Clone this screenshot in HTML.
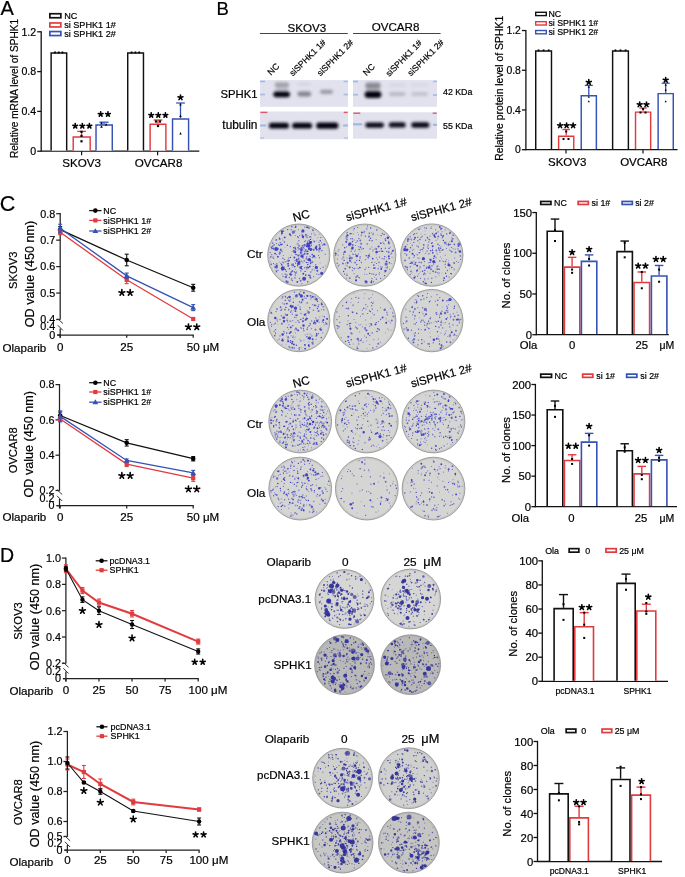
<!DOCTYPE html>
<html><head><meta charset="utf-8"><style>
html,body{margin:0;padding:0;background:#fff;}
svg{display:block;font-family:"Liberation Sans", sans-serif;filter:blur(0.35px);}
text{stroke:#000;stroke-width:0.2px;}
</style></head><body>
<svg width="685" height="877" viewBox="0 0 685 877">
<defs>
<radialGradient id="dishg" cx="50%" cy="50%" r="50%">
<stop offset="0" stop-color="#c6c6c6"/><stop offset="0.88" stop-color="#c2c2c2"/><stop offset="1" stop-color="#b0b0b0"/>
</radialGradient>
<radialGradient id="dishg2" cx="50%" cy="50%" r="50%">
<stop offset="0" stop-color="#c9c9c5"/><stop offset="0.88" stop-color="#c5c5c2"/><stop offset="1" stop-color="#b4b4b2"/>
</radialGradient>
<filter id="bl" x="-50%" y="-100%" width="200%" height="300%"><feGaussianBlur stdDeviation="1.5"/></filter>
<filter id="bl2" x="-50%" y="-100%" width="200%" height="300%"><feGaussianBlur stdDeviation="0.6"/></filter>
</defs>
<rect width="685" height="877" fill="#fff"/>
<text x="0.5" y="14.6" font-size="20" text-anchor="start" fill="#000">A</text>
<rect x="49.85" y="13.75" width="11" height="4" fill="#fff" stroke="#111" stroke-width="1.7"/>
<rect x="49.85" y="22.95" width="11" height="4" fill="#fff" stroke="#e23b3f" stroke-width="1.7"/>
<rect x="49.85" y="31.55" width="11" height="4" fill="#fff" stroke="#3552b5" stroke-width="1.7"/>
<text x="64.2" y="18.7" font-size="9.1" text-anchor="start" fill="#000">NC</text>
<text x="64.2" y="27.9" font-size="9.1" text-anchor="start" fill="#000">si SPHK1 1#</text>
<text x="64.2" y="36.6" font-size="9.1" text-anchor="start" fill="#000">si SPHK1 2#</text>
<line x1="41.2" y1="31.2" x2="41.2" y2="151.8" stroke="#111" stroke-width="1.3"/>
<line x1="37.2" y1="31.8" x2="41.2" y2="31.8" stroke="#111" stroke-width="1.3"/>
<text x="36.2" y="35.62" font-size="10.6" text-anchor="end" fill="#000">1.2</text>
<line x1="37.2" y1="71.6" x2="41.2" y2="71.6" stroke="#111" stroke-width="1.3"/>
<text x="36.2" y="75.42" font-size="10.6" text-anchor="end" fill="#000">0.8</text>
<line x1="37.2" y1="111.4" x2="41.2" y2="111.4" stroke="#111" stroke-width="1.3"/>
<text x="36.2" y="115.22" font-size="10.6" text-anchor="end" fill="#000">0.4</text>
<line x1="37.2" y1="151.2" x2="41.2" y2="151.2" stroke="#111" stroke-width="1.3"/>
<text x="36.2" y="155.02" font-size="10.6" text-anchor="end" fill="#000">0</text>
<line x1="41.2" y1="151.2" x2="199.3" y2="151.2" stroke="#111" stroke-width="1.2"/>
<line x1="81.6" y1="151.2" x2="81.6" y2="155.2" stroke="#111" stroke-width="1.2"/>
<line x1="157.6" y1="151.2" x2="157.6" y2="155.2" stroke="#111" stroke-width="1.2"/>
<text x="18.2" y="88.5" font-size="10.1" text-anchor="middle" fill="#000" transform="rotate(-90 18.2 88.5)">Relative mRNA level of SPHK1</text>
<text x="81.6" y="167.2" font-size="11.6" text-anchor="middle" fill="#000">SKOV3</text>
<text x="158.5" y="167.2" font-size="11.6" text-anchor="middle" fill="#000">OVCAR8</text>
<path d="M51.12 150.6V53.02H66.68V150.6" fill="#fff" stroke="#111" stroke-width="1.45"/>
<path d="M73.22 150.6V136.92H90.18V150.6" fill="#fff" stroke="#e23b3f" stroke-width="1.45"/>
<path d="M96.02 150.6V124.92H112.28V150.6" fill="#fff" stroke="#3552b5" stroke-width="1.45"/>
<path d="M127.72 150.6V53.02H143.47V150.6" fill="#fff" stroke="#111" stroke-width="1.45"/>
<path d="M150.12 150.6V124.22H165.88V150.6" fill="#fff" stroke="#e23b3f" stroke-width="1.45"/>
<path d="M172.53 150.6V119.02H188.58V150.6" fill="#fff" stroke="#3552b5" stroke-width="1.45"/>
<line x1="81.6" y1="136.2" x2="81.6" y2="131.4" stroke="#e23b3f" stroke-width="1.3"/>
<line x1="77.25" y1="131.4" x2="85.95" y2="131.4" stroke="#e23b3f" stroke-width="1.3"/>
<line x1="104" y1="124.2" x2="104" y2="122.2" stroke="#3552b5" stroke-width="1.3"/>
<line x1="99.4" y1="122.2" x2="108.6" y2="122.2" stroke="#3552b5" stroke-width="1.3"/>
<line x1="158" y1="123.5" x2="158" y2="120" stroke="#e23b3f" stroke-width="1.3"/>
<line x1="153.65" y1="120" x2="162.35" y2="120" stroke="#e23b3f" stroke-width="1.3"/>
<line x1="180.5" y1="118.3" x2="180.5" y2="103" stroke="#3552b5" stroke-width="1.3"/>
<line x1="176.15" y1="103" x2="184.85" y2="103" stroke="#3552b5" stroke-width="1.3"/>
<rect x="54.1" y="51.5" width="1.8" height="1.8" fill="#000"/>
<rect x="57.8" y="51.5" width="1.8" height="1.8" fill="#000"/>
<rect x="61.5" y="51.5" width="1.8" height="1.8" fill="#000"/>
<rect x="130.7" y="51.5" width="1.8" height="1.8" fill="#000"/>
<rect x="134.5" y="51.5" width="1.8" height="1.8" fill="#000"/>
<rect x="138.3" y="51.5" width="1.8" height="1.8" fill="#000"/>
<rect x="80.4" y="130.7" width="2.2" height="2.2" fill="#000"/>
<rect x="80.4" y="134.8" width="2.2" height="2.2" fill="#000"/>
<rect x="80.4" y="140.2" width="2.2" height="2.2" fill="#000"/>
<path d="M101.5 121.66L102.82 124.19L100.18 124.19Z" fill="#000"/>
<path d="M101.5 125.26L102.82 127.79L100.18 127.79Z" fill="#000"/>
<path d="M106.1 122.96L107.42 125.49L104.78 125.49Z" fill="#000"/>
<rect x="154.9" y="120.4" width="2.2" height="2.2" fill="#000"/>
<rect x="158.9" y="120.4" width="2.2" height="2.2" fill="#000"/>
<rect x="156.9" y="124.9" width="2.2" height="2.2" fill="#000"/>
<path d="M180.5 103.1L181.7 105.4L179.3 105.4Z" fill="#000"/>
<path d="M180.5 114.6L181.7 116.9L179.3 116.9Z" fill="#000"/>
<path d="M180.5 132.1L181.7 134.4L179.3 134.4Z" fill="#000"/>
<path d="M75.2 126.01L75.2 123.55M75.2 126.01L77.54 125.25M75.2 126.01L76.65 128M75.2 126.01L73.75 128M75.2 126.01L72.86 125.25" stroke="#000" stroke-width="1.6" stroke-linecap="round" fill="none"/>
<path d="M82.3 126.01L82.3 123.55M82.3 126.01L84.64 125.25M82.3 126.01L83.75 128M82.3 126.01L80.85 128M82.3 126.01L79.96 125.25" stroke="#000" stroke-width="1.6" stroke-linecap="round" fill="none"/>
<path d="M89.4 126.01L89.4 123.55M89.4 126.01L91.74 125.25M89.4 126.01L90.85 128M89.4 126.01L87.95 128M89.4 126.01L87.06 125.25" stroke="#000" stroke-width="1.6" stroke-linecap="round" fill="none"/>
<path d="M100.65 114.21L100.65 111.75M100.65 114.21L102.99 113.45M100.65 114.21L102.1 116.2M100.65 114.21L99.2 116.2M100.65 114.21L98.31 113.45" stroke="#000" stroke-width="1.6" stroke-linecap="round" fill="none"/>
<path d="M107.95 114.21L107.95 111.75M107.95 114.21L110.29 113.45M107.95 114.21L109.4 116.2M107.95 114.21L106.5 116.2M107.95 114.21L105.61 113.45" stroke="#000" stroke-width="1.6" stroke-linecap="round" fill="none"/>
<path d="M151.2 115.21L151.2 112.75M151.2 115.21L153.54 114.45M151.2 115.21L152.65 117.2M151.2 115.21L149.75 117.2M151.2 115.21L148.86 114.45" stroke="#000" stroke-width="1.6" stroke-linecap="round" fill="none"/>
<path d="M158.3 115.21L158.3 112.75M158.3 115.21L160.64 114.45M158.3 115.21L159.75 117.2M158.3 115.21L156.85 117.2M158.3 115.21L155.96 114.45" stroke="#000" stroke-width="1.6" stroke-linecap="round" fill="none"/>
<path d="M165.4 115.21L165.4 112.75M165.4 115.21L167.74 114.45M165.4 115.21L166.85 117.2M165.4 115.21L163.95 117.2M165.4 115.21L163.06 114.45" stroke="#000" stroke-width="1.6" stroke-linecap="round" fill="none"/>
<path d="M180.5 97.53L180.5 94.97M180.5 97.53L182.94 96.74M180.5 97.53L182.01 99.6M180.5 97.53L178.99 99.6M180.5 97.53L178.06 96.74" stroke="#000" stroke-width="1.6" stroke-linecap="round" fill="none"/>
<text x="216.5" y="15.3" font-size="18.5" text-anchor="start" fill="#000">B</text>
<text x="306.8" y="31.6" font-size="11.6" text-anchor="middle" fill="#000">SKOV3</text>
<text x="395.5" y="31.4" font-size="11.6" text-anchor="middle" fill="#000">OVCAR8</text>
<line x1="259.9" y1="33.5" x2="347.8" y2="33.5" stroke="#444" stroke-width="1.1"/>
<line x1="353" y1="33.5" x2="440.6" y2="33.5" stroke="#444" stroke-width="1.1"/>
<text x="271" y="75.8" font-size="8.75" text-anchor="start" fill="#000" transform="rotate(-45 271 75.8)">NC</text>
<text x="293" y="76.6" font-size="8.75" text-anchor="start" fill="#000" transform="rotate(-45 293 76.6)">siSPHK1 1#</text>
<text x="320.6" y="76.6" font-size="8.75" text-anchor="start" fill="#000" transform="rotate(-45 320.6 76.6)">siSPHK1 2#</text>
<text x="366.6" y="76.2" font-size="8.75" text-anchor="start" fill="#000" transform="rotate(-45 366.6 76.2)">NC</text>
<text x="389.2" y="77" font-size="8.75" text-anchor="start" fill="#000" transform="rotate(-45 389.2 77)">siSPHK1 1#</text>
<text x="411.1" y="76.6" font-size="8.75" text-anchor="start" fill="#000" transform="rotate(-45 411.1 76.6)">siSPHK1 2#</text>
<text x="257.6" y="97.7" font-size="11.3" text-anchor="end" fill="#000">SPHK1</text>
<text x="257.4" y="129" font-size="11.9" text-anchor="end" fill="#000">tubulin</text>
<text x="443" y="95.2" font-size="8.8" text-anchor="start" fill="#000">42 KDa</text>
<text x="443" y="129.2" font-size="8.8" text-anchor="start" fill="#000">55 KDa</text>
<rect x="535.7" y="12.3" width="10.6" height="3.3" fill="#fff" stroke="#111" stroke-width="1.4"/>
<rect x="535.7" y="21.7" width="10.6" height="3.3" fill="#fff" stroke="#e23b3f" stroke-width="1.4"/>
<rect x="535.7" y="30.5" width="10.6" height="3.3" fill="#fff" stroke="#3552b5" stroke-width="1.4"/>
<text x="548.4" y="16.9" font-size="8.8" text-anchor="start" fill="#000">NC</text>
<text x="548.4" y="26.1" font-size="8.8" text-anchor="start" fill="#000">si SPHK1 1#</text>
<text x="548.4" y="34.9" font-size="8.8" text-anchor="start" fill="#000">si SPHK1 2#</text>
<line x1="525.9" y1="29.94" x2="525.9" y2="150.3" stroke="#111" stroke-width="1.3"/>
<line x1="521.9" y1="30.54" x2="525.9" y2="30.54" stroke="#111" stroke-width="1.3"/>
<text x="520.9" y="34.28" font-size="10.4" text-anchor="end" fill="#000">1.2</text>
<line x1="521.9" y1="70.26" x2="525.9" y2="70.26" stroke="#111" stroke-width="1.3"/>
<text x="520.9" y="74" font-size="10.4" text-anchor="end" fill="#000">0.8</text>
<line x1="521.9" y1="109.98" x2="525.9" y2="109.98" stroke="#111" stroke-width="1.3"/>
<text x="520.9" y="113.72" font-size="10.4" text-anchor="end" fill="#000">0.4</text>
<line x1="521.9" y1="149.7" x2="525.9" y2="149.7" stroke="#111" stroke-width="1.3"/>
<text x="520.9" y="153.44" font-size="10.4" text-anchor="end" fill="#000">0</text>
<line x1="525.9" y1="149.7" x2="677.5" y2="149.7" stroke="#111" stroke-width="1.2"/>
<line x1="566" y1="149.7" x2="566" y2="153.5" stroke="#111" stroke-width="1.2"/>
<line x1="643" y1="149.7" x2="643" y2="153.5" stroke="#111" stroke-width="1.2"/>
<text x="503.5" y="88.3" font-size="10.4" text-anchor="middle" fill="#000" transform="rotate(-90 503.5 88.3)">Relative protein level of SPHK1</text>
<text x="567.2" y="166.4" font-size="11.5" text-anchor="middle" fill="#000">SKOV3</text>
<text x="643.8" y="166.4" font-size="11.5" text-anchor="middle" fill="#000">OVCAR8</text>
<path d="M535.73 149.1V50.93H551.48V149.1" fill="#fff" stroke="#111" stroke-width="1.45"/>
<path d="M558.62 149.1V136.32H573.77V149.1" fill="#fff" stroke="#e23b3f" stroke-width="1.45"/>
<path d="M581.23 149.1V95.82H596.38V149.1" fill="#fff" stroke="#3552b5" stroke-width="1.45"/>
<path d="M612.62 149.1V50.93H628.38V149.1" fill="#fff" stroke="#111" stroke-width="1.45"/>
<path d="M635.52 149.1V112.12H650.67V149.1" fill="#fff" stroke="#e23b3f" stroke-width="1.45"/>
<path d="M658.12 149.1V93.62H673.27V149.1" fill="#fff" stroke="#3552b5" stroke-width="1.45"/>
<line x1="566.2" y1="135.6" x2="566.2" y2="129.5" stroke="#e23b3f" stroke-width="1.3"/>
<line x1="562.45" y1="129.5" x2="569.95" y2="129.5" stroke="#e23b3f" stroke-width="1.3"/>
<line x1="588.8" y1="95.1" x2="588.8" y2="85.4" stroke="#3552b5" stroke-width="1.3"/>
<line x1="584.8" y1="85.4" x2="592.8" y2="85.4" stroke="#3552b5" stroke-width="1.3"/>
<line x1="643.1" y1="111.4" x2="643.1" y2="108" stroke="#e23b3f" stroke-width="1.3"/>
<line x1="639.35" y1="108" x2="646.85" y2="108" stroke="#e23b3f" stroke-width="1.3"/>
<line x1="665.7" y1="92.9" x2="665.7" y2="83.2" stroke="#3552b5" stroke-width="1.3"/>
<line x1="661.7" y1="83.2" x2="669.7" y2="83.2" stroke="#3552b5" stroke-width="1.3"/>
<rect x="537.65" y="49.45" width="1.7" height="1.7" fill="#000"/>
<rect x="542.75" y="49.45" width="1.7" height="1.7" fill="#000"/>
<rect x="547.85" y="49.45" width="1.7" height="1.7" fill="#000"/>
<rect x="614.55" y="49.45" width="1.7" height="1.7" fill="#000"/>
<rect x="619.65" y="49.45" width="1.7" height="1.7" fill="#000"/>
<rect x="624.75" y="49.45" width="1.7" height="1.7" fill="#000"/>
<rect x="565.2" y="130.5" width="2" height="2" fill="#000"/>
<rect x="562.5" y="138" width="2" height="2" fill="#000"/>
<rect x="567.5" y="138" width="2" height="2" fill="#000"/>
<path d="M588.8 85.74L589.88 87.81L587.72 87.81Z" fill="#000"/>
<path d="M588.8 95.74L589.88 97.81L587.72 97.81Z" fill="#000"/>
<path d="M588.8 100.24L589.88 102.31L587.72 102.31Z" fill="#000"/>
<rect x="642.1" y="108" width="2" height="2" fill="#000"/>
<rect x="639.5" y="111.5" width="2" height="2" fill="#000"/>
<rect x="644.5" y="111.5" width="2" height="2" fill="#000"/>
<path d="M665.7 83.74L666.78 85.81L664.62 85.81Z" fill="#000"/>
<path d="M665.7 88.74L666.78 90.81L664.62 90.81Z" fill="#000"/>
<path d="M665.7 100.24L666.78 102.31L664.62 102.31Z" fill="#000"/>
<path d="M560.1 125.53L560.1 122.97M560.1 125.53L562.54 124.74M560.1 125.53L561.61 127.6M560.1 125.53L558.59 127.6M560.1 125.53L557.66 124.74" stroke="#000" stroke-width="1.6" stroke-linecap="round" fill="none"/>
<path d="M566.6 125.53L566.6 122.97M566.6 125.53L569.04 124.74M566.6 125.53L568.11 127.6M566.6 125.53L565.09 127.6M566.6 125.53L564.16 124.74" stroke="#000" stroke-width="1.6" stroke-linecap="round" fill="none"/>
<path d="M573.1 125.53L573.1 122.97M573.1 125.53L575.54 124.74M573.1 125.53L574.61 127.6M573.1 125.53L571.59 127.6M573.1 125.53L570.66 124.74" stroke="#000" stroke-width="1.6" stroke-linecap="round" fill="none"/>
<path d="M588.8 82.23L588.8 79.66M588.8 82.23L591.24 81.44M588.8 82.23L590.31 84.3M588.8 82.23L587.29 84.3M588.8 82.23L586.36 81.44" stroke="#000" stroke-width="1.6" stroke-linecap="round" fill="none"/>
<path d="M639.7 104.53L639.7 101.97M639.7 104.53L642.14 103.74M639.7 104.53L641.21 106.6M639.7 104.53L638.19 106.6M639.7 104.53L637.26 103.74" stroke="#000" stroke-width="1.6" stroke-linecap="round" fill="none"/>
<path d="M646.5 104.53L646.5 101.97M646.5 104.53L648.94 103.74M646.5 104.53L648.01 106.6M646.5 104.53L644.99 106.6M646.5 104.53L644.06 103.74" stroke="#000" stroke-width="1.6" stroke-linecap="round" fill="none"/>
<path d="M665.7 80.03L665.7 77.47M665.7 80.03L668.14 79.24M665.7 80.03L667.21 82.1M665.7 80.03L664.19 82.1M665.7 80.03L663.26 79.24" stroke="#000" stroke-width="1.6" stroke-linecap="round" fill="none"/>
<text x="-0.2" y="210.9" font-size="21.5" text-anchor="start" fill="#000">C</text>
<line x1="60.2" y1="213.1" x2="60.2" y2="319.6" stroke="#222" stroke-width="1.25"/>
<line x1="56.2" y1="213.7" x2="60.2" y2="213.7" stroke="#222" stroke-width="1.25"/>
<text x="55.2" y="217.59" font-size="10.8" text-anchor="end" fill="#000">0.8</text>
<line x1="56.2" y1="240.15" x2="60.2" y2="240.15" stroke="#222" stroke-width="1.25"/>
<text x="55.2" y="244.04" font-size="10.8" text-anchor="end" fill="#000">0.7</text>
<line x1="56.2" y1="266.6" x2="60.2" y2="266.6" stroke="#222" stroke-width="1.25"/>
<text x="55.2" y="270.49" font-size="10.8" text-anchor="end" fill="#000">0.6</text>
<line x1="56.2" y1="293.05" x2="60.2" y2="293.05" stroke="#222" stroke-width="1.25"/>
<text x="55.2" y="296.94" font-size="10.8" text-anchor="end" fill="#000">0.5</text>
<line x1="56.2" y1="319.5" x2="60.2" y2="319.5" stroke="#222" stroke-width="1.25"/>
<text x="55.2" y="323.39" font-size="10.8" text-anchor="end" fill="#000">0.4</text>
<line x1="60.2" y1="328.4" x2="60.2" y2="337.8" stroke="#222" stroke-width="1.25"/>
<text x="55.2" y="329.89" font-size="10.8" text-anchor="end" fill="#000">0.4</text>
<line x1="57.2" y1="335" x2="60.2" y2="335" stroke="#222" stroke-width="1.25"/>
<text x="55.2" y="338.89" font-size="10.8" text-anchor="end" fill="#000">0</text>
<line x1="57.7" y1="318.6" x2="62.9" y2="323.6" stroke="#333" stroke-width="1"/>
<line x1="57.7" y1="325.2" x2="62.9" y2="330.4" stroke="#333" stroke-width="1"/>
<line x1="57.2" y1="335" x2="193.8" y2="335" stroke="#222" stroke-width="1.25"/>
<line x1="60.2" y1="335" x2="60.2" y2="337.8" stroke="#222" stroke-width="1.25"/>
<line x1="126.7" y1="335" x2="126.7" y2="337.8" stroke="#222" stroke-width="1.25"/>
<line x1="193.2" y1="335" x2="193.2" y2="337.8" stroke="#222" stroke-width="1.25"/>
<text x="60.2" y="351.2" font-size="11.6" text-anchor="middle" fill="#000">0</text>
<text x="126.7" y="351.2" font-size="11.6" text-anchor="middle" fill="#000">25</text>
<text x="193.2" y="351.2" font-size="11.6" text-anchor="middle" fill="#000">50</text>
<text x="202.9" y="351.2" font-size="11.6" text-anchor="start" fill="#000">μM</text>
<text x="16.6" y="270.3" font-size="11.2" text-anchor="middle" fill="#000" transform="rotate(-90 16.6 270.3)">SKOV3</text>
<text x="33.5" y="274" font-size="12.6" text-anchor="middle" fill="#000" transform="rotate(-90 33.5 274)">OD value (450 nm)</text>
<text x="2.5" y="351.5" font-size="11.6" text-anchor="start" fill="#000">Olaparib</text>
<polyline points="60.2,229.57 126.7,259.99 193.2,287.76" fill="none" stroke="#111" stroke-width="1.3"/>
<line x1="60.2" y1="226.57" x2="60.2" y2="232.57" stroke="#111" stroke-width="1.1"/>
<line x1="58.2" y1="226.57" x2="62.2" y2="226.57" stroke="#111" stroke-width="1.1"/>
<line x1="58.2" y1="232.57" x2="62.2" y2="232.57" stroke="#111" stroke-width="1.1"/>
<line x1="126.7" y1="254.19" x2="126.7" y2="265.79" stroke="#111" stroke-width="1.1"/>
<line x1="124.7" y1="254.19" x2="128.7" y2="254.19" stroke="#111" stroke-width="1.1"/>
<line x1="124.7" y1="265.79" x2="128.7" y2="265.79" stroke="#111" stroke-width="1.1"/>
<line x1="193.2" y1="284.36" x2="193.2" y2="291.16" stroke="#111" stroke-width="1.1"/>
<line x1="191.2" y1="284.36" x2="195.2" y2="284.36" stroke="#111" stroke-width="1.1"/>
<line x1="191.2" y1="291.16" x2="195.2" y2="291.16" stroke="#111" stroke-width="1.1"/>
<circle cx="60.2" cy="229.57" r="2.3" fill="#000"/>
<circle cx="126.7" cy="259.99" r="2.3" fill="#000"/>
<circle cx="193.2" cy="287.76" r="2.3" fill="#000"/>
<polyline points="60.2,232.22 126.7,279.82 193.2,318.97" fill="none" stroke="#e23b3f" stroke-width="1.3"/>
<line x1="60.2" y1="229.72" x2="60.2" y2="234.72" stroke="#e23b3f" stroke-width="1.1"/>
<line x1="58.2" y1="229.72" x2="62.2" y2="229.72" stroke="#e23b3f" stroke-width="1.1"/>
<line x1="58.2" y1="234.72" x2="62.2" y2="234.72" stroke="#e23b3f" stroke-width="1.1"/>
<line x1="126.7" y1="276.02" x2="126.7" y2="283.62" stroke="#e23b3f" stroke-width="1.1"/>
<line x1="124.7" y1="276.02" x2="128.7" y2="276.02" stroke="#e23b3f" stroke-width="1.1"/>
<line x1="124.7" y1="283.62" x2="128.7" y2="283.62" stroke="#e23b3f" stroke-width="1.1"/>
<rect x="58.1" y="230.12" width="4.2" height="4.2" fill="#e23b3f"/>
<rect x="124.6" y="277.72" width="4.2" height="4.2" fill="#e23b3f"/>
<rect x="191.1" y="316.87" width="4.2" height="4.2" fill="#e23b3f"/>
<polyline points="60.2,228.25 126.7,275.86 193.2,307.6" fill="none" stroke="#3552b5" stroke-width="1.3"/>
<line x1="60.2" y1="224.25" x2="60.2" y2="232.25" stroke="#3552b5" stroke-width="1.1"/>
<line x1="58.2" y1="224.25" x2="62.2" y2="224.25" stroke="#3552b5" stroke-width="1.1"/>
<line x1="58.2" y1="232.25" x2="62.2" y2="232.25" stroke="#3552b5" stroke-width="1.1"/>
<line x1="126.7" y1="273.06" x2="126.7" y2="278.66" stroke="#3552b5" stroke-width="1.1"/>
<line x1="124.7" y1="273.06" x2="128.7" y2="273.06" stroke="#3552b5" stroke-width="1.1"/>
<line x1="124.7" y1="278.66" x2="128.7" y2="278.66" stroke="#3552b5" stroke-width="1.1"/>
<line x1="193.2" y1="304.6" x2="193.2" y2="310.6" stroke="#3552b5" stroke-width="1.1"/>
<line x1="191.2" y1="304.6" x2="195.2" y2="304.6" stroke="#3552b5" stroke-width="1.1"/>
<line x1="191.2" y1="310.6" x2="195.2" y2="310.6" stroke="#3552b5" stroke-width="1.1"/>
<path d="M60.2 225.39L63.06 230.33L57.34 230.33Z" fill="#3552b5"/>
<path d="M126.7 273L129.56 277.94L123.84 277.94Z" fill="#3552b5"/>
<path d="M193.2 304.74L196.06 309.68L190.34 309.68Z" fill="#3552b5"/>
<path d="M121.85 292.71L121.85 289.64M121.85 292.71L124.77 291.76M121.85 292.71L123.66 295.2M121.85 292.71L120.04 295.2M121.85 292.71L118.93 291.76" stroke="#000" stroke-width="1.6" stroke-linecap="round" fill="none"/>
<path d="M130.15 292.71L130.15 289.64M130.15 292.71L133.07 291.76M130.15 292.71L131.96 295.2M130.15 292.71L128.34 295.2M130.15 292.71L127.23 291.76" stroke="#000" stroke-width="1.6" stroke-linecap="round" fill="none"/>
<path d="M188.45 327.01L188.45 323.94M188.45 327.01L191.37 326.06M188.45 327.01L190.26 329.5M188.45 327.01L186.64 329.5M188.45 327.01L185.53 326.06" stroke="#000" stroke-width="1.6" stroke-linecap="round" fill="none"/>
<path d="M196.75 327.01L196.75 323.94M196.75 327.01L199.67 326.06M196.75 327.01L198.56 329.5M196.75 327.01L194.94 329.5M196.75 327.01L193.83 326.06" stroke="#000" stroke-width="1.6" stroke-linecap="round" fill="none"/>
<line x1="89.2" y1="210.6" x2="101.5" y2="210.6" stroke="#111" stroke-width="1.3"/>
<circle cx="95.35" cy="210.6" r="2.3" fill="#000"/>
<text x="103.3" y="213.8" font-size="8.9" text-anchor="start" fill="#000">NC</text>
<line x1="89.2" y1="220.4" x2="101.5" y2="220.4" stroke="#e23b3f" stroke-width="1.3"/>
<rect x="93.25" y="218.3" width="4.2" height="4.2" fill="#e23b3f"/>
<text x="103.3" y="223.6" font-size="8.9" text-anchor="start" fill="#000">siSPHK1 1#</text>
<line x1="89.2" y1="231" x2="101.5" y2="231" stroke="#3552b5" stroke-width="1.3"/>
<path d="M95.35 228.14L98.21 233.08L92.49 233.08Z" fill="#3552b5"/>
<text x="103.3" y="234.2" font-size="8.9" text-anchor="start" fill="#000">siSPHK1 2#</text>
<line x1="59.5" y1="384" x2="59.5" y2="490.6" stroke="#222" stroke-width="1.25"/>
<line x1="55.5" y1="384.6" x2="59.5" y2="384.6" stroke="#222" stroke-width="1.25"/>
<text x="54.5" y="388.49" font-size="10.8" text-anchor="end" fill="#000">0.8</text>
<line x1="55.5" y1="419.9" x2="59.5" y2="419.9" stroke="#222" stroke-width="1.25"/>
<text x="54.5" y="423.79" font-size="10.8" text-anchor="end" fill="#000">0.6</text>
<line x1="55.5" y1="455.2" x2="59.5" y2="455.2" stroke="#222" stroke-width="1.25"/>
<text x="54.5" y="459.09" font-size="10.8" text-anchor="end" fill="#000">0.4</text>
<line x1="55.5" y1="490.5" x2="59.5" y2="490.5" stroke="#222" stroke-width="1.25"/>
<text x="54.5" y="494.39" font-size="10.8" text-anchor="end" fill="#000">0.2</text>
<line x1="59.5" y1="499" x2="59.5" y2="508.4" stroke="#222" stroke-width="1.25"/>
<text x="54.5" y="501.59" font-size="10.8" text-anchor="end" fill="#000">0.2</text>
<line x1="56.5" y1="505.6" x2="59.5" y2="505.6" stroke="#222" stroke-width="1.25"/>
<text x="54.5" y="509.49" font-size="10.8" text-anchor="end" fill="#000">0</text>
<line x1="57" y1="489.6" x2="62.2" y2="494.6" stroke="#333" stroke-width="1"/>
<line x1="57" y1="495.8" x2="62.2" y2="501" stroke="#333" stroke-width="1"/>
<line x1="56.5" y1="505.6" x2="193.8" y2="505.6" stroke="#222" stroke-width="1.25"/>
<line x1="60.2" y1="505.6" x2="60.2" y2="508.4" stroke="#222" stroke-width="1.25"/>
<line x1="126.7" y1="505.6" x2="126.7" y2="508.4" stroke="#222" stroke-width="1.25"/>
<line x1="193.2" y1="505.6" x2="193.2" y2="508.4" stroke="#222" stroke-width="1.25"/>
<text x="60.2" y="521" font-size="11.6" text-anchor="middle" fill="#000">0</text>
<text x="126.7" y="521" font-size="11.6" text-anchor="middle" fill="#000">25</text>
<text x="193.2" y="521" font-size="11.6" text-anchor="middle" fill="#000">50</text>
<text x="202.9" y="521" font-size="11.6" text-anchor="start" fill="#000">μM</text>
<text x="16.6" y="450.3" font-size="11.2" text-anchor="middle" fill="#000" transform="rotate(-90 16.6 450.3)">OVCAR8</text>
<text x="33.5" y="444.3" font-size="12.6" text-anchor="middle" fill="#000" transform="rotate(-90 33.5 444.3)">OD value (450 nm)</text>
<text x="2.5" y="521" font-size="11.6" text-anchor="start" fill="#000">Olaparib</text>
<polyline points="60.2,415.49 126.7,442.85 193.2,458.73" fill="none" stroke="#111" stroke-width="1.3"/>
<line x1="60.2" y1="411.99" x2="60.2" y2="418.99" stroke="#111" stroke-width="1.1"/>
<line x1="58.2" y1="411.99" x2="62.2" y2="411.99" stroke="#111" stroke-width="1.1"/>
<line x1="58.2" y1="418.99" x2="62.2" y2="418.99" stroke="#111" stroke-width="1.1"/>
<line x1="126.7" y1="439.65" x2="126.7" y2="446.05" stroke="#111" stroke-width="1.1"/>
<line x1="124.7" y1="439.65" x2="128.7" y2="439.65" stroke="#111" stroke-width="1.1"/>
<line x1="124.7" y1="446.05" x2="128.7" y2="446.05" stroke="#111" stroke-width="1.1"/>
<line x1="193.2" y1="456.53" x2="193.2" y2="460.93" stroke="#111" stroke-width="1.1"/>
<line x1="191.2" y1="456.53" x2="195.2" y2="456.53" stroke="#111" stroke-width="1.1"/>
<line x1="191.2" y1="460.93" x2="195.2" y2="460.93" stroke="#111" stroke-width="1.1"/>
<circle cx="60.2" cy="415.49" r="2.3" fill="#000"/>
<circle cx="126.7" cy="442.85" r="2.3" fill="#000"/>
<circle cx="193.2" cy="458.73" r="2.3" fill="#000"/>
<polyline points="60.2,419.02 126.7,464.03 193.2,478.15" fill="none" stroke="#e23b3f" stroke-width="1.3"/>
<line x1="60.2" y1="416.52" x2="60.2" y2="421.52" stroke="#e23b3f" stroke-width="1.1"/>
<line x1="58.2" y1="416.52" x2="62.2" y2="416.52" stroke="#e23b3f" stroke-width="1.1"/>
<line x1="58.2" y1="421.52" x2="62.2" y2="421.52" stroke="#e23b3f" stroke-width="1.1"/>
<line x1="126.7" y1="461.53" x2="126.7" y2="466.53" stroke="#e23b3f" stroke-width="1.1"/>
<line x1="124.7" y1="461.53" x2="128.7" y2="461.53" stroke="#e23b3f" stroke-width="1.1"/>
<line x1="124.7" y1="466.53" x2="128.7" y2="466.53" stroke="#e23b3f" stroke-width="1.1"/>
<line x1="193.2" y1="474.95" x2="193.2" y2="481.35" stroke="#e23b3f" stroke-width="1.1"/>
<line x1="191.2" y1="474.95" x2="195.2" y2="474.95" stroke="#e23b3f" stroke-width="1.1"/>
<line x1="191.2" y1="481.35" x2="195.2" y2="481.35" stroke="#e23b3f" stroke-width="1.1"/>
<rect x="58.1" y="416.92" width="4.2" height="4.2" fill="#e23b3f"/>
<rect x="124.6" y="461.93" width="4.2" height="4.2" fill="#e23b3f"/>
<rect x="191.1" y="476.05" width="4.2" height="4.2" fill="#e23b3f"/>
<polyline points="60.2,416.37 126.7,460.5 193.2,472.85" fill="none" stroke="#3552b5" stroke-width="1.3"/>
<line x1="60.2" y1="410.87" x2="60.2" y2="421.87" stroke="#3552b5" stroke-width="1.1"/>
<line x1="58.2" y1="410.87" x2="62.2" y2="410.87" stroke="#3552b5" stroke-width="1.1"/>
<line x1="58.2" y1="421.87" x2="62.2" y2="421.87" stroke="#3552b5" stroke-width="1.1"/>
<line x1="126.7" y1="459" x2="126.7" y2="462" stroke="#3552b5" stroke-width="1.1"/>
<line x1="124.7" y1="459" x2="128.7" y2="459" stroke="#3552b5" stroke-width="1.1"/>
<line x1="124.7" y1="462" x2="128.7" y2="462" stroke="#3552b5" stroke-width="1.1"/>
<line x1="193.2" y1="470.35" x2="193.2" y2="475.35" stroke="#3552b5" stroke-width="1.1"/>
<line x1="191.2" y1="470.35" x2="195.2" y2="470.35" stroke="#3552b5" stroke-width="1.1"/>
<line x1="191.2" y1="475.35" x2="195.2" y2="475.35" stroke="#3552b5" stroke-width="1.1"/>
<path d="M60.2 413.51L63.06 418.45L57.34 418.45Z" fill="#3552b5"/>
<path d="M126.7 457.63L129.56 462.57L123.84 462.57Z" fill="#3552b5"/>
<path d="M193.2 469.99L196.06 474.93L190.34 474.93Z" fill="#3552b5"/>
<path d="M121.85 475.71L121.85 472.64M121.85 475.71L124.77 474.76M121.85 475.71L123.66 478.2M121.85 475.71L120.04 478.2M121.85 475.71L118.93 474.76" stroke="#000" stroke-width="1.6" stroke-linecap="round" fill="none"/>
<path d="M130.15 475.71L130.15 472.64M130.15 475.71L133.07 474.76M130.15 475.71L131.96 478.2M130.15 475.71L128.34 478.2M130.15 475.71L127.23 474.76" stroke="#000" stroke-width="1.6" stroke-linecap="round" fill="none"/>
<path d="M188.45 489.11L188.45 486.04M188.45 489.11L191.37 488.16M188.45 489.11L190.26 491.6M188.45 489.11L186.64 491.6M188.45 489.11L185.53 488.16" stroke="#000" stroke-width="1.6" stroke-linecap="round" fill="none"/>
<path d="M196.75 489.11L196.75 486.04M196.75 489.11L199.67 488.16M196.75 489.11L198.56 491.6M196.75 489.11L194.94 491.6M196.75 489.11L193.83 488.16" stroke="#000" stroke-width="1.6" stroke-linecap="round" fill="none"/>
<line x1="89.2" y1="382.7" x2="101.5" y2="382.7" stroke="#111" stroke-width="1.3"/>
<circle cx="95.35" cy="382.7" r="2.3" fill="#000"/>
<text x="103.3" y="385.9" font-size="8.9" text-anchor="start" fill="#000">NC</text>
<line x1="89.2" y1="392" x2="101.5" y2="392" stroke="#e23b3f" stroke-width="1.3"/>
<rect x="93.25" y="389.9" width="4.2" height="4.2" fill="#e23b3f"/>
<text x="103.3" y="395.2" font-size="8.9" text-anchor="start" fill="#000">siSPHK1 1#</text>
<line x1="89.2" y1="402.2" x2="101.5" y2="402.2" stroke="#3552b5" stroke-width="1.3"/>
<path d="M95.35 399.34L98.21 404.28L92.49 404.28Z" fill="#3552b5"/>
<text x="103.3" y="405.4" font-size="8.9" text-anchor="start" fill="#000">siSPHK1 2#</text>
<text x="0" y="562" font-size="19.5" text-anchor="start" fill="#000">D</text>
<line x1="65.9" y1="557.5" x2="65.9" y2="663.4" stroke="#222" stroke-width="1.25"/>
<line x1="61.9" y1="558.1" x2="65.9" y2="558.1" stroke="#222" stroke-width="1.25"/>
<text x="60.9" y="561.99" font-size="10.8" text-anchor="end" fill="#000">1.0</text>
<line x1="61.9" y1="584.4" x2="65.9" y2="584.4" stroke="#222" stroke-width="1.25"/>
<text x="60.9" y="588.29" font-size="10.8" text-anchor="end" fill="#000">0.8</text>
<line x1="61.9" y1="610.7" x2="65.9" y2="610.7" stroke="#222" stroke-width="1.25"/>
<text x="60.9" y="614.59" font-size="10.8" text-anchor="end" fill="#000">0.6</text>
<line x1="61.9" y1="637" x2="65.9" y2="637" stroke="#222" stroke-width="1.25"/>
<text x="60.9" y="640.89" font-size="10.8" text-anchor="end" fill="#000">0.4</text>
<line x1="61.9" y1="663.3" x2="65.9" y2="663.3" stroke="#222" stroke-width="1.25"/>
<text x="60.9" y="667.19" font-size="10.8" text-anchor="end" fill="#000">0.2</text>
<line x1="65.9" y1="671.5" x2="65.9" y2="681.4" stroke="#222" stroke-width="1.25"/>
<text x="60.9" y="674.79" font-size="10.8" text-anchor="end" fill="#000">0.2</text>
<line x1="62.9" y1="678.6" x2="65.9" y2="678.6" stroke="#222" stroke-width="1.25"/>
<text x="60.9" y="682.49" font-size="10.8" text-anchor="end" fill="#000">0</text>
<line x1="63.4" y1="662.4" x2="68.6" y2="667.4" stroke="#333" stroke-width="1"/>
<line x1="63.4" y1="668.3" x2="68.6" y2="673.5" stroke="#333" stroke-width="1"/>
<line x1="62.9" y1="678.6" x2="198.8" y2="678.6" stroke="#222" stroke-width="1.25"/>
<line x1="65.9" y1="678.6" x2="65.9" y2="681.4" stroke="#222" stroke-width="1.25"/>
<line x1="98.97" y1="678.6" x2="98.97" y2="681.4" stroke="#222" stroke-width="1.25"/>
<line x1="132.05" y1="678.6" x2="132.05" y2="681.4" stroke="#222" stroke-width="1.25"/>
<line x1="165.12" y1="678.6" x2="165.12" y2="681.4" stroke="#222" stroke-width="1.25"/>
<line x1="198.2" y1="678.6" x2="198.2" y2="681.4" stroke="#222" stroke-width="1.25"/>
<text x="65.9" y="694.4" font-size="11.6" text-anchor="middle" fill="#000">0</text>
<text x="98.97" y="694.4" font-size="11.6" text-anchor="middle" fill="#000">25</text>
<text x="132.05" y="694.4" font-size="11.6" text-anchor="middle" fill="#000">50</text>
<text x="165.12" y="694.4" font-size="11.6" text-anchor="middle" fill="#000">75</text>
<text x="198.2" y="694.4" font-size="11.6" text-anchor="middle" fill="#000">100</text>
<text x="211.12" y="694.4" font-size="11.6" text-anchor="start" fill="#000">μM</text>
<text x="21.5" y="621" font-size="11.2" text-anchor="middle" fill="#000" transform="rotate(-90 21.5 621)">SKOV3</text>
<text x="38.5" y="617" font-size="12.6" text-anchor="middle" fill="#000" transform="rotate(-90 38.5 617)">OD value (450 nm)</text>
<text x="9.5" y="694.6" font-size="11.6" text-anchor="start" fill="#000">Olaparib</text>
<polyline points="65.9,568.75 82.44,590.58 98.97,602.55 132.05,613.72 198.2,641.6" fill="none" stroke="#e23b3f" stroke-width="2"/>
<line x1="65.9" y1="564.75" x2="65.9" y2="572.75" stroke="#e23b3f" stroke-width="1.1"/>
<line x1="63.9" y1="564.75" x2="67.9" y2="564.75" stroke="#e23b3f" stroke-width="1.1"/>
<line x1="63.9" y1="572.75" x2="67.9" y2="572.75" stroke="#e23b3f" stroke-width="1.1"/>
<line x1="82.44" y1="587.58" x2="82.44" y2="593.58" stroke="#e23b3f" stroke-width="1.1"/>
<line x1="80.44" y1="587.58" x2="84.44" y2="587.58" stroke="#e23b3f" stroke-width="1.1"/>
<line x1="80.44" y1="593.58" x2="84.44" y2="593.58" stroke="#e23b3f" stroke-width="1.1"/>
<line x1="98.97" y1="599.05" x2="98.97" y2="606.05" stroke="#e23b3f" stroke-width="1.1"/>
<line x1="96.97" y1="599.05" x2="100.97" y2="599.05" stroke="#e23b3f" stroke-width="1.1"/>
<line x1="96.97" y1="606.05" x2="100.97" y2="606.05" stroke="#e23b3f" stroke-width="1.1"/>
<line x1="132.05" y1="610.52" x2="132.05" y2="616.92" stroke="#e23b3f" stroke-width="1.1"/>
<line x1="130.05" y1="610.52" x2="134.05" y2="610.52" stroke="#e23b3f" stroke-width="1.1"/>
<line x1="130.05" y1="616.92" x2="134.05" y2="616.92" stroke="#e23b3f" stroke-width="1.1"/>
<line x1="198.2" y1="639.1" x2="198.2" y2="644.1" stroke="#e23b3f" stroke-width="1.1"/>
<line x1="196.2" y1="639.1" x2="200.2" y2="639.1" stroke="#e23b3f" stroke-width="1.1"/>
<line x1="196.2" y1="644.1" x2="200.2" y2="644.1" stroke="#e23b3f" stroke-width="1.1"/>
<rect x="63.8" y="566.65" width="4.2" height="4.2" fill="#e23b3f"/>
<rect x="80.34" y="588.48" width="4.2" height="4.2" fill="#e23b3f"/>
<rect x="96.88" y="600.45" width="4.2" height="4.2" fill="#e23b3f"/>
<rect x="129.95" y="611.62" width="4.2" height="4.2" fill="#e23b3f"/>
<rect x="196.1" y="639.5" width="4.2" height="4.2" fill="#e23b3f"/>
<polyline points="65.9,568.75 82.44,599.65 98.97,610.7 132.05,624.51 198.2,651.47" fill="none" stroke="#111" stroke-width="1.1"/>
<line x1="65.9" y1="566.25" x2="65.9" y2="571.25" stroke="#111" stroke-width="1.1"/>
<line x1="63.9" y1="566.25" x2="67.9" y2="566.25" stroke="#111" stroke-width="1.1"/>
<line x1="63.9" y1="571.25" x2="67.9" y2="571.25" stroke="#111" stroke-width="1.1"/>
<line x1="82.44" y1="596.85" x2="82.44" y2="602.45" stroke="#111" stroke-width="1.1"/>
<line x1="80.44" y1="596.85" x2="84.44" y2="596.85" stroke="#111" stroke-width="1.1"/>
<line x1="80.44" y1="602.45" x2="84.44" y2="602.45" stroke="#111" stroke-width="1.1"/>
<line x1="98.97" y1="606.9" x2="98.97" y2="614.5" stroke="#111" stroke-width="1.1"/>
<line x1="96.97" y1="606.9" x2="100.97" y2="606.9" stroke="#111" stroke-width="1.1"/>
<line x1="96.97" y1="614.5" x2="100.97" y2="614.5" stroke="#111" stroke-width="1.1"/>
<line x1="132.05" y1="620.51" x2="132.05" y2="628.51" stroke="#111" stroke-width="1.1"/>
<line x1="130.05" y1="620.51" x2="134.05" y2="620.51" stroke="#111" stroke-width="1.1"/>
<line x1="130.05" y1="628.51" x2="134.05" y2="628.51" stroke="#111" stroke-width="1.1"/>
<line x1="198.2" y1="648.87" x2="198.2" y2="654.07" stroke="#111" stroke-width="1.1"/>
<line x1="196.2" y1="648.87" x2="200.2" y2="648.87" stroke="#111" stroke-width="1.1"/>
<line x1="196.2" y1="654.07" x2="200.2" y2="654.07" stroke="#111" stroke-width="1.1"/>
<circle cx="65.9" cy="568.75" r="2.18" fill="#000"/>
<circle cx="82.44" cy="599.65" r="2.18" fill="#000"/>
<circle cx="98.97" cy="610.7" r="2.18" fill="#000"/>
<circle cx="132.05" cy="624.51" r="2.18" fill="#000"/>
<circle cx="198.2" cy="651.47" r="2.18" fill="#000"/>
<path d="M82.44 610.71L82.44 607.64M82.44 610.71L85.36 609.76M82.44 610.71L84.24 613.2M82.44 610.71L80.63 613.2M82.44 610.71L79.51 609.76" stroke="#000" stroke-width="1.6" stroke-linecap="round" fill="none"/>
<path d="M98.97 624.71L98.97 621.64M98.97 624.71L101.9 623.76M98.97 624.71L100.78 627.2M98.97 624.71L97.17 627.2M98.97 624.71L96.05 623.76" stroke="#000" stroke-width="1.6" stroke-linecap="round" fill="none"/>
<path d="M132.05 638.21L132.05 635.14M132.05 638.21L134.97 637.26M132.05 638.21L133.86 640.7M132.05 638.21L130.24 640.7M132.05 638.21L129.13 637.26" stroke="#000" stroke-width="1.6" stroke-linecap="round" fill="none"/>
<path d="M194.7 662.04L194.7 659.38M194.7 662.04L197.23 661.22M194.7 662.04L196.27 664.2M194.7 662.04L193.13 664.2M194.7 662.04L192.17 661.22" stroke="#000" stroke-width="1.6" stroke-linecap="round" fill="none"/>
<path d="M202.7 662.04L202.7 659.38M202.7 662.04L205.23 661.22M202.7 662.04L204.27 664.2M202.7 662.04L201.13 664.2M202.7 662.04L200.17 661.22" stroke="#000" stroke-width="1.6" stroke-linecap="round" fill="none"/>
<line x1="95.7" y1="560.8" x2="107.5" y2="560.8" stroke="#111" stroke-width="1.3"/>
<circle cx="101.6" cy="560.8" r="2.3" fill="#000"/>
<text x="109.6" y="564" font-size="8.9" text-anchor="start" fill="#000">pcDNA3.1</text>
<line x1="95.7" y1="570.2" x2="107.5" y2="570.2" stroke="#e23b3f" stroke-width="1.3"/>
<rect x="99.5" y="568.1" width="4.2" height="4.2" fill="#e23b3f"/>
<text x="109.6" y="573.4" font-size="8.9" text-anchor="start" fill="#000">SPHK1</text>
<line x1="67.4" y1="730.9" x2="67.4" y2="836.8" stroke="#222" stroke-width="1.25"/>
<line x1="63.4" y1="731.5" x2="67.4" y2="731.5" stroke="#222" stroke-width="1.25"/>
<text x="62.4" y="735.39" font-size="10.8" text-anchor="end" fill="#000">1.2</text>
<line x1="63.4" y1="761.5" x2="67.4" y2="761.5" stroke="#222" stroke-width="1.25"/>
<text x="62.4" y="765.39" font-size="10.8" text-anchor="end" fill="#000">1.0</text>
<line x1="63.4" y1="791.5" x2="67.4" y2="791.5" stroke="#222" stroke-width="1.25"/>
<text x="62.4" y="795.39" font-size="10.8" text-anchor="end" fill="#000">0.8</text>
<line x1="63.4" y1="821.5" x2="67.4" y2="821.5" stroke="#222" stroke-width="1.25"/>
<text x="62.4" y="825.39" font-size="10.8" text-anchor="end" fill="#000">0.6</text>
<line x1="63.4" y1="836.5" x2="67.4" y2="836.5" stroke="#222" stroke-width="1.25"/>
<text x="62.4" y="840.39" font-size="10.8" text-anchor="end" fill="#000">0.5</text>
<line x1="67.4" y1="845" x2="67.4" y2="853" stroke="#222" stroke-width="1.25"/>
<text x="62.4" y="846.79" font-size="10.8" text-anchor="end" fill="#000">0.2</text>
<line x1="64.4" y1="850.2" x2="67.4" y2="850.2" stroke="#222" stroke-width="1.25"/>
<text x="62.4" y="854.09" font-size="10.8" text-anchor="end" fill="#000">0</text>
<line x1="64.9" y1="835.8" x2="70.1" y2="840.8" stroke="#333" stroke-width="1"/>
<line x1="64.9" y1="841.8" x2="70.1" y2="847" stroke="#333" stroke-width="1"/>
<line x1="64.4" y1="850.2" x2="199.7" y2="850.2" stroke="#222" stroke-width="1.25"/>
<line x1="67.4" y1="850.2" x2="67.4" y2="853" stroke="#222" stroke-width="1.25"/>
<line x1="100.33" y1="850.2" x2="100.33" y2="853" stroke="#222" stroke-width="1.25"/>
<line x1="133.25" y1="850.2" x2="133.25" y2="853" stroke="#222" stroke-width="1.25"/>
<line x1="166.18" y1="850.2" x2="166.18" y2="853" stroke="#222" stroke-width="1.25"/>
<line x1="199.1" y1="850.2" x2="199.1" y2="853" stroke="#222" stroke-width="1.25"/>
<text x="67.4" y="863.8" font-size="11.6" text-anchor="middle" fill="#000">0</text>
<text x="100.33" y="863.8" font-size="11.6" text-anchor="middle" fill="#000">25</text>
<text x="133.25" y="863.8" font-size="11.6" text-anchor="middle" fill="#000">50</text>
<text x="166.18" y="863.8" font-size="11.6" text-anchor="middle" fill="#000">75</text>
<text x="199.1" y="863.8" font-size="11.6" text-anchor="middle" fill="#000">100</text>
<text x="212.02" y="863.8" font-size="11.6" text-anchor="start" fill="#000">μM</text>
<text x="21.8" y="802.3" font-size="11.2" text-anchor="middle" fill="#000" transform="rotate(-90 21.8 802.3)">OVCAR8</text>
<text x="38.5" y="794" font-size="12.6" text-anchor="middle" fill="#000" transform="rotate(-90 38.5 794)">OD value (450 nm)</text>
<text x="9.5" y="866.2" font-size="11.6" text-anchor="start" fill="#000">Olaparib</text>
<polyline points="67.4,764.5 83.86,772 100.33,784 133.25,802 199.1,809.5" fill="none" stroke="#e23b3f" stroke-width="2"/>
<line x1="67.4" y1="759" x2="67.4" y2="770" stroke="#e23b3f" stroke-width="1.1"/>
<line x1="65.4" y1="759" x2="69.4" y2="759" stroke="#e23b3f" stroke-width="1.1"/>
<line x1="65.4" y1="770" x2="69.4" y2="770" stroke="#e23b3f" stroke-width="1.1"/>
<line x1="83.86" y1="765.5" x2="83.86" y2="778.5" stroke="#e23b3f" stroke-width="1.1"/>
<line x1="81.86" y1="765.5" x2="85.86" y2="765.5" stroke="#e23b3f" stroke-width="1.1"/>
<line x1="81.86" y1="778.5" x2="85.86" y2="778.5" stroke="#e23b3f" stroke-width="1.1"/>
<line x1="100.33" y1="779" x2="100.33" y2="789" stroke="#e23b3f" stroke-width="1.1"/>
<line x1="98.33" y1="779" x2="102.33" y2="779" stroke="#e23b3f" stroke-width="1.1"/>
<line x1="98.33" y1="789" x2="102.33" y2="789" stroke="#e23b3f" stroke-width="1.1"/>
<line x1="133.25" y1="799.2" x2="133.25" y2="804.8" stroke="#e23b3f" stroke-width="1.1"/>
<line x1="131.25" y1="799.2" x2="135.25" y2="799.2" stroke="#e23b3f" stroke-width="1.1"/>
<line x1="131.25" y1="804.8" x2="135.25" y2="804.8" stroke="#e23b3f" stroke-width="1.1"/>
<line x1="199.1" y1="808" x2="199.1" y2="811" stroke="#e23b3f" stroke-width="1.1"/>
<line x1="197.1" y1="808" x2="201.1" y2="808" stroke="#e23b3f" stroke-width="1.1"/>
<line x1="197.1" y1="811" x2="201.1" y2="811" stroke="#e23b3f" stroke-width="1.1"/>
<rect x="65.3" y="762.4" width="4.2" height="4.2" fill="#e23b3f"/>
<rect x="81.76" y="769.9" width="4.2" height="4.2" fill="#e23b3f"/>
<rect x="98.23" y="781.9" width="4.2" height="4.2" fill="#e23b3f"/>
<rect x="131.15" y="799.9" width="4.2" height="4.2" fill="#e23b3f"/>
<rect x="197" y="807.4" width="4.2" height="4.2" fill="#e23b3f"/>
<polyline points="67.4,763 83.86,782.5 100.33,791.5 133.25,811 199.1,821.5" fill="none" stroke="#111" stroke-width="1.1"/>
<line x1="67.4" y1="757" x2="67.4" y2="769" stroke="#111" stroke-width="1.1"/>
<line x1="65.4" y1="757" x2="69.4" y2="757" stroke="#111" stroke-width="1.1"/>
<line x1="65.4" y1="769" x2="69.4" y2="769" stroke="#111" stroke-width="1.1"/>
<line x1="83.86" y1="781.5" x2="83.86" y2="783.5" stroke="#111" stroke-width="1.1"/>
<line x1="81.86" y1="781.5" x2="85.86" y2="781.5" stroke="#111" stroke-width="1.1"/>
<line x1="81.86" y1="783.5" x2="85.86" y2="783.5" stroke="#111" stroke-width="1.1"/>
<line x1="100.33" y1="788.7" x2="100.33" y2="794.3" stroke="#111" stroke-width="1.1"/>
<line x1="98.33" y1="788.7" x2="102.33" y2="788.7" stroke="#111" stroke-width="1.1"/>
<line x1="98.33" y1="794.3" x2="102.33" y2="794.3" stroke="#111" stroke-width="1.1"/>
<line x1="133.25" y1="810" x2="133.25" y2="812" stroke="#111" stroke-width="1.1"/>
<line x1="131.25" y1="810" x2="135.25" y2="810" stroke="#111" stroke-width="1.1"/>
<line x1="131.25" y1="812" x2="135.25" y2="812" stroke="#111" stroke-width="1.1"/>
<line x1="199.1" y1="818" x2="199.1" y2="825" stroke="#111" stroke-width="1.1"/>
<line x1="197.1" y1="818" x2="201.1" y2="818" stroke="#111" stroke-width="1.1"/>
<line x1="197.1" y1="825" x2="201.1" y2="825" stroke="#111" stroke-width="1.1"/>
<circle cx="67.4" cy="763" r="2.18" fill="#000"/>
<circle cx="83.86" cy="782.5" r="2.18" fill="#000"/>
<circle cx="100.33" cy="791.5" r="2.18" fill="#000"/>
<circle cx="133.25" cy="811" r="2.18" fill="#000"/>
<circle cx="199.1" cy="821.5" r="2.18" fill="#000"/>
<path d="M83.86 790.71L83.86 787.64M83.86 790.71L86.79 789.76M83.86 790.71L85.67 793.2M83.86 790.71L82.06 793.2M83.86 790.71L80.94 789.76" stroke="#000" stroke-width="1.6" stroke-linecap="round" fill="none"/>
<path d="M100.33 802.41L100.33 799.34M100.33 802.41L103.25 801.46M100.33 802.41L102.13 804.9M100.33 802.41L98.52 804.9M100.33 802.41L97.4 801.46" stroke="#000" stroke-width="1.6" stroke-linecap="round" fill="none"/>
<path d="M133.25 819.21L133.25 816.14M133.25 819.21L136.17 818.26M133.25 819.21L135.06 821.7M133.25 819.21L131.44 821.7M133.25 819.21L130.33 818.26" stroke="#000" stroke-width="1.6" stroke-linecap="round" fill="none"/>
<path d="M195.6 834.64L195.6 831.98M195.6 834.64L198.13 833.82M195.6 834.64L197.17 836.8M195.6 834.64L194.03 836.8M195.6 834.64L193.07 833.82" stroke="#000" stroke-width="1.6" stroke-linecap="round" fill="none"/>
<path d="M203.6 834.64L203.6 831.98M203.6 834.64L206.13 833.82M203.6 834.64L205.17 836.8M203.6 834.64L202.03 836.8M203.6 834.64L201.07 833.82" stroke="#000" stroke-width="1.6" stroke-linecap="round" fill="none"/>
<line x1="96.4" y1="726.8" x2="107.5" y2="726.8" stroke="#111" stroke-width="1.3"/>
<circle cx="101.95" cy="726.8" r="2.3" fill="#000"/>
<text x="110.6" y="730" font-size="8.9" text-anchor="start" fill="#000">pcDNA3.1</text>
<line x1="96.4" y1="736.2" x2="107.5" y2="736.2" stroke="#e23b3f" stroke-width="1.3"/>
<rect x="99.85" y="734.1" width="4.2" height="4.2" fill="#e23b3f"/>
<text x="110.6" y="739.4" font-size="8.9" text-anchor="start" fill="#000">SPHK1</text>
<rect x="540.75" y="201.45" width="10.2" height="3" fill="#fff" stroke="#111" stroke-width="1.7"/>
<rect x="578.15" y="201.45" width="10.2" height="3" fill="#fff" stroke="#e23b3f" stroke-width="1.7"/>
<rect x="622.15" y="201.45" width="10.2" height="3" fill="#fff" stroke="#3552b5" stroke-width="1.7"/>
<text x="554" y="206.4" font-size="8.85" text-anchor="start" fill="#000">NC</text>
<text x="591.6" y="206.4" font-size="8.85" text-anchor="start" fill="#000">si 1#</text>
<text x="635.2" y="206.4" font-size="8.85" text-anchor="start" fill="#000">si 2#</text>
<line x1="536.3" y1="211.94" x2="536.3" y2="335.3" stroke="#111" stroke-width="1.3"/>
<line x1="532.3" y1="212.54" x2="536.3" y2="212.54" stroke="#111" stroke-width="1.3"/>
<text x="532" y="216.61" font-size="11.3" text-anchor="end" fill="#000">150</text>
<line x1="532.3" y1="253.26" x2="536.3" y2="253.26" stroke="#111" stroke-width="1.3"/>
<text x="532" y="257.33" font-size="11.3" text-anchor="end" fill="#000">100</text>
<line x1="532.3" y1="293.98" x2="536.3" y2="293.98" stroke="#111" stroke-width="1.3"/>
<text x="532" y="298.05" font-size="11.3" text-anchor="end" fill="#000">50</text>
<line x1="532.3" y1="334.7" x2="536.3" y2="334.7" stroke="#111" stroke-width="1.3"/>
<text x="532" y="338.77" font-size="11.3" text-anchor="end" fill="#000">0</text>
<line x1="536.3" y1="334.7" x2="668.8" y2="334.7" stroke="#111" stroke-width="1.3"/>
<path d="M547.2 334.1V231.26H562.8V334.1" fill="#fff" stroke="#111" stroke-width="1.6"/>
<path d="M564.4 334.1V267.09H579.8V334.1" fill="#fff" stroke="#e23b3f" stroke-width="1.6"/>
<path d="M581.4 334.1V261.39H596.8V334.1" fill="#fff" stroke="#3552b5" stroke-width="1.6"/>
<path d="M617 334.1V251.62H632.4V334.1" fill="#fff" stroke="#111" stroke-width="1.6"/>
<path d="M634 334.1V282.56H649.6V334.1" fill="#fff" stroke="#e23b3f" stroke-width="1.6"/>
<path d="M651.4 334.1V276.05H666.9V334.1" fill="#fff" stroke="#3552b5" stroke-width="1.6"/>
<line x1="555" y1="230.46" x2="555" y2="219.06" stroke="#111" stroke-width="1.4"/>
<line x1="550.75" y1="219.06" x2="559.25" y2="219.06" stroke="#111" stroke-width="1.4"/>
<line x1="572.1" y1="266.29" x2="572.1" y2="257.33" stroke="#e23b3f" stroke-width="1.4"/>
<line x1="567.85" y1="257.33" x2="576.35" y2="257.33" stroke="#e23b3f" stroke-width="1.4"/>
<line x1="589.1" y1="260.59" x2="589.1" y2="254.89" stroke="#3552b5" stroke-width="1.4"/>
<line x1="584.85" y1="254.89" x2="593.35" y2="254.89" stroke="#3552b5" stroke-width="1.4"/>
<line x1="624.7" y1="250.82" x2="624.7" y2="241.04" stroke="#111" stroke-width="1.4"/>
<line x1="620.45" y1="241.04" x2="628.95" y2="241.04" stroke="#111" stroke-width="1.4"/>
<line x1="641.8" y1="281.76" x2="641.8" y2="271.99" stroke="#e23b3f" stroke-width="1.4"/>
<line x1="637.55" y1="271.99" x2="646.05" y2="271.99" stroke="#e23b3f" stroke-width="1.4"/>
<line x1="659.1" y1="275.25" x2="659.1" y2="265.48" stroke="#3552b5" stroke-width="1.4"/>
<line x1="654.85" y1="265.48" x2="663.35" y2="265.48" stroke="#3552b5" stroke-width="1.4"/>
<text x="510.3" y="275.5" font-size="11.3" text-anchor="middle" fill="#000" transform="rotate(-90 510.3 275.5)">No. of clones</text>
<text x="519.8" y="349" font-size="11.3" text-anchor="start" fill="#000">Ola</text>
<text x="572.1" y="349" font-size="11.3" text-anchor="middle" fill="#000">0</text>
<text x="641.8" y="349" font-size="11.3" text-anchor="middle" fill="#000">25</text>
<text x="659.5" y="349" font-size="10.5" text-anchor="start" fill="#000">μM</text>
<rect x="554" y="240.04" width="2" height="2" fill="#000"/>
<rect x="554" y="229.05" width="2" height="2" fill="#000"/>
<rect x="571.1" y="268.55" width="2" height="2" fill="#000"/>
<rect x="571.1" y="271.81" width="2" height="2" fill="#000"/>
<rect x="588.1" y="264.48" width="2" height="2" fill="#000"/>
<rect x="588.1" y="257.96" width="2" height="2" fill="#000"/>
<rect x="623.7" y="256.33" width="2" height="2" fill="#000"/>
<rect x="623.7" y="241.67" width="2" height="2" fill="#000"/>
<rect x="640.8" y="287.28" width="2" height="2" fill="#000"/>
<rect x="640.8" y="270.99" width="2" height="2" fill="#000"/>
<rect x="658.1" y="280.76" width="2" height="2" fill="#000"/>
<rect x="658.1" y="268.55" width="2" height="2" fill="#000"/>
<path d="M572.1 252.34L572.1 249.68M572.1 252.34L574.63 251.52M572.1 252.34L573.67 254.5M572.1 252.34L570.53 254.5M572.1 252.34L569.57 251.52" stroke="#000" stroke-width="1.6" stroke-linecap="round" fill="none"/>
<path d="M589.1 249.34L589.1 246.68M589.1 249.34L591.63 248.52M589.1 249.34L590.67 251.5M589.1 249.34L587.53 251.5M589.1 249.34L586.57 248.52" stroke="#000" stroke-width="1.6" stroke-linecap="round" fill="none"/>
<path d="M638.15 265.84L638.15 263.18M638.15 265.84L640.68 265.02M638.15 265.84L639.72 268M638.15 265.84L636.58 268M638.15 265.84L635.62 265.02" stroke="#000" stroke-width="1.6" stroke-linecap="round" fill="none"/>
<path d="M645.45 265.84L645.45 263.18M645.45 265.84L647.98 265.02M645.45 265.84L647.02 268M645.45 265.84L643.88 268M645.45 265.84L642.92 265.02" stroke="#000" stroke-width="1.6" stroke-linecap="round" fill="none"/>
<path d="M655.95 259.24L655.95 256.58M655.95 259.24L658.48 258.42M655.95 259.24L657.52 261.4M655.95 259.24L654.38 261.4M655.95 259.24L653.42 258.42" stroke="#000" stroke-width="1.6" stroke-linecap="round" fill="none"/>
<path d="M663.25 259.24L663.25 256.58M663.25 259.24L665.78 258.42M663.25 259.24L664.82 261.4M663.25 259.24L661.68 261.4M663.25 259.24L660.72 258.42" stroke="#000" stroke-width="1.6" stroke-linecap="round" fill="none"/>
<rect x="540.75" y="374.15" width="10.8" height="3.2" fill="#fff" stroke="#111" stroke-width="1.7"/>
<rect x="582.65" y="374.15" width="10.2" height="3.2" fill="#fff" stroke="#e23b3f" stroke-width="1.7"/>
<rect x="626.65" y="374.15" width="10.2" height="3.2" fill="#fff" stroke="#3552b5" stroke-width="1.7"/>
<text x="554.6" y="379.3" font-size="8.85" text-anchor="start" fill="#000">NC</text>
<text x="596.3" y="379.3" font-size="8.85" text-anchor="start" fill="#000">si 1#</text>
<text x="640.3" y="379.3" font-size="8.85" text-anchor="start" fill="#000">si 2#</text>
<line x1="535.4" y1="383.9" x2="535.4" y2="507.3" stroke="#111" stroke-width="1.3"/>
<line x1="531.4" y1="384.5" x2="535.4" y2="384.5" stroke="#111" stroke-width="1.3"/>
<text x="531.1" y="388.57" font-size="11.3" text-anchor="end" fill="#000">200</text>
<line x1="531.4" y1="415.05" x2="535.4" y2="415.05" stroke="#111" stroke-width="1.3"/>
<text x="531.1" y="419.12" font-size="11.3" text-anchor="end" fill="#000">150</text>
<line x1="531.4" y1="445.6" x2="535.4" y2="445.6" stroke="#111" stroke-width="1.3"/>
<text x="531.1" y="449.67" font-size="11.3" text-anchor="end" fill="#000">100</text>
<line x1="531.4" y1="476.15" x2="535.4" y2="476.15" stroke="#111" stroke-width="1.3"/>
<text x="531.1" y="480.22" font-size="11.3" text-anchor="end" fill="#000">50</text>
<line x1="531.4" y1="506.7" x2="535.4" y2="506.7" stroke="#111" stroke-width="1.3"/>
<text x="531.1" y="510.77" font-size="11.3" text-anchor="end" fill="#000">0</text>
<line x1="535.4" y1="506.7" x2="677" y2="506.7" stroke="#111" stroke-width="1.3"/>
<path d="M547.2 506.1V409.74H562.8V506.1" fill="#fff" stroke="#111" stroke-width="1.6"/>
<path d="M564.4 506.1V460.45H579.8V506.1" fill="#fff" stroke="#e23b3f" stroke-width="1.6"/>
<path d="M581.4 506.1V442.12H596.8V506.1" fill="#fff" stroke="#3552b5" stroke-width="1.6"/>
<path d="M617 506.1V450.68H632.4V506.1" fill="#fff" stroke="#111" stroke-width="1.6"/>
<path d="M634 506.1V473.89H649.6V506.1" fill="#fff" stroke="#e23b3f" stroke-width="1.6"/>
<path d="M651.4 506.1V459.84H666.9V506.1" fill="#fff" stroke="#3552b5" stroke-width="1.6"/>
<line x1="555" y1="408.94" x2="555" y2="401" stroke="#111" stroke-width="1.4"/>
<line x1="550.75" y1="401" x2="559.25" y2="401" stroke="#111" stroke-width="1.4"/>
<line x1="572.1" y1="459.65" x2="572.1" y2="454.76" stroke="#e23b3f" stroke-width="1.4"/>
<line x1="567.85" y1="454.76" x2="576.35" y2="454.76" stroke="#e23b3f" stroke-width="1.4"/>
<line x1="589.1" y1="441.32" x2="589.1" y2="433.38" stroke="#3552b5" stroke-width="1.4"/>
<line x1="584.85" y1="433.38" x2="593.35" y2="433.38" stroke="#3552b5" stroke-width="1.4"/>
<line x1="624.7" y1="449.88" x2="624.7" y2="443.77" stroke="#111" stroke-width="1.4"/>
<line x1="620.45" y1="443.77" x2="628.95" y2="443.77" stroke="#111" stroke-width="1.4"/>
<line x1="641.8" y1="473.09" x2="641.8" y2="466.37" stroke="#e23b3f" stroke-width="1.4"/>
<line x1="637.55" y1="466.37" x2="646.05" y2="466.37" stroke="#e23b3f" stroke-width="1.4"/>
<line x1="659.1" y1="459.04" x2="659.1" y2="455.38" stroke="#3552b5" stroke-width="1.4"/>
<line x1="654.85" y1="455.38" x2="663.35" y2="455.38" stroke="#3552b5" stroke-width="1.4"/>
<text x="510.3" y="450" font-size="11.3" text-anchor="middle" fill="#000" transform="rotate(-90 510.3 450)">No. of clones</text>
<text x="511.4" y="521.5" font-size="11.3" text-anchor="start" fill="#000">Ola</text>
<text x="571.5" y="521.5" font-size="11.3" text-anchor="middle" fill="#000">0</text>
<text x="641" y="521.5" font-size="11.3" text-anchor="middle" fill="#000">25</text>
<text x="659.5" y="521.5" font-size="10.5" text-anchor="start" fill="#000">μM</text>
<rect x="554" y="415.88" width="2" height="2" fill="#000"/>
<rect x="554" y="404.88" width="2" height="2" fill="#000"/>
<rect x="571.1" y="462.93" width="2" height="2" fill="#000"/>
<rect x="571.1" y="458.04" width="2" height="2" fill="#000"/>
<rect x="588.1" y="444.6" width="2" height="2" fill="#000"/>
<rect x="588.1" y="434.21" width="2" height="2" fill="#000"/>
<rect x="623.7" y="450.71" width="2" height="2" fill="#000"/>
<rect x="623.7" y="446.43" width="2" height="2" fill="#000"/>
<rect x="640.8" y="478.2" width="2" height="2" fill="#000"/>
<rect x="640.8" y="473.93" width="2" height="2" fill="#000"/>
<rect x="658.1" y="459.88" width="2" height="2" fill="#000"/>
<rect x="658.1" y="456.82" width="2" height="2" fill="#000"/>
<path d="M568.45 446.04L568.45 443.38M568.45 446.04L570.98 445.22M568.45 446.04L570.02 448.2M568.45 446.04L566.88 448.2M568.45 446.04L565.92 445.22" stroke="#000" stroke-width="1.6" stroke-linecap="round" fill="none"/>
<path d="M575.75 446.04L575.75 443.38M575.75 446.04L578.28 445.22M575.75 446.04L577.32 448.2M575.75 446.04L574.18 448.2M575.75 446.04L573.22 445.22" stroke="#000" stroke-width="1.6" stroke-linecap="round" fill="none"/>
<path d="M589.1 426.24L589.1 423.58M589.1 426.24L591.63 425.42M589.1 426.24L590.67 428.4M589.1 426.24L587.53 428.4M589.1 426.24L586.57 425.42" stroke="#000" stroke-width="1.6" stroke-linecap="round" fill="none"/>
<path d="M638.15 460.24L638.15 457.58M638.15 460.24L640.68 459.42M638.15 460.24L639.72 462.4M638.15 460.24L636.58 462.4M638.15 460.24L635.62 459.42" stroke="#000" stroke-width="1.6" stroke-linecap="round" fill="none"/>
<path d="M645.45 460.24L645.45 457.58M645.45 460.24L647.98 459.42M645.45 460.24L647.02 462.4M645.45 460.24L643.88 462.4M645.45 460.24L642.92 459.42" stroke="#000" stroke-width="1.6" stroke-linecap="round" fill="none"/>
<path d="M659.1 450.24L659.1 447.58M659.1 450.24L661.63 449.42M659.1 450.24L660.67 452.4M659.1 450.24L657.53 452.4M659.1 450.24L656.57 449.42" stroke="#000" stroke-width="1.6" stroke-linecap="round" fill="none"/>
<text x="545.2" y="553.6" font-size="8.85" text-anchor="start" fill="#000">Ola</text>
<rect x="569.15" y="548.65" width="9.7" height="3.5" fill="#fff" stroke="#111" stroke-width="1.7"/>
<rect x="605.95" y="548.65" width="10.3" height="3.5" fill="#fff" stroke="#e23b3f" stroke-width="1.7"/>
<text x="585.2" y="553.6" font-size="8.85" text-anchor="start" fill="#000">0</text>
<text x="619.2" y="553.6" font-size="8.85" text-anchor="start" fill="#000">25 μM</text>
<line x1="542.3" y1="560.25" x2="542.3" y2="681.9" stroke="#111" stroke-width="1.3"/>
<line x1="538.3" y1="560.85" x2="542.3" y2="560.85" stroke="#111" stroke-width="1.3"/>
<text x="538" y="564.92" font-size="11.3" text-anchor="end" fill="#000">100</text>
<line x1="538.3" y1="584.94" x2="542.3" y2="584.94" stroke="#111" stroke-width="1.3"/>
<text x="538" y="589.01" font-size="11.3" text-anchor="end" fill="#000">80</text>
<line x1="538.3" y1="609.03" x2="542.3" y2="609.03" stroke="#111" stroke-width="1.3"/>
<text x="538" y="613.1" font-size="11.3" text-anchor="end" fill="#000">60</text>
<line x1="538.3" y1="633.12" x2="542.3" y2="633.12" stroke="#111" stroke-width="1.3"/>
<text x="538" y="637.19" font-size="11.3" text-anchor="end" fill="#000">40</text>
<line x1="538.3" y1="657.21" x2="542.3" y2="657.21" stroke="#111" stroke-width="1.3"/>
<text x="538" y="661.28" font-size="11.3" text-anchor="end" fill="#000">20</text>
<line x1="538.3" y1="681.3" x2="542.3" y2="681.3" stroke="#111" stroke-width="1.3"/>
<text x="538" y="685.37" font-size="11.3" text-anchor="end" fill="#000">0</text>
<line x1="542.3" y1="681.3" x2="668" y2="681.3" stroke="#111" stroke-width="1.3"/>
<path d="M554.1 680.7V608.63H573.2V680.7" fill="#fff" stroke="#111" stroke-width="1.6"/>
<path d="M574.8 680.7V626.69H593.5V680.7" fill="#fff" stroke="#e23b3f" stroke-width="1.6"/>
<path d="M617 680.7V583.33H635.2V680.7" fill="#fff" stroke="#111" stroke-width="1.6"/>
<path d="M636.8 680.7V611.03H655.8V680.7" fill="#fff" stroke="#e23b3f" stroke-width="1.6"/>
<line x1="563.5" y1="607.83" x2="563.5" y2="594.58" stroke="#111" stroke-width="1.4"/>
<line x1="559" y1="594.58" x2="568" y2="594.58" stroke="#111" stroke-width="1.4"/>
<line x1="584.2" y1="625.89" x2="584.2" y2="612.64" stroke="#e23b3f" stroke-width="1.4"/>
<line x1="579.7" y1="612.64" x2="588.7" y2="612.64" stroke="#e23b3f" stroke-width="1.4"/>
<line x1="626" y1="582.53" x2="626" y2="574.1" stroke="#111" stroke-width="1.4"/>
<line x1="621.5" y1="574.1" x2="630.5" y2="574.1" stroke="#111" stroke-width="1.4"/>
<line x1="646.3" y1="610.23" x2="646.3" y2="604.21" stroke="#e23b3f" stroke-width="1.4"/>
<line x1="641.8" y1="604.21" x2="650.8" y2="604.21" stroke="#e23b3f" stroke-width="1.4"/>
<text x="516.9" y="623.8" font-size="11.3" text-anchor="middle" fill="#000" transform="rotate(-90 516.9 623.8)">No. of clones</text>
<text x="575" y="694.3" font-size="8.6" text-anchor="middle" fill="#000">pcDNA3.1</text>
<text x="637.5" y="694.3" font-size="8.6" text-anchor="middle" fill="#000">SPHK1</text>
<rect x="562.5" y="618.87" width="2" height="2" fill="#000"/>
<rect x="562.5" y="603.21" width="2" height="2" fill="#000"/>
<rect x="583.2" y="636.94" width="2" height="2" fill="#000"/>
<rect x="583.2" y="623.69" width="2" height="2" fill="#000"/>
<rect x="583.2" y="611.64" width="2" height="2" fill="#000"/>
<rect x="625" y="588.76" width="2" height="2" fill="#000"/>
<rect x="625" y="577.92" width="2" height="2" fill="#000"/>
<rect x="645.3" y="612.85" width="2" height="2" fill="#000"/>
<rect x="645.3" y="610.44" width="2" height="2" fill="#000"/>
<rect x="645.3" y="602.01" width="2" height="2" fill="#000"/>
<path d="M581.85 607.34L581.85 604.68M581.85 607.34L584.38 606.52M581.85 607.34L583.42 609.5M581.85 607.34L580.28 609.5M581.85 607.34L579.32 606.52" stroke="#000" stroke-width="1.6" stroke-linecap="round" fill="none"/>
<path d="M589.15 607.34L589.15 604.68M589.15 607.34L591.68 606.52M589.15 607.34L590.72 609.5M589.15 607.34L587.58 609.5M589.15 607.34L586.62 606.52" stroke="#000" stroke-width="1.6" stroke-linecap="round" fill="none"/>
<path d="M648.3 596.94L648.3 594.28M648.3 596.94L650.83 596.12M648.3 596.94L649.87 599.1M648.3 596.94L646.73 599.1M648.3 596.94L645.77 596.12" stroke="#000" stroke-width="1.6" stroke-linecap="round" fill="none"/>
<text x="540.8" y="734" font-size="8.85" text-anchor="start" fill="#000">Ola</text>
<rect x="566.15" y="729.05" width="9.7" height="3.5" fill="#fff" stroke="#111" stroke-width="1.7"/>
<rect x="602.05" y="729.05" width="9.7" height="3.5" fill="#fff" stroke="#e23b3f" stroke-width="1.7"/>
<text x="581.2" y="734" font-size="8.85" text-anchor="start" fill="#000">0</text>
<text x="614.7" y="734" font-size="8.85" text-anchor="start" fill="#000">25 μM</text>
<line x1="537.5" y1="740.9" x2="537.5" y2="862.1" stroke="#111" stroke-width="1.3"/>
<line x1="533.5" y1="741.5" x2="537.5" y2="741.5" stroke="#111" stroke-width="1.3"/>
<text x="533.2" y="745.57" font-size="11.3" text-anchor="end" fill="#000">100</text>
<line x1="533.5" y1="765.5" x2="537.5" y2="765.5" stroke="#111" stroke-width="1.3"/>
<text x="533.2" y="769.57" font-size="11.3" text-anchor="end" fill="#000">80</text>
<line x1="533.5" y1="789.5" x2="537.5" y2="789.5" stroke="#111" stroke-width="1.3"/>
<text x="533.2" y="793.57" font-size="11.3" text-anchor="end" fill="#000">60</text>
<line x1="533.5" y1="813.5" x2="537.5" y2="813.5" stroke="#111" stroke-width="1.3"/>
<text x="533.2" y="817.57" font-size="11.3" text-anchor="end" fill="#000">40</text>
<line x1="533.5" y1="837.5" x2="537.5" y2="837.5" stroke="#111" stroke-width="1.3"/>
<text x="533.2" y="841.57" font-size="11.3" text-anchor="end" fill="#000">20</text>
<line x1="533.5" y1="861.5" x2="537.5" y2="861.5" stroke="#111" stroke-width="1.3"/>
<text x="533.2" y="865.57" font-size="11.3" text-anchor="end" fill="#000">0</text>
<line x1="537.5" y1="861.5" x2="662" y2="861.5" stroke="#111" stroke-width="1.3"/>
<path d="M549.6 860.9V793.9H568.2V860.9" fill="#fff" stroke="#111" stroke-width="1.6"/>
<path d="M569.8 860.9V817.9H588.4V860.9" fill="#fff" stroke="#e23b3f" stroke-width="1.6"/>
<path d="M611.6 860.9V779.5H630V860.9" fill="#fff" stroke="#111" stroke-width="1.6"/>
<path d="M631.6 860.9V795.1H650.4V860.9" fill="#fff" stroke="#e23b3f" stroke-width="1.6"/>
<line x1="558.9" y1="793.1" x2="558.9" y2="783.5" stroke="#111" stroke-width="1.4"/>
<line x1="554.4" y1="783.5" x2="563.4" y2="783.5" stroke="#111" stroke-width="1.4"/>
<line x1="579.1" y1="817.1" x2="579.1" y2="806.3" stroke="#e23b3f" stroke-width="1.4"/>
<line x1="574.6" y1="806.3" x2="583.6" y2="806.3" stroke="#e23b3f" stroke-width="1.4"/>
<line x1="620.6" y1="778.7" x2="620.6" y2="767.9" stroke="#111" stroke-width="1.4"/>
<line x1="616.1" y1="767.9" x2="625.1" y2="767.9" stroke="#111" stroke-width="1.4"/>
<line x1="641" y1="794.3" x2="641" y2="787.1" stroke="#e23b3f" stroke-width="1.4"/>
<line x1="636.5" y1="787.1" x2="645.5" y2="787.1" stroke="#e23b3f" stroke-width="1.4"/>
<text x="511.5" y="803.7" font-size="11.3" text-anchor="middle" fill="#000" transform="rotate(-90 511.5 803.7)">No. of clones</text>
<text x="569.3" y="874" font-size="8.6" text-anchor="middle" fill="#000">pcDNA3.1</text>
<text x="632.2" y="874" font-size="8.6" text-anchor="middle" fill="#000">SPHK1</text>
<rect x="557.9" y="799.3" width="2" height="2" fill="#000"/>
<rect x="557.9" y="792.1" width="2" height="2" fill="#000"/>
<rect x="578.1" y="823.3" width="2" height="2" fill="#000"/>
<rect x="578.1" y="820.9" width="2" height="2" fill="#000"/>
<rect x="578.1" y="805.3" width="2" height="2" fill="#000"/>
<rect x="619.6" y="784.9" width="2" height="2" fill="#000"/>
<rect x="619.6" y="765.7" width="2" height="2" fill="#000"/>
<rect x="640" y="798.1" width="2" height="2" fill="#000"/>
<rect x="640" y="793.3" width="2" height="2" fill="#000"/>
<rect x="640" y="786.1" width="2" height="2" fill="#000"/>
<path d="M576.25 802.34L576.25 799.68M576.25 802.34L578.78 801.52M576.25 802.34L577.82 804.5M576.25 802.34L574.68 804.5M576.25 802.34L573.72 801.52" stroke="#000" stroke-width="1.6" stroke-linecap="round" fill="none"/>
<path d="M583.55 802.34L583.55 799.68M583.55 802.34L586.08 801.52M583.55 802.34L585.12 804.5M583.55 802.34L581.98 804.5M583.55 802.34L581.02 801.52" stroke="#000" stroke-width="1.6" stroke-linecap="round" fill="none"/>
<path d="M641.6 781.34L641.6 778.68M641.6 781.34L644.13 780.52M641.6 781.34L643.17 783.5M641.6 781.34L640.03 783.5M641.6 781.34L639.07 780.52" stroke="#000" stroke-width="1.6" stroke-linecap="round" fill="none"/>
<text x="294" y="221.7" font-size="11.8" text-anchor="start" fill="#000" transform="rotate(-15 294 221.7)">NC</text>
<text x="347" y="221.3" font-size="11.6" text-anchor="start" fill="#000" transform="rotate(-15 347 221.3)">siSPHK1 1#</text>
<text x="412" y="221.3" font-size="11.6" text-anchor="start" fill="#000" transform="rotate(-15 412 221.3)">siSPHK1 2#</text>
<text x="247" y="258.2" font-size="11.8" text-anchor="start" fill="#000">Ctr</text>
<text x="247" y="325.6" font-size="11.8" text-anchor="start" fill="#000">Ola</text>
<circle cx="298.8" cy="255.1" r="31.1" fill="#d5d5d3" stroke="#8a8a8a" stroke-width="0.8"/>
<circle cx="298.8" cy="255.1" r="30" fill="none" stroke="#000" stroke-opacity="0.06" stroke-width="1.2"/>
<g stroke="#3b3cc4" stroke-linecap="round" fill="none"><path d="M312.8 240.1h0M273.7 243.7h0" stroke-width="0.7" stroke-opacity="0.45"/><path d="M282.4 239.0h0M291.0 271.7h0M309.9 256.2h0M298.0 250.4h0M316.4 249.3h0M310.4 246.5h0M291.3 271.8h0M280.8 242.7h0M279.3 262.0h0M319.1 234.4h0M279.2 251.8h0M291.5 274.5h0M325.6 265.7h0M301.3 271.1h0M292.6 270.4h0M313.9 250.3h0" stroke-width="0.7" stroke-opacity="0.7"/><path d="M317.9 237.8h0M298.8 257.8h0M310.6 272.2h0M298.5 264.4h0M307.5 251.6h0M293.5 250.9h0M300.3 251.8h0M306.9 256.4h0M295.3 266.5h0M298.3 243.8h0M306.8 269.6h0" stroke-width="0.7" stroke-opacity="0.95"/><path d="M300.4 268.7h0M301.1 246.7h0M302.3 255.5h0M307.5 268.7h0M301.4 233.1h0M320.1 262.8h0M270.5 261.5h0M305.4 259.1h0M297.1 244.8h0M296.4 227.2h0M291.3 255.1h0M282.9 240.5h0M308.3 250.1h0M292.6 267.2h0M316.7 240.8h0M285.1 247.2h0M295.5 269.4h0" stroke-width="1" stroke-opacity="0.45"/><path d="M291.6 264.3h0M293.2 263.7h0M299.2 264.6h0M292.0 278.7h0M303.2 250.2h0M300.9 247.9h0M307.8 235.3h0M308.8 267.5h0M310.3 262.6h0M272.7 248.2h0M298.6 259.7h0M315.8 257.7h0M302.9 262.8h0M321.4 243.0h0M294.3 252.6h0M313.3 266.5h0M304.1 246.5h0M284.6 259.5h0M299.6 248.6h0M309.4 266.4h0M285.9 261.7h0M271.7 248.9h0M294.0 251.2h0M290.4 234.8h0M302.7 231.9h0M303.0 258.1h0M316.7 249.2h0M280.9 248.9h0M309.8 247.9h0M275.0 264.5h0M309.4 237.1h0M280.7 263.3h0M306.7 257.2h0M312.4 249.3h0M298.6 247.4h0M272.7 257.7h0M305.0 244.5h0M273.1 256.3h0M292.2 264.2h0M288.2 265.7h0M283.3 255.5h0M297.3 255.8h0M306.2 258.2h0M301.2 261.6h0M308.3 264.2h0M297.5 264.2h0M281.8 267.4h0M293.9 252.3h0M295.3 235.6h0M313.9 233.1h0M320.1 240.7h0M305.6 240.5h0M276.6 254.5h0M273.0 246.0h0M298.5 229.7h0M280.4 244.7h0M314.8 270.1h0M309.0 240.7h0M305.8 251.2h0M297.1 243.3h0M304.5 241.5h0M281.2 245.3h0M310.7 261.1h0M300.5 250.4h0M278.5 244.6h0M320.5 268.5h0M284.6 267.0h0" stroke-width="1" stroke-opacity="0.7"/><path d="M302.9 257.8h0M318.4 255.4h0M310.2 236.5h0M319.2 251.7h0M308.0 262.5h0M284.1 269.1h0M302.0 269.5h0M315.3 268.2h0M307.7 260.0h0M287.1 261.1h0M276.6 271.3h0M304.8 227.1h0M299.9 254.7h0M281.7 234.1h0M310.2 256.7h0M298.1 263.7h0M288.7 258.2h0M325.2 254.3h0M296.3 271.9h0M295.6 248.9h0M271.1 256.4h0M311.1 271.9h0M276.7 243.5h0M302.1 252.3h0M313.4 276.8h0M296.0 254.4h0M283.7 262.8h0M299.8 235.6h0M298.6 262.2h0M298.9 259.1h0M301.9 283.7h0M297.7 247.8h0M291.9 265.4h0M307.3 241.3h0M300.6 270.8h0M271.8 248.3h0M276.7 263.7h0M311.4 233.9h0M273.4 263.5h0" stroke-width="1" stroke-opacity="0.95"/><path d="M304.8 241.6h0M296.0 249.3h0M310.0 236.9h0M283.9 259.1h0M311.0 237.3h0M321.4 250.7h0M318.9 242.4h0M282.2 274.1h0M312.3 254.2h0M277.4 249.3h0M300.4 252.4h0M292.3 251.4h0M303.3 238.1h0M277.1 264.1h0M299.9 264.4h0M285.0 261.7h0M304.3 248.6h0" stroke-width="1.4" stroke-opacity="0.45"/><path d="M312.4 257.6h0M273.7 258.2h0M282.8 258.2h0M288.0 260.2h0M270.3 252.6h0M306.7 259.0h0M318.8 250.0h0M283.1 276.4h0M306.6 251.6h0M323.2 267.2h0M279.4 237.9h0M290.4 273.7h0M276.1 270.9h0M301.7 261.1h0M310.8 278.0h0M301.5 247.6h0M298.7 262.5h0M320.8 237.6h0M289.4 277.5h0M282.6 266.2h0M276.5 271.9h0M295.0 251.7h0M298.0 254.9h0M277.9 270.4h0M295.3 250.0h0M319.5 257.7h0M291.5 279.1h0M297.6 236.8h0M291.0 272.7h0M308.8 249.4h0M298.9 240.7h0M291.2 229.8h0M307.5 251.2h0M307.3 253.7h0M303.2 254.5h0M316.7 274.1h0M295.1 260.5h0M298.4 237.5h0M315.6 264.7h0M325.0 244.7h0M309.1 240.2h0M295.0 247.3h0M291.7 274.4h0M310.2 277.9h0M305.9 253.9h0M305.8 235.4h0M322.1 250.6h0M308.4 227.7h0M294.9 230.9h0M282.7 270.0h0M289.4 260.5h0M318.9 274.4h0M271.7 254.6h0M281.6 264.2h0M286.4 271.4h0M304.6 251.8h0M270.6 257.3h0M305.9 274.9h0M298.7 258.6h0M310.1 260.9h0M319.9 246.4h0M282.7 262.1h0M298.6 245.1h0M304.5 253.6h0M295.0 247.2h0M298.8 249.0h0M315.1 234.9h0M301.7 255.2h0M272.5 246.2h0M307.7 243.0h0M311.1 249.1h0M281.9 267.9h0M307.2 237.6h0M291.0 275.5h0M306.7 267.8h0M280.1 242.6h0M294.4 271.8h0M310.0 246.4h0M299.5 278.5h0M309.6 266.6h0M304.8 267.7h0" stroke-width="1.4" stroke-opacity="0.7"/><path d="M308.7 275.2h0M274.9 267.0h0M297.9 264.1h0M312.0 262.5h0M298.7 255.7h0M285.2 274.1h0M296.1 254.6h0M301.3 249.8h0M295.6 251.7h0M309.2 228.1h0M302.4 245.7h0M293.7 247.8h0M307.7 281.8h0M291.9 226.8h0M305.7 275.2h0M286.9 274.9h0M322.7 245.1h0M290.4 246.6h0M301.6 268.4h0M278.2 248.9h0M304.4 254.1h0M271.2 264.3h0M290.4 257.4h0M271.4 247.2h0M295.2 275.1h0M301.0 256.3h0M311.2 245.3h0M304.2 261.0h0M308.5 267.7h0M299.2 245.9h0M272.6 243.1h0M280.8 244.4h0M274.1 245.0h0M305.9 234.5h0M292.2 280.6h0M287.3 245.2h0M295.2 248.2h0M307.6 264.6h0M293.9 250.8h0M288.5 261.0h0M283.6 231.1h0M285.5 269.7h0M295.6 263.1h0M306.6 246.6h0M305.1 271.4h0M307.7 251.4h0M309.9 275.2h0M302.0 256.7h0M284.5 242.0h0M281.6 264.7h0M282.1 244.2h0M302.7 256.2h0M295.7 226.2h0M301.8 266.4h0M295.3 252.7h0M294.3 252.1h0M312.2 254.7h0M309.3 259.3h0M289.4 268.8h0M310.6 239.4h0M320.3 240.7h0M290.8 235.5h0M306.5 262.4h0M279.2 245.3h0M294.9 277.9h0M295.2 227.4h0M273.8 249.1h0M297.7 265.8h0M287.7 229.6h0M294.5 266.7h0M310.6 263.5h0" stroke-width="1.4" stroke-opacity="0.95"/><path d="M312.4 269.6h0M312.5 261.6h0M306.5 236.6h0M282.0 251.4h0M301.5 251.0h0" stroke-width="1.9" stroke-opacity="0.45"/><path d="M279.7 239.0h0M276.3 239.9h0M295.7 272.9h0M307.8 246.4h0M279.6 253.7h0M273.1 248.4h0M303.2 247.6h0M307.2 267.1h0M280.0 252.6h0M299.5 261.3h0M313.7 249.8h0M288.3 265.9h0M300.6 280.8h0M314.3 241.5h0M308.7 244.0h0M307.8 253.6h0M319.4 244.9h0M292.3 271.3h0M313.0 230.3h0M305.7 250.0h0M311.0 248.7h0M286.2 281.1h0M310.1 277.0h0M316.9 249.7h0M302.3 235.1h0M309.8 266.5h0" stroke-width="1.9" stroke-opacity="0.7"/><path d="M296.8 259.5h0M307.3 243.5h0M303.3 273.8h0M276.8 265.7h0M324.3 244.3h0M300.9 252.9h0M290.2 274.2h0M310.3 260.4h0M277.9 256.7h0M296.9 261.1h0M293.2 265.1h0M294.4 257.5h0M307.1 227.3h0M280.8 249.9h0M275.1 253.6h0M289.8 234.3h0M297.3 281.9h0M317.3 270.8h0M316.4 246.5h0M288.1 263.8h0M282.0 233.3h0M284.7 237.4h0" stroke-width="1.9" stroke-opacity="0.95"/><path d="M285.9 276.9h0M304.5 245.2h0M287.4 282.0h0" stroke-width="2.5" stroke-opacity="0.7"/><path d="M315.9 248.0h0M319.7 248.5h0M282.0 231.6h0M310.9 242.2h0M309.1 248.4h0M300.5 267.4h0M303.0 236.7h0M313.9 256.2h0M310.8 249.7h0" stroke-width="2.5" stroke-opacity="0.95"/><path d="M293.3 232.2h0M302.2 256.2h0M301.4 249.4h0M276.4 267.1h0" stroke-width="3.2" stroke-opacity="0.7"/><path d="M298.8 262.9h0M310.1 242.6h0M316.4 267.4h0M309.2 259.5h0M321.7 273.3h0M302.9 230.9h0" stroke-width="3.2" stroke-opacity="0.95"/><path d="M282.7 268.4h0M308.1 245.5h0M276.2 249.0h0M304.1 278.7h0" stroke-width="4" stroke-opacity="0.95"/></g>
<circle cx="364.8" cy="255.1" r="31.1" fill="#d5d5d3" stroke="#8a8a8a" stroke-width="0.8"/>
<circle cx="364.8" cy="255.1" r="30" fill="none" stroke="#000" stroke-opacity="0.06" stroke-width="1.2"/>
<g stroke="#3b3cc4" stroke-linecap="round" fill="none"><path d="M346.0 265.0h0M346.9 273.5h0" stroke-width="0.7" stroke-opacity="0.45"/><path d="M376.2 254.4h0M377.8 234.9h0M349.3 258.6h0M357.3 232.5h0M366.1 267.8h0" stroke-width="0.7" stroke-opacity="0.7"/><path d="M389.6 269.3h0M372.2 262.2h0M349.3 233.7h0" stroke-width="0.7" stroke-opacity="0.95"/><path d="M365.2 259.6h0M374.7 277.4h0M386.5 257.6h0M346.3 265.6h0M378.4 265.8h0M360.1 251.8h0M385.3 267.5h0" stroke-width="1" stroke-opacity="0.45"/><path d="M361.4 234.9h0M345.9 238.4h0M376.3 257.6h0M366.9 274.5h0M374.9 262.4h0M345.0 252.5h0M388.9 258.0h0M347.5 266.0h0M387.4 266.9h0M389.2 244.0h0M346.7 278.1h0M358.5 246.7h0M353.2 233.9h0M366.8 228.1h0M379.6 272.6h0M371.9 247.0h0M339.2 264.7h0M371.7 232.9h0M385.0 272.2h0M368.2 258.6h0M359.7 277.9h0M372.9 251.1h0M364.7 274.1h0M391.2 263.6h0M353.4 230.2h0M371.6 262.5h0M377.6 259.6h0M355.4 245.5h0M382.9 242.4h0M354.1 273.7h0M350.2 257.6h0M392.1 257.3h0M355.5 250.0h0M358.5 234.8h0M386.9 264.2h0M347.0 258.0h0M347.6 232.5h0M376.6 274.4h0M383.6 243.4h0" stroke-width="1" stroke-opacity="0.7"/><path d="M366.9 229.1h0M338.1 255.0h0M356.0 242.5h0M371.6 281.8h0M382.1 258.6h0M378.8 262.1h0M349.9 256.2h0M364.0 232.7h0M346.5 247.0h0M387.1 267.3h0M351.2 258.8h0M376.4 263.5h0M373.2 233.3h0M337.4 259.2h0M338.1 251.2h0M342.1 258.9h0M358.6 254.1h0M375.1 249.2h0M347.4 263.2h0M367.6 226.1h0M350.6 238.8h0M338.9 249.7h0M385.1 271.3h0M369.4 254.1h0M343.6 252.8h0M351.3 262.2h0M342.8 244.9h0" stroke-width="1" stroke-opacity="0.95"/><path d="M375.5 248.1h0M380.5 266.8h0M349.0 245.8h0M345.6 263.6h0M346.6 232.9h0M384.4 244.1h0M390.7 254.3h0M357.1 268.1h0M354.3 240.0h0M376.2 239.6h0M379.1 262.7h0M354.6 251.2h0M361.2 235.7h0M347.1 262.0h0M365.6 259.6h0M373.0 249.8h0M349.3 255.1h0M390.2 247.3h0M360.0 258.5h0" stroke-width="1.4" stroke-opacity="0.45"/><path d="M346.8 241.0h0M385.3 248.3h0M369.5 256.2h0M344.6 274.0h0M335.6 253.2h0M343.7 254.5h0M381.4 268.2h0M379.5 257.1h0M351.1 257.5h0M379.2 251.4h0M346.2 236.7h0M356.6 260.4h0M349.3 267.6h0M350.8 233.4h0M352.4 270.6h0M382.1 267.1h0M380.5 242.9h0M373.7 274.1h0M357.8 227.6h0M386.2 270.7h0M382.2 251.4h0M361.4 262.5h0M352.5 267.6h0M358.8 277.4h0M388.7 241.5h0M351.1 251.3h0M365.1 269.5h0M391.6 253.2h0M373.5 281.8h0M382.4 233.5h0M373.1 234.7h0M368.6 267.4h0M347.0 237.2h0M392.3 251.3h0M371.6 280.8h0M369.2 236.0h0M371.9 273.9h0M375.7 275.1h0M360.1 267.6h0M358.6 268.6h0M372.0 278.6h0M361.7 249.1h0M355.5 254.2h0M375.2 268.0h0M370.1 248.9h0M347.4 262.6h0M378.2 268.8h0M386.7 251.5h0M338.4 266.0h0M351.5 248.9h0M358.9 238.5h0M379.2 274.1h0M335.7 255.3h0M376.4 279.2h0M387.1 268.1h0M337.3 263.3h0M380.6 278.4h0" stroke-width="1.4" stroke-opacity="0.7"/><path d="M348.1 262.9h0M385.3 238.9h0M376.2 252.3h0M344.1 260.2h0M380.9 243.4h0M359.7 267.5h0M359.1 249.5h0M384.1 258.9h0M385.6 240.4h0M370.6 238.3h0M360.1 256.9h0M381.2 251.1h0M384.7 256.6h0M366.2 255.8h0M350.9 233.7h0M368.8 236.9h0M372.1 240.7h0M352.5 241.5h0M354.3 228.6h0M384.1 234.4h0M346.4 242.2h0M384.5 275.6h0M389.4 262.7h0M376.5 249.0h0M347.0 239.3h0M359.5 260.4h0M352.2 238.8h0M369.3 233.2h0M356.0 277.2h0M347.0 275.3h0M344.7 247.7h0M365.4 236.1h0M345.9 241.7h0M382.7 251.4h0M370.6 228.0h0M381.3 248.8h0M368.1 257.3h0M363.3 248.6h0M353.0 254.3h0M356.8 264.6h0M343.6 271.5h0M369.5 240.2h0M369.7 273.4h0M352.1 258.0h0M367.2 243.9h0M389.0 248.4h0M381.1 235.6h0M376.8 230.0h0" stroke-width="1.4" stroke-opacity="0.95"/><path d="M343.4 257.3h0M357.4 241.0h0M364.4 231.4h0" stroke-width="1.9" stroke-opacity="0.45"/><path d="M361.1 243.8h0M352.7 245.0h0M345.2 268.8h0M342.9 263.5h0M349.8 278.1h0M355.1 262.6h0M350.6 243.3h0M360.5 247.3h0M360.3 240.5h0M349.8 267.3h0M354.3 268.6h0M347.5 235.3h0M365.4 281.1h0M389.1 258.6h0M356.1 280.5h0M352.5 248.8h0M366.1 281.5h0M373.8 265.1h0M357.3 275.9h0M388.7 252.3h0" stroke-width="1.9" stroke-opacity="0.7"/><path d="M378.6 246.5h0M335.8 253.6h0M371.3 282.2h0M344.8 251.8h0M372.7 258.6h0M381.2 269.1h0M361.9 232.5h0M350.0 260.7h0M374.1 268.1h0M388.8 256.3h0M386.5 261.4h0M356.0 280.3h0M349.7 258.4h0M388.8 242.9h0M347.4 235.4h0M385.3 270.7h0M393.0 250.6h0M368.6 255.6h0" stroke-width="1.9" stroke-opacity="0.95"/><path d="M387.9 237.8h0M352.5 247.7h0M376.7 251.9h0M356.8 255.9h0" stroke-width="2.5" stroke-opacity="0.95"/><path d="M366.2 282.0h0M386.1 264.1h0" stroke-width="3.2" stroke-opacity="0.7"/><path d="M349.7 244.2h0" stroke-width="3.2" stroke-opacity="0.95"/></g>
<circle cx="431.8" cy="255.1" r="31.2" fill="#d5d5d3" stroke="#8a8a8a" stroke-width="0.8"/>
<circle cx="431.8" cy="255.1" r="30.1" fill="none" stroke="#000" stroke-opacity="0.06" stroke-width="1.2"/>
<g stroke="#3b3cc4" stroke-linecap="round" fill="none"><path d="M425.1 230.8h0M449.8 268.7h0M421.9 262.0h0M441.9 273.0h0" stroke-width="0.7" stroke-opacity="0.45"/><path d="M458.6 250.8h0M407.9 249.6h0M431.6 226.7h0M410.6 243.4h0M439.2 275.2h0M422.9 251.0h0M420.2 271.9h0M420.1 252.4h0M416.2 262.2h0M418.7 262.5h0" stroke-width="0.7" stroke-opacity="0.7"/><path d="M449.8 241.9h0M440.9 246.6h0M427.1 266.5h0M411.6 240.2h0M416.6 265.7h0" stroke-width="0.7" stroke-opacity="0.95"/><path d="M446.6 242.0h0M427.6 271.8h0M441.7 258.6h0M432.7 249.0h0M418.7 247.4h0M448.6 260.6h0M432.7 234.6h0M419.4 243.1h0M441.0 233.7h0M440.5 256.8h0M424.4 282.5h0M444.6 264.8h0M437.3 254.4h0M444.2 261.8h0M421.0 234.1h0M429.8 265.6h0" stroke-width="1" stroke-opacity="0.45"/><path d="M438.4 248.8h0M413.6 254.3h0M454.1 269.0h0M428.8 254.2h0M418.9 229.3h0M417.9 246.0h0M416.4 271.7h0M437.8 238.9h0M436.0 240.4h0M446.4 259.8h0M425.2 270.2h0M416.7 246.0h0M442.7 261.1h0M452.7 239.4h0M407.2 244.6h0M419.3 268.8h0M437.7 269.1h0M413.8 257.4h0M454.2 269.9h0M412.9 263.1h0M415.5 276.7h0M443.4 261.3h0M425.0 234.6h0M419.2 258.3h0M446.5 248.5h0M436.9 253.1h0M451.9 239.9h0M432.2 261.6h0M424.1 258.7h0M456.4 261.5h0M459.1 251.6h0M414.5 276.0h0M451.8 237.9h0M432.8 252.3h0M440.7 234.1h0M413.8 249.6h0M411.9 273.0h0M459.0 246.3h0" stroke-width="1" stroke-opacity="0.7"/><path d="M458.2 262.3h0M451.3 247.5h0M439.2 245.6h0M440.9 248.3h0M424.8 278.8h0M420.5 278.4h0M418.0 258.0h0M437.3 269.0h0M449.4 233.5h0M428.1 278.8h0M435.4 229.8h0M416.8 233.4h0M441.9 250.5h0M436.9 266.8h0M404.3 248.2h0M440.0 252.2h0M445.6 267.2h0M427.8 246.9h0M429.1 253.5h0M435.9 276.8h0M460.4 259.4h0M449.0 265.4h0M445.4 264.2h0M423.4 274.6h0M424.7 227.9h0M429.7 265.5h0M432.7 253.1h0M425.7 253.3h0M449.1 277.1h0M432.5 242.8h0M424.7 261.6h0" stroke-width="1" stroke-opacity="0.95"/><path d="M424.8 279.9h0M428.8 262.7h0M454.7 258.0h0M439.2 273.0h0M418.4 246.8h0M413.9 264.5h0M453.2 248.5h0M434.1 234.2h0M424.4 272.7h0M449.5 250.0h0M455.2 249.3h0M443.7 280.1h0M430.0 273.2h0M442.0 231.8h0M436.2 269.1h0M445.2 255.3h0M414.0 261.1h0M419.9 228.7h0M435.4 262.5h0M418.8 273.9h0M412.4 250.2h0M445.1 230.0h0" stroke-width="1.4" stroke-opacity="0.45"/><path d="M442.3 237.7h0M428.3 248.5h0M430.2 260.0h0M450.8 250.9h0M449.9 232.1h0M428.8 241.9h0M427.1 251.0h0M437.9 272.9h0M446.2 244.2h0M417.8 237.3h0M417.8 240.7h0M426.7 268.0h0M424.4 270.4h0M438.1 269.3h0M431.0 228.2h0M439.4 269.3h0M407.4 269.8h0M447.4 270.5h0M435.5 237.3h0M410.3 266.8h0M438.1 231.9h0M431.8 278.2h0M422.1 236.3h0M418.8 229.4h0M420.3 250.0h0M413.9 242.5h0M432.4 233.4h0M417.2 254.7h0M421.4 262.8h0M425.6 240.3h0M421.0 237.6h0M440.2 248.3h0M428.1 245.0h0M454.1 244.1h0M441.7 228.5h0M425.1 274.0h0M443.6 280.4h0M417.1 270.6h0M433.6 264.0h0M429.6 239.8h0M419.7 262.3h0M430.3 267.1h0M427.3 237.4h0M414.6 233.6h0M411.1 239.2h0M443.4 235.6h0M430.0 236.1h0M410.2 236.7h0M429.0 239.4h0M417.6 276.1h0M424.2 273.6h0M405.0 253.6h0M412.3 245.3h0M406.8 250.9h0M445.6 261.5h0M414.9 277.6h0M458.0 249.0h0M425.1 283.4h0M410.1 274.5h0M436.0 257.6h0M409.8 251.8h0" stroke-width="1.4" stroke-opacity="0.7"/><path d="M413.7 234.6h0M426.4 228.1h0M411.0 271.2h0M407.7 241.0h0M430.2 262.3h0M453.1 235.3h0M432.5 250.3h0M419.2 252.7h0M460.3 255.9h0M431.4 282.4h0M424.0 265.6h0M432.9 252.8h0M415.5 262.6h0M450.8 273.6h0M451.3 273.7h0M431.6 243.3h0M450.1 244.5h0M426.2 268.1h0M409.2 258.0h0M441.3 235.3h0M443.4 240.5h0M414.4 255.8h0M422.5 271.3h0M439.8 260.9h0M410.6 247.8h0M419.9 239.5h0M451.8 251.8h0M442.9 249.8h0M430.7 250.8h0M414.2 239.5h0M454.5 244.6h0M446.5 276.2h0M432.0 265.9h0M433.7 258.4h0M448.5 243.9h0M437.8 266.1h0M430.1 259.1h0M438.7 248.0h0M445.6 273.2h0M420.2 266.9h0M406.6 255.0h0M410.2 263.4h0M446.7 233.9h0M427.6 237.9h0M422.1 249.4h0M423.5 247.9h0M438.0 244.2h0M452.9 238.6h0M407.8 241.3h0M451.8 267.5h0M423.4 281.7h0" stroke-width="1.4" stroke-opacity="0.95"/><path d="M448.5 263.2h0" stroke-width="1.9" stroke-opacity="0.45"/><path d="M431.0 269.3h0M450.3 232.9h0M433.1 271.2h0M415.3 264.2h0M405.5 266.6h0M407.2 267.5h0M449.8 265.5h0M439.5 250.1h0M440.9 228.9h0M454.2 263.0h0M443.0 236.3h0M435.7 272.1h0M458.3 246.1h0M438.3 236.4h0M423.7 244.9h0M436.4 250.5h0M448.5 245.0h0M405.1 260.4h0M455.6 252.4h0" stroke-width="1.9" stroke-opacity="0.7"/><path d="M451.9 241.2h0M444.2 278.1h0M434.6 236.5h0M434.3 235.2h0M415.0 237.8h0M417.2 270.4h0M414.3 277.8h0M436.2 233.4h0M439.8 226.9h0M432.7 246.2h0M426.0 283.4h0M405.4 246.8h0M417.3 265.7h0M430.8 260.0h0M445.0 242.7h0M412.5 253.7h0M434.4 256.3h0" stroke-width="1.9" stroke-opacity="0.95"/><path d="M411.7 262.7h0M408.2 239.2h0" stroke-width="2.5" stroke-opacity="0.7"/><path d="M460.0 251.6h0M407.1 249.7h0M428.9 267.6h0M448.7 264.9h0" stroke-width="2.5" stroke-opacity="0.95"/><path d="M459.0 244.2h0" stroke-width="3.2" stroke-opacity="0.7"/><path d="M433.8 261.6h0M404.8 249.7h0M423.4 258.7h0" stroke-width="3.2" stroke-opacity="0.95"/></g>
<circle cx="298.8" cy="320.6" r="31.1" fill="#d5d5d3" stroke="#8a8a8a" stroke-width="0.8"/>
<circle cx="298.8" cy="320.6" r="30" fill="none" stroke="#000" stroke-opacity="0.06" stroke-width="1.2"/>
<g stroke="#3b3cc4" stroke-linecap="round" fill="none"><path d="M277.9 324.4h0M301.1 311.8h0M285.1 313.7h0" stroke-width="0.7" stroke-opacity="0.45"/><path d="M306.5 315.3h0M300.7 327.5h0M293.8 310.4h0M299.8 339.4h0M322.3 315.9h0M294.3 339.0h0M315.1 299.2h0" stroke-width="0.7" stroke-opacity="0.7"/><path d="M307.5 338.4h0M290.5 312.5h0M294.7 329.9h0M284.4 333.0h0M316.2 319.2h0M316.0 339.5h0M293.3 298.6h0M316.1 336.5h0M304.1 320.4h0M295.1 337.2h0M291.4 310.8h0M309.9 308.8h0" stroke-width="0.7" stroke-opacity="0.95"/><path d="M277.7 340.1h0M302.0 347.7h0M287.3 318.8h0M282.0 344.3h0M286.7 336.0h0M304.1 296.1h0M274.6 330.7h0M281.7 307.4h0M286.1 344.2h0M275.4 329.6h0M292.1 313.0h0" stroke-width="1" stroke-opacity="0.45"/><path d="M321.0 327.3h0M283.2 340.5h0M301.0 297.7h0M299.0 349.9h0M313.3 323.5h0M308.9 342.0h0M289.6 347.3h0M318.4 305.8h0M295.9 322.4h0M319.0 304.5h0M327.3 324.0h0M314.2 299.0h0M298.5 294.1h0M304.7 296.7h0M288.8 341.4h0M324.1 325.0h0M285.6 297.2h0M309.9 323.3h0M290.2 327.4h0M319.8 317.1h0M305.2 334.9h0M271.9 324.8h0M291.1 335.8h0M293.3 336.1h0M304.0 340.3h0M299.6 349.4h0M292.1 326.0h0M314.2 323.3h0M282.3 303.1h0M271.6 324.3h0M298.0 305.1h0M321.5 309.7h0M319.1 322.4h0M288.8 329.4h0M307.5 327.6h0" stroke-width="1" stroke-opacity="0.7"/><path d="M303.3 329.0h0M289.9 320.9h0M321.6 304.0h0M285.1 300.6h0M308.3 311.8h0M275.7 332.9h0M290.8 321.4h0M288.6 300.1h0M271.4 326.4h0M292.3 314.4h0M300.7 291.8h0M290.8 299.1h0M311.3 328.7h0M290.1 347.8h0M274.2 324.2h0M287.8 322.1h0M294.5 317.3h0M299.5 293.4h0M313.6 323.4h0M303.3 328.3h0M299.8 347.5h0M322.8 332.9h0M315.1 324.2h0M292.8 320.7h0M290.8 311.6h0M288.9 324.8h0M315.8 317.9h0M270.5 322.4h0M285.4 296.4h0M310.8 299.0h0M275.4 333.9h0" stroke-width="1" stroke-opacity="0.95"/><path d="M286.5 320.1h0M307.4 334.3h0M295.3 332.9h0M325.6 322.4h0M274.0 331.5h0M271.9 313.4h0M304.1 298.3h0M301.1 303.1h0M282.0 298.5h0M296.0 317.8h0M285.3 296.5h0M280.5 307.3h0M307.3 310.7h0M277.1 319.2h0" stroke-width="1.4" stroke-opacity="0.45"/><path d="M300.1 306.9h0M311.3 297.5h0M323.8 309.7h0M280.0 319.6h0M287.5 327.5h0M310.4 324.0h0M299.0 348.2h0M306.0 298.2h0M314.4 305.5h0M281.8 309.1h0M310.2 334.1h0M281.4 315.7h0M316.2 335.8h0M303.9 330.7h0M308.5 326.1h0M313.4 310.3h0M283.8 331.5h0M326.8 318.5h0M276.1 311.6h0M287.3 320.4h0M309.7 325.6h0M280.0 335.9h0M279.2 339.1h0M289.0 346.5h0M285.5 300.1h0M277.2 320.9h0M297.9 320.5h0M311.9 336.0h0M287.2 314.8h0M287.9 339.1h0M315.0 297.0h0M314.6 321.0h0M318.4 333.5h0M313.0 342.0h0M292.9 337.2h0M284.6 317.3h0M275.3 323.2h0M294.4 292.3h0M322.5 321.0h0M318.1 319.8h0M316.5 320.7h0M296.8 295.2h0M323.2 322.4h0M291.6 307.7h0M275.6 329.6h0M301.0 313.6h0M311.7 321.0h0M292.9 325.6h0M312.8 304.6h0M285.5 314.8h0M292.4 348.1h0M282.1 334.3h0M311.9 342.6h0" stroke-width="1.4" stroke-opacity="0.7"/><path d="M290.3 342.2h0M305.1 314.7h0M317.4 308.6h0M321.5 303.2h0M274.7 335.8h0M318.1 306.8h0M284.2 304.0h0M305.9 313.6h0M290.6 340.6h0M281.0 310.2h0M287.4 298.0h0M292.1 347.4h0M282.8 296.9h0M288.8 309.7h0M301.2 328.1h0M299.5 301.9h0M292.4 341.7h0M282.4 339.8h0M308.4 345.4h0M290.3 306.5h0M321.2 337.5h0M314.9 305.2h0M296.4 345.3h0M324.3 316.7h0M300.3 309.2h0M309.8 307.6h0M317.5 301.2h0M293.3 302.2h0M317.3 321.5h0M300.8 319.4h0M307.2 329.3h0M307.2 302.9h0M307.2 318.7h0M280.4 306.9h0M306.9 336.8h0M285.9 307.4h0M291.0 306.5h0M286.7 333.0h0M281.9 340.5h0M303.2 318.3h0M315.7 323.0h0M316.6 333.8h0M294.1 348.0h0M288.2 341.1h0" stroke-width="1.4" stroke-opacity="0.95"/><path d="M295.8 315.2h0M299.1 322.2h0M300.9 340.9h0M315.6 305.4h0M323.3 306.8h0" stroke-width="1.9" stroke-opacity="0.45"/><path d="M281.9 323.7h0M296.5 329.4h0M301.6 302.1h0M318.6 311.0h0M282.8 340.7h0M307.1 295.6h0M289.7 300.9h0M316.8 335.0h0M326.2 323.7h0M288.2 337.3h0M285.0 309.6h0M282.6 339.2h0M292.6 341.6h0M271.2 312.7h0M315.5 329.8h0M277.0 309.1h0M309.1 346.2h0M295.9 328.4h0M308.9 345.0h0M296.9 315.3h0M310.5 295.8h0M320.1 329.0h0M312.7 343.8h0" stroke-width="1.9" stroke-opacity="0.7"/><path d="M314.4 322.4h0M306.5 318.4h0M290.8 305.8h0M302.9 321.2h0M288.1 341.2h0M323.4 320.0h0M312.8 296.7h0M295.5 311.1h0M305.1 348.6h0M305.8 319.7h0M304.6 314.7h0M293.9 344.4h0M287.1 315.1h0M299.7 294.6h0M303.9 292.7h0M304.9 344.9h0M298.2 330.4h0M321.8 304.4h0M290.8 327.4h0M312.6 339.2h0M317.5 320.9h0M307.5 296.0h0M302.6 299.8h0M289.7 333.1h0M292.0 343.5h0M290.9 331.9h0M327.2 318.9h0M286.8 303.6h0" stroke-width="1.9" stroke-opacity="0.95"/><path d="M308.7 312.4h0M321.0 329.8h0" stroke-width="2.5" stroke-opacity="0.7"/><path d="M283.6 317.7h0M289.5 296.9h0M284.0 321.2h0M303.5 325.4h0M292.5 306.4h0M275.3 317.9h0M282.7 334.6h0M316.4 299.3h0" stroke-width="2.5" stroke-opacity="0.95"/><path d="M296.4 295.9h0" stroke-width="3.2" stroke-opacity="0.7"/><path d="M309.5 338.1h0M295.5 308.2h0M301.4 295.9h0" stroke-width="3.2" stroke-opacity="0.95"/></g>
<circle cx="364.8" cy="320.6" r="31.1" fill="#d5d5d3" stroke="#8a8a8a" stroke-width="0.8"/>
<circle cx="364.8" cy="320.6" r="30" fill="none" stroke="#000" stroke-opacity="0.06" stroke-width="1.2"/>
<g stroke="#3b3cc4" stroke-linecap="round" fill="none"><path d="M349.9 337.2h0M359.8 331.9h0M351.1 323.1h0" stroke-width="0.7" stroke-opacity="0.45"/><path d="M391.1 330.2h0M366.9 348.4h0M364.1 298.1h0" stroke-width="0.7" stroke-opacity="0.7"/><path d="M357.1 313.6h0M364.8 293.7h0M372.7 294.6h0M357.1 346.2h0M371.0 297.5h0M353.2 344.0h0M366.7 340.9h0M362.5 326.8h0" stroke-width="0.7" stroke-opacity="0.95"/><path d="M353.9 293.5h0M359.7 332.0h0M385.4 332.8h0M369.2 323.7h0M366.2 325.0h0M388.8 330.3h0M371.0 317.9h0" stroke-width="1" stroke-opacity="0.45"/><path d="M377.4 310.7h0M369.4 326.5h0M388.9 321.1h0M373.3 302.1h0M390.5 308.4h0M386.1 318.8h0M347.0 301.6h0M380.7 342.3h0M365.5 320.0h0M351.1 334.1h0M360.2 340.3h0M367.7 306.4h0M390.5 323.0h0M348.0 320.8h0M378.3 339.1h0M360.4 316.3h0M372.6 313.2h0M387.8 329.0h0M354.1 319.5h0M355.8 322.6h0M364.4 336.0h0M341.3 337.4h0M359.1 324.9h0M373.8 339.5h0M379.0 328.9h0" stroke-width="1" stroke-opacity="0.7"/><path d="M378.4 321.7h0M376.8 346.6h0M339.3 316.6h0M355.6 327.0h0M351.7 298.7h0M386.4 322.2h0M361.5 339.1h0M386.1 322.4h0M358.2 302.5h0M367.7 313.5h0M362.3 310.1h0M363.0 342.3h0M336.8 325.6h0" stroke-width="1" stroke-opacity="0.95"/><path d="M366.0 309.0h0M369.5 344.4h0M360.9 324.6h0M350.8 302.6h0M393.8 316.7h0M380.4 307.6h0" stroke-width="1.4" stroke-opacity="0.45"/><path d="M350.5 323.4h0M349.7 344.4h0M342.7 305.8h0M339.8 322.5h0M387.3 314.8h0M357.0 348.0h0M393.1 316.3h0M355.9 297.4h0M369.0 298.7h0M347.2 324.5h0M372.7 303.4h0M357.3 328.7h0M392.6 312.9h0M380.6 319.5h0M365.8 304.6h0M358.6 341.0h0M337.8 328.3h0M351.0 332.7h0M374.2 314.7h0M336.9 319.6h0M352.9 312.6h0M369.5 310.7h0M366.4 337.4h0M356.6 327.7h0M371.3 302.4h0M346.3 308.4h0M337.6 325.7h0M352.0 333.5h0M358.7 343.9h0M337.0 311.9h0M371.7 305.7h0M369.7 335.5h0" stroke-width="1.4" stroke-opacity="0.7"/><path d="M357.8 348.5h0M372.8 347.9h0M379.2 329.9h0M370.4 311.6h0M377.8 328.7h0M348.1 340.5h0M360.9 340.6h0M339.0 326.7h0M351.2 339.8h0M349.0 342.4h0M346.4 302.5h0M376.3 322.6h0M348.4 315.8h0M356.6 313.3h0M349.9 326.1h0M358.7 298.1h0M372.3 309.1h0M371.1 323.7h0M363.8 308.2h0M345.5 341.4h0M349.5 323.7h0M372.2 332.9h0M377.0 331.5h0M365.1 329.1h0" stroke-width="1.4" stroke-opacity="0.95"/><path d="M386.9 312.4h0M362.8 313.9h0M353.1 305.3h0" stroke-width="1.9" stroke-opacity="0.45"/><path d="M391.8 320.5h0M378.3 343.8h0M352.5 312.1h0M350.5 329.0h0M348.2 308.5h0M371.3 324.9h0M365.0 327.9h0" stroke-width="1.9" stroke-opacity="0.7"/><path d="M368.2 333.8h0M382.6 317.5h0M375.5 324.4h0M366.5 330.4h0M386.2 322.9h0M348.3 336.8h0M350.4 328.5h0" stroke-width="1.9" stroke-opacity="0.95"/><path d="M384.7 309.8h0M357.8 339.0h0" stroke-width="2.5" stroke-opacity="0.7"/></g>
<circle cx="431.8" cy="320.6" r="31.2" fill="#d5d5d3" stroke="#8a8a8a" stroke-width="0.8"/>
<circle cx="431.8" cy="320.6" r="30.1" fill="none" stroke="#000" stroke-opacity="0.06" stroke-width="1.2"/>
<g stroke="#3b3cc4" stroke-linecap="round" fill="none"><path d="M433.7 322.8h0M416.3 299.4h0" stroke-width="0.7" stroke-opacity="0.45"/><path d="M450.8 330.1h0M450.7 333.2h0M413.5 324.2h0M441.6 320.4h0" stroke-width="0.7" stroke-opacity="0.7"/><path d="M426.4 325.4h0M453.0 339.8h0M459.4 320.9h0" stroke-width="0.7" stroke-opacity="0.95"/><path d="M405.8 322.6h0M443.8 323.1h0M442.3 307.1h0M413.1 340.3h0M439.7 316.7h0M419.7 318.0h0M429.8 332.8h0M422.1 312.1h0" stroke-width="1" stroke-opacity="0.45"/><path d="M449.6 336.6h0M447.9 336.4h0M404.8 329.1h0M448.5 304.8h0M420.8 322.1h0M446.1 331.0h0M440.9 333.2h0M421.2 329.6h0M447.9 310.5h0M438.2 336.1h0M417.3 295.5h0M450.4 336.9h0M405.9 309.3h0M430.4 300.8h0M459.0 318.7h0M435.2 321.4h0M455.0 335.4h0M443.3 346.4h0M415.2 299.5h0M447.6 317.6h0M423.6 320.2h0M430.2 336.9h0M445.4 322.6h0M426.5 311.0h0M414.0 334.1h0M412.3 340.7h0M450.6 317.8h0" stroke-width="1" stroke-opacity="0.7"/><path d="M413.8 339.1h0M453.3 313.8h0M420.9 321.7h0M418.6 333.4h0M457.2 325.5h0M414.9 302.7h0M435.3 301.3h0M427.4 293.6h0M444.6 334.7h0M416.6 322.5h0M424.8 322.6h0M414.5 336.1h0M413.1 339.8h0M427.7 343.9h0M447.0 310.9h0M414.5 318.9h0M429.5 346.5h0M417.9 307.7h0" stroke-width="1" stroke-opacity="0.95"/><path d="M430.7 317.5h0M431.2 322.8h0M413.4 342.3h0M423.0 313.7h0M427.3 327.4h0M412.6 314.8h0M450.2 314.4h0M456.9 312.1h0M456.7 335.7h0M436.8 312.5h0M403.9 329.1h0M431.3 296.7h0M414.9 315.5h0M439.6 315.0h0M445.4 333.2h0M424.2 341.8h0M424.0 321.6h0M429.6 323.5h0" stroke-width="1.4" stroke-opacity="0.45"/><path d="M439.5 341.1h0M439.8 297.6h0M453.7 335.1h0M442.7 327.9h0M449.2 323.7h0M424.3 315.9h0M417.9 344.9h0M449.8 326.9h0M424.6 325.3h0M447.8 312.2h0M441.9 347.4h0M437.1 294.6h0M439.7 317.5h0M454.6 334.2h0M433.2 342.8h0M426.8 297.5h0M453.0 324.9h0M422.6 307.8h0M448.2 300.5h0M435.9 312.9h0M414.9 335.7h0M438.8 339.0h0M414.9 309.5h0M406.1 317.3h0M449.4 335.1h0M460.7 319.5h0M446.8 306.3h0M441.9 311.3h0M411.5 330.2h0M446.8 300.7h0M423.9 299.0h0M410.0 311.3h0M441.7 346.9h0M446.3 310.4h0M459.4 322.7h0M418.3 340.1h0M436.7 322.0h0M403.5 323.5h0" stroke-width="1.4" stroke-opacity="0.7"/><path d="M429.4 301.8h0M416.7 301.2h0M418.5 296.3h0M437.8 300.3h0M437.4 304.9h0M415.3 332.9h0M450.4 335.1h0M447.3 308.3h0M408.3 338.2h0M454.1 308.3h0M419.4 312.5h0M456.5 319.8h0M422.7 295.7h0M428.9 328.5h0M454.5 306.2h0M458.8 319.7h0M421.9 320.3h0M424.9 330.0h0M437.5 331.8h0M406.5 327.9h0M441.0 325.0h0M415.1 316.1h0M435.8 326.4h0M438.4 321.2h0M446.7 342.0h0M440.8 313.0h0M415.3 323.9h0M416.6 302.7h0M421.0 299.7h0M436.8 314.2h0M413.3 312.0h0M421.8 339.8h0M414.9 308.6h0M439.5 344.0h0M421.9 343.5h0M418.6 329.1h0M430.1 318.8h0M428.6 321.3h0M458.1 315.2h0M425.4 329.4h0" stroke-width="1.4" stroke-opacity="0.95"/><path d="M450.7 316.5h0M439.0 327.3h0" stroke-width="1.9" stroke-opacity="0.45"/><path d="M413.6 342.4h0M450.4 342.3h0M456.0 330.8h0M454.7 316.4h0M429.0 343.9h0M453.5 319.7h0M406.7 321.3h0M414.3 339.2h0M441.2 322.3h0M427.5 323.7h0" stroke-width="1.9" stroke-opacity="0.7"/><path d="M446.3 318.9h0M451.8 332.2h0M457.5 319.5h0M441.1 313.8h0M442.8 300.5h0M441.5 345.3h0M440.6 348.3h0M436.8 338.8h0M412.2 307.1h0M426.0 314.2h0" stroke-width="1.9" stroke-opacity="0.95"/><path d="M407.8 329.9h0M445.1 313.0h0" stroke-width="2.5" stroke-opacity="0.7"/><path d="M433.9 339.8h0" stroke-width="2.5" stroke-opacity="0.95"/><path d="M425.4 309.4h0" stroke-width="3.2" stroke-opacity="0.7"/><path d="M450.0 299.5h0" stroke-width="3.2" stroke-opacity="0.95"/></g>
<text x="294" y="388" font-size="11.8" text-anchor="start" fill="#000" transform="rotate(-15 294 388)">NC</text>
<text x="347" y="387.6" font-size="11.6" text-anchor="start" fill="#000" transform="rotate(-15 347 387.6)">siSPHK1 1#</text>
<text x="412" y="387.6" font-size="11.6" text-anchor="start" fill="#000" transform="rotate(-15 412 387.6)">siSPHK1 2#</text>
<text x="247" y="427.5" font-size="11.8" text-anchor="start" fill="#000">Ctr</text>
<text x="247" y="496.9" font-size="11.8" text-anchor="start" fill="#000">Ola</text>
<circle cx="300.2" cy="421.5" r="31.4" fill="#d5d5d3" stroke="#8a8a8a" stroke-width="0.8"/>
<circle cx="300.2" cy="421.5" r="30.3" fill="none" stroke="#000" stroke-opacity="0.06" stroke-width="1.2"/>
<g stroke="#3b3cc4" stroke-linecap="round" fill="none"><path d="M319.2 426.0h0M280.1 425.9h0M285.8 431.3h0M299.7 422.7h0M293.9 430.7h0" stroke-width="0.7" stroke-opacity="0.45"/><path d="M293.1 419.3h0M282.0 437.4h0M287.3 413.4h0M296.6 427.2h0M314.4 435.1h0M281.7 415.0h0M309.4 429.0h0M293.7 438.0h0M315.4 422.0h0M328.6 417.6h0M288.6 424.4h0M282.3 399.7h0M307.0 393.8h0M300.5 449.6h0M292.1 439.0h0M271.0 423.4h0" stroke-width="0.7" stroke-opacity="0.7"/><path d="M276.4 425.4h0M305.2 430.3h0M314.5 432.1h0M285.1 406.6h0M323.9 435.3h0M279.0 427.3h0M293.9 435.7h0M298.4 408.3h0M288.2 429.5h0M305.7 444.2h0M312.0 396.2h0M288.8 427.2h0M324.9 409.7h0" stroke-width="0.7" stroke-opacity="0.95"/><path d="M303.3 442.6h0M287.3 439.2h0M325.5 427.9h0M287.7 421.5h0M287.8 436.4h0M300.6 397.7h0M289.7 424.9h0M324.3 415.4h0M286.1 396.8h0M306.9 449.9h0M308.5 445.8h0M322.1 401.8h0M310.0 394.1h0M299.2 401.6h0" stroke-width="1" stroke-opacity="0.45"/><path d="M276.3 433.8h0M292.0 404.0h0M277.8 434.2h0M311.8 396.6h0M306.6 434.3h0M285.6 433.2h0M307.3 424.4h0M291.6 414.0h0M316.3 402.8h0M317.4 416.5h0M300.0 437.5h0M326.7 422.2h0M296.8 399.7h0M275.6 412.6h0M307.2 393.2h0M323.2 432.5h0M297.3 435.8h0M279.5 424.8h0M304.5 422.6h0M294.3 394.4h0M297.5 395.0h0M300.9 426.7h0M295.1 415.1h0M307.4 449.4h0M295.3 429.0h0M281.8 432.5h0M298.3 436.1h0M315.4 407.9h0M275.9 421.8h0M287.4 421.8h0M285.6 396.7h0M290.9 405.9h0M301.0 422.9h0M299.7 393.4h0M289.0 431.2h0M299.2 408.3h0M315.7 425.5h0M303.8 439.1h0M308.9 425.1h0M291.7 442.1h0M319.6 399.2h0M285.7 436.7h0M272.0 417.7h0M288.8 409.8h0M290.7 423.1h0M317.8 421.8h0M300.7 432.9h0M318.3 402.6h0M305.0 410.1h0M302.9 419.0h0M324.9 406.8h0M295.1 446.0h0M298.3 450.2h0M293.7 401.6h0M288.0 408.8h0M280.0 440.6h0M286.8 399.8h0M303.5 399.2h0M311.0 412.0h0M292.3 395.5h0M323.5 438.8h0M308.0 443.8h0M287.6 406.0h0M290.0 410.7h0M295.9 427.1h0M304.6 450.2h0M309.2 409.2h0M297.3 435.9h0" stroke-width="1" stroke-opacity="0.7"/><path d="M306.5 429.5h0M310.3 432.2h0M315.6 424.2h0M300.2 401.0h0M299.1 440.6h0M321.8 401.9h0M311.0 438.0h0M321.8 417.8h0M311.2 434.9h0M321.9 437.6h0M306.1 431.8h0M299.9 421.3h0M304.8 446.9h0M319.6 427.7h0M322.6 415.4h0M321.7 426.1h0M313.4 406.7h0M294.5 414.6h0M286.9 430.0h0M276.4 433.9h0M297.2 394.9h0M312.5 424.4h0M288.2 396.2h0M285.7 407.2h0M300.8 427.3h0M312.6 409.9h0M303.2 425.3h0M321.0 430.6h0M318.9 425.2h0M308.5 440.6h0M290.4 435.3h0M296.0 425.0h0M314.7 439.4h0M275.8 436.9h0M280.0 437.7h0M319.3 423.1h0M291.1 433.7h0M320.2 413.6h0M289.6 430.1h0" stroke-width="1" stroke-opacity="0.95"/><path d="M277.0 419.2h0M328.8 425.7h0M273.4 411.0h0M314.4 442.2h0M305.8 437.2h0M283.1 404.1h0M299.5 405.2h0M303.5 449.4h0M325.8 421.8h0M326.3 413.7h0M289.5 430.6h0M311.5 447.8h0M277.6 435.7h0M292.7 437.6h0M299.9 394.3h0M327.6 411.3h0M321.7 427.2h0M316.7 432.2h0M309.7 431.9h0M306.9 416.0h0" stroke-width="1.4" stroke-opacity="0.45"/><path d="M280.1 400.8h0M306.5 420.6h0M309.7 442.0h0M323.7 427.4h0M312.0 409.8h0M282.4 398.0h0M291.8 434.2h0M276.8 438.2h0M274.9 432.7h0M275.3 435.1h0M296.2 420.9h0M300.3 437.1h0M310.5 438.0h0M275.2 434.8h0M306.2 425.3h0M299.0 432.1h0M294.0 436.6h0M300.2 425.2h0M285.3 444.1h0M311.6 420.4h0M321.6 438.1h0M307.8 397.0h0M296.1 415.1h0M313.8 428.4h0M298.3 392.3h0M275.9 424.7h0M293.0 407.2h0M312.6 395.1h0M321.0 422.0h0M300.3 436.8h0M298.9 415.0h0M309.7 416.8h0M291.2 408.0h0M274.9 409.7h0M276.7 421.0h0M303.3 449.7h0M306.2 426.6h0M290.1 437.8h0M307.6 397.2h0M316.4 418.4h0M283.5 442.5h0M311.7 398.2h0M317.4 433.4h0M308.9 408.0h0M316.1 444.4h0M276.8 439.4h0M309.3 418.3h0M299.5 444.4h0M317.1 422.7h0M295.1 433.8h0M305.6 410.9h0M277.7 436.9h0M303.9 439.8h0M305.5 412.9h0M278.7 432.3h0M323.2 424.9h0M302.4 395.5h0M293.3 421.0h0M304.1 436.2h0M316.4 435.8h0M323.6 439.5h0M283.7 441.4h0M299.9 415.0h0M303.8 443.8h0M323.9 423.2h0M307.4 443.4h0M327.4 422.6h0M291.0 395.9h0M281.8 415.0h0M299.1 392.8h0M276.9 431.2h0M282.3 401.4h0M307.7 426.9h0M320.7 416.8h0M286.0 441.9h0M306.0 414.7h0M275.0 416.4h0M300.5 438.4h0M326.5 418.8h0M292.9 401.9h0M310.0 443.4h0M276.6 419.7h0M308.8 399.6h0M311.4 397.2h0M290.2 418.4h0M278.9 431.8h0M292.0 409.2h0M302.9 447.4h0M285.9 416.3h0M300.9 412.1h0" stroke-width="1.4" stroke-opacity="0.7"/><path d="M284.7 426.2h0M301.0 443.9h0M282.7 411.9h0M317.5 431.1h0M321.3 406.1h0M293.4 429.3h0M295.5 420.2h0M313.2 444.1h0M293.5 433.8h0M316.2 400.3h0M304.6 434.1h0M311.2 404.2h0M323.7 417.2h0M288.0 437.4h0M284.2 407.8h0M279.5 427.9h0M321.9 432.2h0M317.0 444.4h0M326.0 434.1h0M283.7 426.4h0M308.4 403.8h0M283.7 434.6h0M323.6 435.2h0M281.7 410.5h0M273.2 420.8h0M276.0 407.4h0M314.4 427.2h0M309.2 402.4h0M279.9 442.2h0M309.2 428.9h0M323.7 412.5h0M310.5 432.2h0M311.6 416.0h0M302.1 440.5h0M273.7 425.7h0M310.7 431.8h0M294.6 415.1h0M310.6 418.2h0M304.7 411.2h0M315.6 405.7h0M281.4 399.0h0M285.7 408.5h0M326.8 429.9h0M283.4 403.5h0M273.6 426.7h0M291.9 399.4h0M304.4 425.1h0M313.5 421.6h0M320.9 422.1h0M323.2 434.3h0M316.5 410.9h0M287.7 428.2h0M303.9 397.0h0M315.9 432.6h0M286.5 408.4h0M318.3 434.8h0M322.0 406.9h0M297.8 418.8h0M321.9 406.6h0M306.6 395.2h0M275.2 416.6h0M286.4 398.1h0M285.7 444.8h0M274.6 417.3h0M292.1 436.1h0M282.8 401.9h0M316.7 407.1h0M294.0 439.7h0M282.2 399.3h0M317.4 411.8h0M302.3 424.5h0M321.2 441.6h0" stroke-width="1.4" stroke-opacity="0.95"/><path d="M298.2 405.7h0M307.8 440.4h0M313.7 438.2h0M314.6 427.4h0M306.5 438.2h0M320.6 409.7h0M308.8 399.2h0M322.1 423.2h0" stroke-width="1.9" stroke-opacity="0.45"/><path d="M282.6 443.1h0M287.1 444.5h0M276.3 411.7h0M291.5 395.2h0M326.2 428.8h0M290.2 423.6h0M322.6 410.3h0M287.3 434.8h0M281.0 400.8h0M292.7 445.8h0M324.6 426.5h0M312.7 397.2h0M293.8 440.5h0M297.0 392.1h0M310.2 418.6h0M307.4 423.1h0M322.5 417.7h0M316.7 413.3h0M271.3 423.0h0M300.7 409.7h0M304.7 406.9h0M297.9 445.1h0M304.3 436.1h0M314.1 443.7h0M293.1 421.8h0M309.0 404.9h0M311.8 397.9h0M292.1 426.4h0" stroke-width="1.9" stroke-opacity="0.7"/><path d="M285.0 437.8h0M319.3 416.2h0M320.9 433.7h0M308.2 429.7h0M316.5 442.9h0M283.6 433.8h0M286.3 421.8h0M317.5 428.3h0M302.3 441.8h0M288.2 405.9h0M294.1 432.9h0M279.9 405.0h0M279.3 422.6h0M327.3 422.6h0M308.1 419.5h0M322.9 425.6h0M286.0 447.2h0M304.6 418.2h0M271.0 420.3h0M282.8 405.8h0M294.5 409.1h0M304.5 393.5h0" stroke-width="1.9" stroke-opacity="0.95"/><path d="M280.7 431.8h0" stroke-width="2.5" stroke-opacity="0.7"/><path d="M313.1 422.0h0M285.8 399.5h0M310.1 424.0h0" stroke-width="2.5" stroke-opacity="0.95"/><path d="M276.2 405.8h0" stroke-width="3.2" stroke-opacity="0.95"/></g>
<circle cx="366.8" cy="421.5" r="31.4" fill="#d5d5d3" stroke="#8a8a8a" stroke-width="0.8"/>
<circle cx="366.8" cy="421.5" r="30.3" fill="none" stroke="#000" stroke-opacity="0.06" stroke-width="1.2"/>
<g stroke="#3b3cc4" stroke-linecap="round" fill="none"><path d="M339.3 413.4h0" stroke-width="0.7" stroke-opacity="0.45"/><path d="M376.4 446.7h0M365.9 397.7h0M368.3 426.2h0" stroke-width="0.7" stroke-opacity="0.7"/><path d="M346.0 417.7h0M345.8 410.6h0" stroke-width="0.7" stroke-opacity="0.95"/><path d="M385.2 408.4h0M374.5 446.2h0M353.3 413.1h0M382.6 403.6h0M378.2 444.5h0M382.8 410.7h0M367.4 416.4h0M342.9 426.0h0" stroke-width="1" stroke-opacity="0.45"/><path d="M378.4 404.0h0M342.0 420.3h0M384.1 422.8h0M368.4 404.3h0M377.8 422.7h0M352.8 432.5h0M363.4 418.6h0M363.1 408.8h0M376.3 407.9h0M376.7 400.7h0M389.8 432.1h0M386.8 439.6h0M389.8 408.9h0M390.4 405.6h0M360.0 436.1h0M374.8 434.1h0M368.7 412.3h0M378.2 434.0h0M381.5 415.3h0M363.6 413.8h0M387.0 442.4h0M368.4 439.3h0M380.8 424.4h0M344.4 409.5h0M347.3 427.0h0M396.1 421.6h0M373.5 399.4h0M358.3 401.0h0M377.9 421.0h0M361.3 415.6h0M358.8 440.6h0M370.7 430.1h0M355.3 434.0h0M384.7 399.1h0M373.7 411.9h0M385.1 411.0h0M355.5 427.8h0" stroke-width="1" stroke-opacity="0.7"/><path d="M382.0 423.4h0M359.6 428.4h0M388.3 430.5h0M386.3 414.6h0M349.6 443.2h0M383.6 434.8h0M374.2 410.7h0M373.8 401.7h0M362.4 424.9h0M363.7 409.6h0M353.8 445.6h0M347.2 407.7h0M362.1 408.2h0M341.8 422.4h0M382.0 397.5h0M388.6 402.0h0M370.7 410.3h0M344.6 423.4h0M365.2 412.3h0" stroke-width="1" stroke-opacity="0.95"/><path d="M373.8 409.9h0M379.6 447.7h0M383.0 437.1h0M358.0 444.3h0M369.6 394.8h0M352.6 441.8h0M373.3 404.6h0M344.4 423.8h0" stroke-width="1.4" stroke-opacity="0.45"/><path d="M354.2 405.9h0M353.8 442.4h0M344.6 409.5h0M369.0 440.3h0M350.3 408.7h0M343.4 430.9h0M391.1 437.6h0M347.2 442.5h0M346.3 401.0h0M345.3 422.9h0M366.6 406.7h0M390.8 408.3h0M379.4 398.0h0M356.9 420.2h0M343.0 412.8h0M353.9 446.1h0M367.4 414.2h0M348.9 422.7h0M389.3 413.7h0M372.1 396.6h0M375.5 408.1h0M352.4 406.3h0M389.2 435.4h0M357.0 410.3h0M371.0 425.3h0M359.5 393.6h0M365.0 442.8h0M373.2 445.3h0M349.6 405.8h0M371.4 446.2h0M345.2 429.0h0M388.5 413.6h0M382.3 421.4h0M343.4 415.3h0M348.1 420.5h0M340.4 409.8h0M353.4 438.3h0M359.4 403.4h0M344.0 414.4h0M344.6 423.5h0M344.5 419.2h0M377.2 423.3h0M378.1 427.2h0M349.3 441.3h0M383.3 413.4h0M384.3 430.4h0M358.5 417.0h0M365.0 415.8h0M382.7 407.6h0M355.5 409.8h0" stroke-width="1.4" stroke-opacity="0.7"/><path d="M386.9 435.7h0M357.2 428.8h0M357.6 424.7h0M369.5 437.4h0M375.4 405.8h0M348.5 437.0h0M363.3 413.5h0M389.4 404.3h0M351.7 415.4h0M355.3 448.4h0M337.6 424.9h0M375.2 399.1h0M381.9 430.1h0M355.4 395.7h0M380.3 434.0h0M346.8 424.4h0M371.6 432.3h0M362.3 449.4h0M342.4 418.4h0M367.8 421.2h0M355.5 405.9h0M348.9 442.8h0M345.6 401.4h0M350.2 445.5h0M381.2 401.5h0M383.1 426.8h0" stroke-width="1.4" stroke-opacity="0.95"/><path d="M341.9 420.7h0M366.1 404.0h0M376.3 419.4h0M344.4 412.5h0" stroke-width="1.9" stroke-opacity="0.45"/><path d="M347.5 440.4h0M392.0 415.9h0M352.4 409.0h0M377.8 403.7h0M347.5 407.3h0M382.6 440.8h0M386.5 410.1h0M370.1 439.3h0" stroke-width="1.9" stroke-opacity="0.7"/><path d="M388.2 407.7h0M380.3 401.0h0M351.7 430.9h0M340.4 410.5h0M373.4 399.0h0M342.1 419.9h0M364.8 405.1h0M361.4 428.1h0M375.9 433.8h0M377.0 402.6h0M391.1 425.7h0M377.3 432.9h0M368.0 393.7h0M389.3 423.6h0M389.6 416.1h0" stroke-width="1.9" stroke-opacity="0.95"/><path d="M382.7 421.6h0" stroke-width="2.5" stroke-opacity="0.7"/><path d="M363.7 432.2h0M376.6 402.3h0" stroke-width="2.5" stroke-opacity="0.95"/><path d="M380.0 436.6h0" stroke-width="3.2" stroke-opacity="0.95"/></g>
<circle cx="433.5" cy="421.5" r="31.4" fill="#d5d5d3" stroke="#8a8a8a" stroke-width="0.8"/>
<circle cx="433.5" cy="421.5" r="30.3" fill="none" stroke="#000" stroke-opacity="0.06" stroke-width="1.2"/>
<g stroke="#3b3cc4" stroke-linecap="round" fill="none"><path d="M432.7 433.9h0M433.2 428.6h0M426.4 414.9h0" stroke-width="0.7" stroke-opacity="0.45"/><path d="M418.4 414.4h0M454.0 402.5h0M406.9 411.7h0M443.2 397.2h0M421.6 430.1h0M424.0 401.9h0M419.1 409.3h0M416.6 403.1h0M425.8 395.0h0M442.3 422.9h0M451.6 430.7h0M415.9 416.8h0M415.8 402.5h0M443.7 408.2h0M417.9 445.7h0M421.8 431.5h0M457.4 432.7h0" stroke-width="0.7" stroke-opacity="0.7"/><path d="M443.1 406.1h0M449.2 407.6h0M421.1 438.8h0M409.1 416.6h0M425.7 437.7h0M433.2 412.3h0M420.7 431.2h0M416.3 414.8h0M450.9 444.7h0M419.0 400.8h0M434.6 423.2h0M443.2 398.7h0M421.3 433.5h0" stroke-width="0.7" stroke-opacity="0.95"/><path d="M427.3 445.0h0M427.4 410.9h0M414.5 408.2h0M413.1 419.3h0M427.9 405.8h0M423.4 441.8h0M428.8 428.4h0M405.4 429.4h0M426.3 414.4h0M408.1 408.9h0M445.3 410.2h0M428.7 431.4h0" stroke-width="1" stroke-opacity="0.45"/><path d="M420.1 421.6h0M429.8 407.2h0M447.3 443.9h0M413.7 410.5h0M413.2 423.4h0M405.7 427.4h0M424.1 424.8h0M441.2 435.9h0M434.0 402.2h0M422.0 430.6h0M453.3 404.8h0M440.2 421.6h0M417.8 407.3h0M417.0 422.0h0M417.3 419.0h0M410.7 402.8h0M449.2 435.6h0M455.1 402.3h0M443.7 420.6h0M426.6 405.7h0M406.5 417.7h0M456.4 420.7h0M432.5 428.8h0M447.1 427.9h0M408.9 436.5h0M451.1 436.3h0M419.5 420.0h0M426.2 440.3h0M442.0 418.9h0M458.9 427.2h0M447.0 405.6h0M450.1 417.6h0M439.2 401.6h0M453.0 408.4h0M418.4 418.6h0M417.1 416.3h0M444.0 417.5h0M454.2 411.4h0M408.5 434.4h0M445.9 408.9h0M442.1 410.4h0M440.0 422.0h0M423.3 422.1h0M435.6 413.9h0M419.7 412.5h0M445.2 404.5h0M419.1 427.0h0M433.3 399.2h0M455.0 420.3h0M461.2 426.7h0M425.1 429.3h0" stroke-width="1" stroke-opacity="0.7"/><path d="M434.7 408.4h0M415.3 417.0h0M411.2 402.9h0M411.4 438.5h0M418.8 421.1h0M459.1 431.0h0M416.3 401.5h0M421.3 405.4h0M442.8 407.1h0M420.5 442.2h0M417.8 432.5h0M420.0 422.7h0M424.8 438.8h0M441.1 403.2h0M439.6 418.8h0M446.8 412.7h0M424.7 428.9h0M416.3 432.5h0M424.0 422.2h0M431.6 418.7h0M420.9 407.9h0M439.5 436.3h0M443.3 424.4h0M412.5 435.4h0M433.9 392.3h0M428.8 432.1h0M445.1 405.5h0" stroke-width="1" stroke-opacity="0.95"/><path d="M433.0 412.8h0M435.4 426.9h0M449.5 407.1h0M417.3 439.6h0M444.7 398.8h0M435.2 424.4h0M439.3 414.5h0M431.9 417.2h0M461.7 413.5h0M449.8 421.7h0M430.3 424.1h0M421.2 420.8h0M408.3 414.4h0M434.6 430.4h0" stroke-width="1.4" stroke-opacity="0.45"/><path d="M452.5 442.6h0M417.7 444.0h0M440.5 418.8h0M451.8 417.3h0M445.9 409.0h0M418.0 423.4h0M438.9 403.6h0M430.7 412.5h0M455.2 429.0h0M438.9 418.7h0M426.9 423.1h0M429.8 395.9h0M438.4 404.7h0M420.9 432.8h0M437.4 422.7h0M435.5 418.9h0M428.1 436.3h0M435.9 416.6h0M429.6 418.4h0M432.7 434.7h0M421.5 416.4h0M447.4 437.1h0M419.0 418.3h0M434.8 417.8h0M418.6 428.0h0M425.1 442.4h0M451.3 414.5h0M436.2 450.4h0M446.5 409.8h0M434.8 401.9h0M432.0 416.0h0M426.2 422.3h0M462.0 419.8h0M440.9 412.2h0M444.1 445.9h0M441.8 396.9h0M439.4 448.7h0M404.8 426.4h0M434.6 395.5h0M413.9 405.4h0M422.2 425.2h0M458.2 433.3h0M418.0 404.6h0M456.7 439.8h0M412.8 433.0h0M412.0 426.4h0M417.8 423.1h0M414.0 417.5h0M427.7 433.4h0M437.0 401.5h0M446.3 414.5h0M445.7 405.3h0M434.8 436.8h0M453.2 428.3h0M417.6 412.1h0M417.1 440.1h0M461.5 427.1h0M441.4 447.8h0M441.8 396.4h0M416.1 410.3h0M409.2 427.1h0M428.8 434.7h0" stroke-width="1.4" stroke-opacity="0.7"/><path d="M448.4 425.4h0M431.9 419.9h0M416.9 401.0h0M429.6 422.2h0M417.1 424.0h0M421.4 409.3h0M440.2 404.0h0M427.8 405.9h0M445.7 436.2h0M418.3 424.5h0M406.3 420.1h0M446.1 405.9h0M436.3 414.2h0M430.6 416.6h0M440.7 417.5h0M435.2 425.0h0M460.7 425.1h0M425.5 419.2h0M425.7 416.4h0M455.7 403.7h0M419.7 430.9h0M440.1 432.8h0M410.6 429.0h0M431.7 448.3h0M421.0 444.5h0M435.6 449.4h0M443.6 437.3h0M428.3 402.6h0M418.5 420.5h0M417.0 416.2h0M412.8 425.1h0M427.5 407.1h0M428.1 428.7h0M406.5 431.5h0M416.4 425.8h0M440.5 420.7h0M459.9 416.4h0M448.7 399.9h0M409.9 428.8h0M409.7 429.7h0M412.6 419.3h0M459.1 407.8h0M415.4 431.8h0M408.7 407.9h0M425.3 402.2h0M435.5 408.4h0M427.4 406.0h0M450.8 437.4h0" stroke-width="1.4" stroke-opacity="0.95"/><path d="M445.4 398.9h0M408.9 420.5h0M448.5 427.3h0M432.2 418.4h0M445.3 405.4h0" stroke-width="1.9" stroke-opacity="0.45"/><path d="M451.8 418.3h0M445.7 419.6h0M438.3 429.3h0M453.3 412.6h0M461.0 411.6h0M434.0 421.9h0M451.2 428.9h0M425.4 433.4h0M424.7 420.6h0M409.7 414.7h0M434.6 414.4h0M417.6 401.2h0M449.7 396.8h0M424.7 420.3h0M429.1 416.7h0M407.4 423.2h0" stroke-width="1.9" stroke-opacity="0.7"/><path d="M431.5 414.9h0M420.1 411.6h0M437.3 394.5h0M449.3 415.0h0M424.7 404.0h0M435.9 445.9h0M455.7 417.1h0M448.4 401.0h0M450.6 408.8h0M421.7 435.0h0M449.7 431.8h0M451.8 440.0h0M449.5 437.8h0M452.2 409.0h0M421.6 421.3h0M419.7 445.2h0M444.0 394.0h0" stroke-width="1.9" stroke-opacity="0.95"/><path d="M439.6 418.4h0" stroke-width="2.5" stroke-opacity="0.7"/><path d="M408.6 413.6h0M417.8 431.4h0M423.4 434.4h0" stroke-width="2.5" stroke-opacity="0.95"/><path d="M427.3 418.7h0" stroke-width="3.2" stroke-opacity="0.7"/></g>
<circle cx="300.2" cy="488.6" r="31.4" fill="#d5d5d3" stroke="#8a8a8a" stroke-width="0.8"/>
<circle cx="300.2" cy="488.6" r="30.3" fill="none" stroke="#000" stroke-opacity="0.06" stroke-width="1.2"/>
<g stroke="#3b3cc4" stroke-linecap="round" fill="none"><path d="M317.6 496.8h0M281.0 499.3h0M316.5 496.7h0" stroke-width="0.7" stroke-opacity="0.45"/><path d="M292.0 503.2h0M295.4 491.4h0M306.4 505.0h0M327.5 484.3h0M295.5 493.2h0M313.2 501.6h0M289.0 491.4h0M298.7 479.8h0M314.1 510.7h0M291.0 512.9h0M297.2 468.5h0M319.3 474.1h0M278.8 483.7h0M310.0 473.5h0M303.9 477.0h0M312.0 467.5h0M275.4 476.2h0" stroke-width="0.7" stroke-opacity="0.7"/><path d="M289.0 504.6h0M294.7 461.2h0M314.2 472.2h0M304.7 461.3h0M307.6 471.6h0M314.3 492.5h0M299.6 500.2h0M278.6 475.7h0M296.1 477.2h0" stroke-width="0.7" stroke-opacity="0.95"/><path d="M308.0 500.3h0M297.6 501.1h0M302.7 459.8h0M273.9 496.1h0M281.4 498.6h0M301.5 486.3h0M316.2 495.8h0" stroke-width="1" stroke-opacity="0.45"/><path d="M281.5 509.5h0M287.6 496.1h0M308.8 491.4h0M281.9 502.4h0M318.8 478.5h0M281.5 481.4h0M316.6 512.0h0M306.5 486.6h0M284.4 477.4h0M319.9 504.2h0M295.0 494.5h0M291.8 514.6h0M311.9 505.7h0M305.5 499.6h0M288.8 508.2h0M289.2 472.0h0M306.7 473.7h0M274.7 492.9h0M311.1 506.1h0M324.9 487.7h0M287.6 495.2h0M304.9 474.8h0M321.2 499.9h0M294.5 484.5h0M312.4 465.2h0M271.2 492.3h0M312.8 509.9h0M275.3 486.9h0M315.1 474.9h0M307.9 483.9h0" stroke-width="1" stroke-opacity="0.7"/><path d="M283.4 486.4h0M290.8 466.4h0M310.5 461.4h0M298.5 508.2h0M307.4 460.9h0M284.8 480.4h0M304.9 461.3h0M283.7 466.0h0M327.1 491.5h0M306.6 500.4h0M306.3 496.0h0M312.1 465.4h0M280.2 503.2h0M300.8 500.3h0M314.0 470.5h0M273.4 495.6h0M302.9 484.0h0M283.4 493.6h0M284.2 483.5h0M322.6 472.5h0M297.7 473.4h0M296.3 495.4h0M322.8 476.1h0M284.8 468.3h0M290.7 468.3h0M297.6 505.7h0M283.6 473.6h0M321.0 476.4h0" stroke-width="1" stroke-opacity="0.95"/><path d="M329.2 485.4h0M292.2 482.7h0M325.2 499.5h0M283.4 472.8h0M313.5 509.0h0M311.6 474.5h0M273.5 477.5h0M314.0 501.3h0M284.7 477.8h0M316.4 485.3h0M292.9 515.5h0M299.7 507.0h0M294.6 513.6h0" stroke-width="1.4" stroke-opacity="0.45"/><path d="M306.4 488.5h0M288.6 499.3h0M273.4 489.2h0M307.2 479.6h0M304.6 497.8h0M284.3 467.0h0M294.3 484.2h0M284.6 499.8h0M320.8 487.7h0M286.0 470.9h0M275.3 494.4h0M278.8 499.8h0M284.8 506.3h0M299.6 508.6h0M295.2 512.8h0M280.5 490.8h0M290.9 465.3h0M292.3 503.4h0M312.6 484.7h0M312.4 512.6h0M273.8 476.2h0M310.0 504.7h0M286.9 473.1h0M300.5 503.3h0M317.4 494.5h0M309.5 463.6h0M284.8 471.4h0M303.9 504.5h0M280.2 474.4h0M298.9 490.2h0M283.4 470.1h0M296.5 486.0h0M304.6 464.3h0M319.5 495.7h0M309.3 505.1h0M309.6 511.9h0M301.1 467.0h0M291.6 461.5h0M284.5 480.3h0M299.9 506.8h0M298.4 499.9h0M326.0 489.2h0M297.0 482.8h0M320.2 495.0h0M317.8 474.4h0M288.7 493.5h0M301.6 487.3h0M302.8 495.0h0M311.7 490.7h0M316.1 479.5h0M301.9 482.5h0M277.2 486.5h0M283.5 478.4h0" stroke-width="1.4" stroke-opacity="0.7"/><path d="M293.3 491.6h0M284.2 479.4h0M288.2 489.4h0M280.4 488.5h0M294.0 470.4h0M308.4 500.5h0M294.8 478.9h0M278.8 471.0h0M313.2 470.3h0M297.8 482.4h0M294.0 466.3h0M283.5 479.2h0M297.6 471.1h0M307.0 489.8h0M323.1 493.6h0M300.6 469.2h0M323.0 492.6h0M298.1 502.1h0M281.2 506.4h0M278.1 498.1h0M284.3 493.1h0M328.7 481.2h0M292.1 492.5h0M310.4 469.1h0M325.0 503.2h0M284.3 491.9h0M292.8 476.2h0M272.5 490.1h0M271.0 490.7h0M292.3 462.7h0M301.0 462.0h0M298.4 463.4h0M277.7 471.3h0M318.4 473.5h0M304.9 483.3h0M313.6 475.1h0M321.7 499.1h0M322.2 491.0h0M290.5 482.4h0M310.9 485.5h0M302.5 485.6h0M303.8 510.7h0M296.7 513.9h0M290.9 516.0h0M301.3 496.4h0M281.8 467.1h0M277.7 483.5h0M282.8 505.1h0M278.2 506.6h0M282.2 505.6h0M293.9 496.0h0M313.8 468.7h0M314.4 490.7h0M302.2 508.3h0M293.0 502.9h0M297.8 473.3h0" stroke-width="1.4" stroke-opacity="0.95"/><path d="M278.6 471.6h0M292.0 498.4h0M293.1 494.3h0M289.7 475.7h0M295.6 505.4h0" stroke-width="1.9" stroke-opacity="0.45"/><path d="M311.0 488.9h0M313.5 511.6h0M301.4 510.0h0M303.3 459.7h0M303.7 505.9h0M287.9 468.7h0M276.8 495.0h0M317.2 473.8h0M310.4 469.5h0M293.1 499.5h0M294.4 491.8h0M299.4 496.7h0M315.7 474.8h0" stroke-width="1.9" stroke-opacity="0.7"/><path d="M302.6 497.4h0M308.1 460.6h0M298.3 478.2h0M303.6 475.7h0M308.9 480.6h0M313.1 470.6h0M289.8 502.6h0M303.5 510.0h0M323.0 500.8h0M286.5 494.5h0M315.4 472.2h0" stroke-width="1.9" stroke-opacity="0.95"/><path d="M277.1 478.6h0M311.9 506.9h0" stroke-width="2.5" stroke-opacity="0.7"/><path d="M319.2 488.2h0M307.9 478.0h0" stroke-width="2.5" stroke-opacity="0.95"/><path d="M306.6 474.9h0" stroke-width="3.2" stroke-opacity="0.95"/></g>
<circle cx="366.8" cy="488.6" r="31.4" fill="#d5d5d3" stroke="#8a8a8a" stroke-width="0.8"/>
<circle cx="366.8" cy="488.6" r="30.3" fill="none" stroke="#000" stroke-opacity="0.06" stroke-width="1.2"/>
<g stroke="#3b3cc4" stroke-linecap="round" fill="none"><path d="M386.6 486.4h0M357.3 513.1h0" stroke-width="0.7" stroke-opacity="0.45"/><path d="M372.1 502.1h0M393.1 481.5h0M378.1 511.0h0M378.4 482.0h0M358.0 460.9h0" stroke-width="0.7" stroke-opacity="0.7"/><path d="M370.3 492.9h0M341.6 498.5h0" stroke-width="0.7" stroke-opacity="0.95"/><path d="M361.1 501.6h0M377.6 498.5h0M369.2 471.8h0M383.8 473.1h0" stroke-width="1" stroke-opacity="0.45"/><path d="M348.7 469.4h0M376.0 512.2h0M381.1 501.4h0M390.6 506.0h0M385.9 500.7h0M342.2 476.2h0M389.3 474.0h0M359.9 491.0h0M359.8 460.6h0M352.0 493.3h0" stroke-width="1" stroke-opacity="0.7"/><path d="M392.9 483.8h0M364.9 460.0h0M395.0 495.6h0M357.1 483.9h0M341.7 491.4h0M366.7 491.7h0M340.7 498.6h0M352.2 473.8h0M347.4 471.6h0" stroke-width="1" stroke-opacity="0.95"/><path d="M389.2 503.0h0M368.8 491.6h0" stroke-width="1.4" stroke-opacity="0.45"/><path d="M395.7 485.4h0M341.5 498.5h0M342.7 488.6h0M368.7 470.0h0M387.9 499.0h0M370.4 476.7h0M371.3 506.6h0M365.6 515.4h0M341.4 478.6h0M390.6 485.7h0M344.0 501.7h0M353.9 475.7h0M364.3 470.3h0M389.4 492.9h0M380.2 476.1h0M371.0 484.3h0M362.3 489.9h0M370.9 493.6h0M361.5 476.5h0M387.1 490.0h0M364.4 505.8h0" stroke-width="1.4" stroke-opacity="0.7"/><path d="M396.3 488.2h0M386.3 498.6h0M364.8 463.9h0M360.1 468.8h0M373.0 507.0h0M380.5 504.3h0M350.4 471.1h0M380.5 503.1h0" stroke-width="1.4" stroke-opacity="0.95"/><path d="M384.0 477.8h0M353.0 503.0h0M385.7 481.7h0" stroke-width="1.9" stroke-opacity="0.7"/><path d="M381.4 497.5h0M352.2 508.3h0M387.5 500.0h0M370.4 500.3h0M374.1 483.7h0M362.1 462.2h0" stroke-width="1.9" stroke-opacity="0.95"/><path d="M350.8 504.2h0" stroke-width="2.5" stroke-opacity="0.95"/></g>
<circle cx="433.5" cy="488.6" r="31.4" fill="#d5d5d3" stroke="#8a8a8a" stroke-width="0.8"/>
<circle cx="433.5" cy="488.6" r="30.3" fill="none" stroke="#000" stroke-opacity="0.06" stroke-width="1.2"/>
<g stroke="#3b3cc4" stroke-linecap="round" fill="none"><path d="M439.1 479.6h0M427.7 492.1h0" stroke-width="0.7" stroke-opacity="0.45"/><path d="M433.2 460.3h0M449.9 481.5h0M440.2 515.5h0M439.6 492.2h0M421.4 473.2h0" stroke-width="0.7" stroke-opacity="0.7"/><path d="M458.5 498.3h0M431.5 466.5h0M454.5 484.7h0M421.6 503.1h0" stroke-width="0.7" stroke-opacity="0.95"/><path d="M435.7 471.4h0M407.8 482.9h0M422.6 510.5h0M415.7 488.6h0M436.8 510.2h0" stroke-width="1" stroke-opacity="0.45"/><path d="M462.2 486.3h0M457.3 485.0h0M424.6 466.0h0M459.9 493.3h0M448.7 492.2h0M452.5 495.0h0M447.6 513.3h0M445.2 468.0h0M429.7 475.5h0M439.0 466.7h0M410.9 482.6h0M427.8 470.9h0M423.5 500.6h0M418.3 498.7h0M437.8 477.2h0M429.8 501.0h0M421.2 474.8h0M445.3 465.7h0M418.1 473.3h0M416.1 503.9h0M457.9 481.1h0M413.4 488.3h0M438.2 504.7h0M457.7 487.0h0M428.0 515.2h0M443.4 472.2h0M453.1 479.7h0M412.3 468.1h0" stroke-width="1" stroke-opacity="0.7"/><path d="M445.5 504.1h0M431.3 482.3h0M436.9 507.7h0M451.0 501.8h0M428.9 488.5h0M410.3 491.9h0M442.9 481.3h0M423.5 466.1h0M420.7 495.6h0M452.3 469.5h0M445.7 489.6h0M448.4 471.0h0M448.4 482.5h0M429.0 480.3h0M429.3 499.6h0" stroke-width="1" stroke-opacity="0.95"/><path d="M423.7 504.7h0M459.8 499.2h0M416.5 501.4h0" stroke-width="1.4" stroke-opacity="0.45"/><path d="M444.4 501.0h0M418.0 499.8h0M419.7 504.6h0M421.7 492.9h0M436.6 510.1h0M426.1 472.7h0M450.2 505.4h0M437.6 470.0h0M440.1 468.6h0M437.4 516.8h0M434.3 469.4h0M452.6 466.2h0M453.8 503.8h0M411.7 481.8h0M418.2 470.6h0M435.0 510.0h0M421.3 468.8h0M412.7 481.9h0M437.2 485.9h0M431.6 496.9h0" stroke-width="1.4" stroke-opacity="0.7"/><path d="M425.1 467.2h0M429.6 492.0h0M404.8 492.9h0M428.4 516.9h0M434.8 469.5h0M424.1 511.4h0M438.8 516.5h0M444.1 505.8h0M433.5 508.7h0M429.8 498.9h0M414.2 484.1h0M416.6 497.0h0M452.1 504.6h0M434.0 497.3h0M425.0 515.8h0M447.6 489.7h0M416.2 492.4h0M418.4 502.8h0M442.1 499.8h0M455.4 474.8h0M424.1 480.0h0M411.5 485.5h0M454.6 484.0h0M452.2 466.1h0" stroke-width="1.4" stroke-opacity="0.95"/><path d="M434.7 505.5h0M458.3 482.3h0M432.0 510.2h0" stroke-width="1.9" stroke-opacity="0.45"/><path d="M422.3 467.2h0M438.7 473.7h0M412.3 506.4h0M430.1 473.4h0M459.3 486.4h0M427.0 505.0h0M452.9 483.5h0M411.0 507.1h0M444.5 486.9h0M433.8 461.7h0" stroke-width="1.9" stroke-opacity="0.7"/><path d="M456.1 494.4h0M411.7 480.0h0M455.3 473.6h0M423.5 501.8h0M448.6 469.2h0M431.9 493.0h0M441.3 464.3h0M421.3 463.8h0M425.1 475.3h0" stroke-width="1.9" stroke-opacity="0.95"/></g>
<text x="266.5" y="566.3" font-size="11.8" text-anchor="start" fill="#000">Olaparib</text>
<text x="345.3" y="566.3" font-size="11.8" text-anchor="middle" fill="#000">0</text>
<text x="403.4" y="566.3" font-size="11.8" text-anchor="start" fill="#000">25</text>
<text x="423.3" y="566.3" font-size="12.8" text-anchor="start" fill="#000">μM</text>
<text x="311.2" y="602.9" font-size="11.6" text-anchor="end" fill="#000">pcDNA3.1</text>
<text x="311.6" y="669.2" font-size="11.6" text-anchor="end" fill="#000">SPHK1</text>
<circle cx="344.5" cy="599" r="29.4" fill="#d6d6d4" stroke="#8a8a8a" stroke-width="0.8"/>
<circle cx="344.5" cy="599" r="28.3" fill="none" stroke="#000" stroke-opacity="0.06" stroke-width="1.2"/>
<g stroke="#30309a" stroke-linecap="round" fill="none"><path d="M333.9 578.5h0" stroke-width="0.7" stroke-opacity="0.45"/><path d="M321.5 609.5h0M337.3 621.4h0M347.2 615.1h0M357.4 594.0h0" stroke-width="0.7" stroke-opacity="0.7"/><path d="M346.0 618.4h0M332.4 591.2h0M327.5 587.7h0M362.7 591.2h0M361.2 618.8h0M360.1 614.1h0M337.4 585.5h0M354.3 624.0h0M357.4 605.3h0M336.8 584.8h0M349.7 592.5h0" stroke-width="0.7" stroke-opacity="0.95"/><path d="M363.1 606.5h0M326.1 581.6h0M330.2 608.6h0M329.6 586.2h0M354.4 612.8h0M336.7 610.3h0M336.2 614.7h0M349.7 573.6h0" stroke-width="1" stroke-opacity="0.45"/><path d="M343.5 589.1h0M320.6 601.0h0M351.8 613.2h0M365.0 604.1h0M349.3 579.0h0M337.9 593.6h0M343.4 620.1h0M332.9 594.8h0M326.4 588.2h0M338.2 618.0h0M371.4 597.7h0M357.2 577.8h0M338.5 597.9h0M328.9 586.4h0M352.0 611.4h0M355.1 619.6h0M358.1 596.0h0M348.3 603.3h0M328.1 606.9h0M341.7 601.8h0M332.3 585.3h0M365.2 610.0h0M365.5 583.1h0M363.7 614.3h0M340.9 593.4h0M340.7 620.6h0M337.7 595.9h0M339.1 589.1h0M323.7 587.4h0M332.6 576.4h0M343.0 620.6h0M342.2 603.1h0" stroke-width="1" stroke-opacity="0.7"/><path d="M343.6 572.1h0M327.5 581.8h0M332.3 588.8h0M320.2 593.7h0M357.9 607.6h0M342.7 590.6h0M331.5 590.4h0M333.6 590.7h0M336.8 600.2h0M321.7 603.9h0M334.8 583.6h0M332.3 591.0h0M347.4 612.0h0M342.9 611.5h0M327.7 593.1h0M333.2 580.0h0" stroke-width="1" stroke-opacity="0.95"/><path d="M333.1 585.7h0M361.2 607.8h0M370.3 603.8h0M357.5 619.4h0M344.9 614.3h0M335.2 582.6h0M330.5 603.5h0" stroke-width="1.4" stroke-opacity="0.45"/><path d="M339.6 624.6h0M334.6 615.8h0M362.8 591.1h0M337.7 605.2h0M330.7 579.9h0M337.1 587.7h0M332.6 618.2h0M343.7 590.4h0M329.5 576.6h0M338.6 576.7h0M342.7 601.6h0M346.9 579.8h0M339.7 619.0h0M340.4 575.6h0M324.2 613.2h0M366.9 604.6h0M344.1 596.9h0M346.1 598.7h0M345.7 618.9h0M332.0 603.7h0M335.4 595.8h0M355.3 612.1h0M335.8 605.3h0M345.0 607.9h0M329.3 619.0h0M328.3 594.4h0M341.9 598.9h0M348.0 574.0h0M337.7 600.0h0M339.3 593.1h0M364.9 615.4h0M333.9 595.5h0M360.0 576.3h0M356.9 602.7h0M322.1 597.4h0M328.8 592.3h0M328.3 615.5h0M349.8 585.7h0M349.9 615.3h0M340.1 605.9h0M345.9 613.0h0M342.9 607.2h0M357.1 600.2h0M350.8 608.8h0M351.2 624.5h0" stroke-width="1.4" stroke-opacity="0.7"/><path d="M360.1 619.5h0M349.7 606.0h0M336.1 588.0h0M362.6 594.1h0M337.4 583.1h0M328.5 591.2h0M361.4 608.0h0M362.9 597.4h0M341.8 597.9h0M338.0 610.3h0M365.0 606.2h0M337.3 594.7h0M361.0 615.5h0M321.7 590.2h0M349.6 611.6h0M360.2 603.3h0M327.4 584.9h0M357.4 609.6h0M353.8 617.6h0M329.9 620.5h0M338.0 596.4h0M352.3 611.5h0M350.4 624.5h0M338.0 592.9h0M370.2 590.3h0M355.6 576.6h0M337.5 621.6h0M351.6 607.7h0M336.9 589.9h0M355.7 579.0h0M338.3 592.5h0M340.5 608.0h0M340.6 595.0h0M339.3 614.2h0M344.9 590.6h0M332.2 589.4h0M331.6 609.7h0M347.2 607.0h0M367.7 606.1h0M352.4 588.0h0M352.5 609.1h0M321.6 608.1h0M342.8 614.6h0M332.5 586.5h0M334.1 589.3h0M337.1 572.9h0M353.1 612.1h0M371.6 601.6h0M351.6 575.7h0" stroke-width="1.4" stroke-opacity="0.95"/><path d="M328.9 590.5h0M352.0 614.3h0M338.9 591.4h0" stroke-width="1.9" stroke-opacity="0.45"/><path d="M335.8 586.5h0M340.4 619.6h0M352.1 613.1h0M358.5 609.0h0M335.2 596.5h0M366.7 598.3h0M352.1 611.6h0M327.6 601.4h0M337.2 617.5h0M334.3 611.3h0M319.7 602.3h0M337.1 605.6h0" stroke-width="1.9" stroke-opacity="0.7"/><path d="M328.7 590.1h0M324.0 585.0h0M357.7 604.0h0M328.8 600.4h0M348.1 604.5h0M319.7 594.8h0M338.1 596.1h0M367.5 597.7h0M347.1 598.5h0M344.5 572.0h0M331.9 606.8h0M350.3 600.9h0M325.3 616.4h0M339.3 592.9h0M348.3 594.0h0M364.7 615.2h0M349.0 624.2h0M340.6 587.8h0M350.0 602.1h0M341.6 594.1h0M349.1 602.0h0M368.9 592.2h0M354.2 616.2h0" stroke-width="1.9" stroke-opacity="0.95"/><path d="M329.0 602.2h0M324.1 590.7h0M368.5 596.7h0" stroke-width="2.5" stroke-opacity="0.7"/><path d="M341.2 609.9h0M349.4 612.9h0M330.8 590.1h0M347.0 591.6h0" stroke-width="2.5" stroke-opacity="0.95"/><path d="M326.3 609.9h0M351.8 594.4h0" stroke-width="3.2" stroke-opacity="0.7"/><path d="M330.3 591.7h0M361.4 579.6h0M333.6 582.4h0M350.0 619.2h0M349.6 610.9h0M344.1 598.6h0M341.6 590.2h0M337.1 603.6h0M325.3 606.0h0" stroke-width="3.2" stroke-opacity="0.95"/><path d="M326.2 609.9h0M354.7 597.1h0M357.1 621.4h0M333.4 592.0h0M354.1 610.2h0" stroke-width="4" stroke-opacity="0.7"/><path d="M328.4 614.7h0M337.5 585.4h0" stroke-width="4" stroke-opacity="0.95"/><path d="M327.2 613.6h0M331.5 585.9h0M328.7 600.9h0M327.0 613.0h0" stroke-width="5" stroke-opacity="0.95"/></g>
<circle cx="410.7" cy="599" r="29.9" fill="#d6d6d4" stroke="#8a8a8a" stroke-width="0.8"/>
<circle cx="410.7" cy="599" r="28.8" fill="none" stroke="#000" stroke-opacity="0.06" stroke-width="1.2"/>
<g stroke="#30309a" stroke-linecap="round" fill="none"><path d="M400.8 599.8h0M398.6 610.6h0M392.2 589.5h0M414.7 583.1h0" stroke-width="0.7" stroke-opacity="0.45"/><path d="M411.5 598.0h0M429.8 617.7h0M397.7 592.1h0M388.0 596.4h0M406.2 598.2h0" stroke-width="0.7" stroke-opacity="0.7"/><path d="M387.9 608.3h0M405.4 593.0h0M404.7 614.7h0" stroke-width="0.7" stroke-opacity="0.95"/><path d="M399.6 603.3h0M409.8 597.8h0M417.3 582.5h0M412.9 613.8h0M424.3 614.5h0M385.8 605.2h0M423.5 596.4h0" stroke-width="1" stroke-opacity="0.45"/><path d="M397.4 614.0h0M410.3 579.4h0M410.1 589.5h0M416.6 586.5h0M403.9 615.7h0M411.3 597.6h0M408.9 626.4h0M395.7 576.6h0M393.7 595.3h0M399.7 607.1h0M423.1 584.1h0M419.1 605.5h0M399.8 623.7h0M390.8 603.6h0M386.7 601.2h0M429.6 619.6h0M396.1 598.7h0M417.2 582.2h0M408.8 599.8h0M400.0 590.3h0M405.1 596.4h0M433.7 585.9h0M406.8 592.1h0M411.7 589.5h0M413.9 621.7h0M406.1 602.2h0M401.0 606.3h0M418.7 614.8h0" stroke-width="1" stroke-opacity="0.7"/><path d="M415.2 625.3h0M393.1 602.1h0M403.6 594.1h0M400.1 623.7h0M390.9 607.1h0M393.6 610.2h0M434.9 595.0h0M420.1 622.5h0M398.0 602.4h0M406.3 599.2h0M413.3 616.3h0M410.9 581.8h0M403.0 600.8h0M419.4 609.2h0M414.9 605.7h0M398.4 594.2h0M396.2 605.2h0M435.4 593.1h0M409.3 595.0h0M408.9 586.2h0M429.1 585.2h0M409.2 597.9h0M402.3 600.9h0M400.4 590.2h0M407.2 606.3h0M407.3 591.2h0" stroke-width="1" stroke-opacity="0.95"/><path d="M403.1 621.0h0M404.8 579.2h0M416.3 595.2h0M425.0 586.2h0M391.0 602.7h0M433.0 610.3h0M392.9 597.7h0M425.6 602.5h0M398.9 594.4h0M392.3 610.0h0M400.1 612.6h0M403.4 594.9h0" stroke-width="1.4" stroke-opacity="0.45"/><path d="M403.3 591.0h0M402.6 580.1h0M406.8 610.6h0M418.8 612.4h0M389.7 584.6h0M394.4 613.5h0M392.0 604.2h0M426.3 621.4h0M436.3 589.9h0M422.0 594.2h0M406.5 617.7h0M391.5 602.4h0M399.7 576.6h0M416.3 606.3h0M434.0 605.4h0M388.4 615.2h0M424.6 582.5h0M397.5 598.1h0M396.8 576.1h0M420.5 593.5h0M411.5 610.6h0M406.9 600.2h0M417.3 612.0h0M396.1 603.8h0M422.4 606.6h0M417.9 599.1h0M420.2 590.3h0M387.8 613.4h0M400.7 592.2h0M404.0 605.7h0M397.5 603.6h0M417.2 616.2h0M415.7 609.4h0" stroke-width="1.4" stroke-opacity="0.7"/><path d="M403.0 591.2h0M413.8 593.6h0M409.2 611.5h0M424.3 611.3h0M428.6 619.8h0M414.3 624.9h0M420.1 580.2h0M404.7 590.1h0M388.5 588.3h0M398.1 602.2h0M427.5 599.0h0M412.6 608.0h0M402.3 624.9h0M415.9 605.4h0M415.9 583.0h0M419.4 586.8h0M406.8 584.3h0M396.1 603.4h0M410.0 573.6h0M429.7 602.3h0M410.1 621.6h0M393.3 597.9h0M409.8 595.0h0M407.6 576.3h0M414.2 607.6h0M436.1 591.5h0M406.3 612.4h0M402.8 586.4h0M398.4 605.6h0M411.7 582.7h0M400.0 591.8h0M405.4 576.1h0M421.0 585.4h0M412.3 612.3h0M417.9 586.9h0M433.1 589.9h0M406.6 608.7h0M406.3 596.7h0M409.1 591.0h0M411.2 613.9h0M403.8 596.0h0M404.2 592.0h0M417.9 611.0h0M416.9 615.7h0" stroke-width="1.4" stroke-opacity="0.95"/><path d="M413.8 605.2h0M385.3 595.2h0M400.9 596.3h0" stroke-width="1.9" stroke-opacity="0.45"/><path d="M396.0 606.7h0M395.6 603.2h0M399.8 606.2h0M410.1 594.2h0M409.1 621.9h0M406.8 591.6h0M387.7 588.7h0M418.1 609.5h0M409.5 575.6h0M414.9 572.1h0M396.2 594.5h0M404.0 623.9h0M399.8 603.3h0M414.8 610.6h0M384.9 600.9h0" stroke-width="1.9" stroke-opacity="0.7"/><path d="M432.2 613.9h0M411.4 609.1h0M400.8 612.7h0M432.8 588.8h0M401.5 604.5h0M430.8 597.4h0M433.5 584.7h0M418.5 609.5h0M420.8 602.2h0M423.7 619.6h0M398.0 608.2h0M396.4 594.4h0" stroke-width="1.9" stroke-opacity="0.95"/><path d="M423.4 576.6h0M400.6 609.1h0M392.5 605.0h0M401.0 623.7h0" stroke-width="2.5" stroke-opacity="0.7"/><path d="M428.5 590.1h0M399.9 596.7h0M417.3 580.2h0M416.4 604.3h0" stroke-width="2.5" stroke-opacity="0.95"/><path d="M417.2 610.2h0" stroke-width="3.2" stroke-opacity="0.7"/><path d="M402.7 581.9h0M414.9 609.6h0M403.6 587.4h0M408.3 593.1h0M412.6 601.7h0M422.5 597.7h0" stroke-width="3.2" stroke-opacity="0.95"/><path d="M417.3 602.1h0M429.3 586.1h0" stroke-width="4" stroke-opacity="0.7"/><path d="M406.8 590.8h0M427.0 598.8h0M407.5 618.0h0M404.3 580.7h0M408.7 605.9h0M402.0 602.4h0" stroke-width="4" stroke-opacity="0.95"/></g>
<circle cx="344.5" cy="664.7" r="29.9" fill="#b9b9b7" stroke="#8a8a8a" stroke-width="0.8"/>
<circle cx="344.5" cy="664.7" r="28.8" fill="none" stroke="#000" stroke-opacity="0.06" stroke-width="1.2"/>
<g stroke="#30309a" stroke-linecap="round" fill="none"><path d="M339.5 651.4h0M366.4 651.7h0" stroke-width="0.7" stroke-opacity="0.45"/><path d="M345.0 692.0h0M330.0 652.4h0M365.5 651.3h0M333.8 655.8h0M366.9 674.8h0M361.2 685.6h0M349.9 659.0h0" stroke-width="0.7" stroke-opacity="0.7"/><path d="M343.7 649.7h0M350.3 663.8h0M324.9 680.1h0M340.5 692.5h0M360.3 657.4h0M345.1 674.5h0M335.1 654.1h0M364.5 649.9h0M344.3 642.3h0M343.1 661.5h0M321.7 660.0h0M348.9 682.5h0M370.9 656.5h0M324.9 667.4h0" stroke-width="0.7" stroke-opacity="0.95"/><path d="M351.2 658.9h0M335.1 649.4h0M369.2 675.5h0M358.9 680.5h0M346.5 672.2h0M347.5 657.8h0M328.3 676.5h0M350.6 685.0h0M346.2 683.3h0" stroke-width="1" stroke-opacity="0.45"/><path d="M362.0 642.8h0M340.6 650.3h0M362.4 655.6h0M335.8 642.5h0M333.2 684.3h0M367.4 666.9h0M352.4 658.5h0M336.4 641.2h0M318.7 658.9h0M348.9 659.7h0M326.2 655.9h0M362.0 649.3h0M349.1 647.7h0M340.0 657.2h0M336.0 642.7h0M344.4 684.4h0M353.6 639.1h0M340.3 660.5h0M350.0 648.8h0M348.1 657.0h0M345.5 639.4h0M359.8 687.3h0M352.9 661.5h0M321.2 667.4h0M338.8 670.5h0M347.9 662.0h0M340.8 685.8h0M338.9 676.9h0M338.0 654.0h0M358.8 652.8h0M329.4 647.5h0M358.4 686.6h0M333.1 669.0h0M347.0 687.0h0M326.0 673.1h0M331.5 668.0h0M319.5 663.9h0" stroke-width="1" stroke-opacity="0.7"/><path d="M355.0 665.9h0M333.9 663.5h0M325.6 661.1h0M320.2 670.3h0M331.0 656.5h0M368.1 653.7h0M341.9 642.7h0M339.6 670.1h0M341.6 641.6h0M339.6 679.4h0M361.2 647.8h0M346.2 666.5h0M350.6 687.7h0M358.5 657.3h0M369.0 673.3h0M363.7 674.2h0M355.8 653.4h0M331.8 652.5h0M363.8 680.1h0M368.0 656.7h0M335.5 669.4h0M331.2 679.9h0M343.1 646.8h0" stroke-width="1" stroke-opacity="0.95"/><path d="M358.0 655.5h0M365.5 650.9h0M346.7 685.6h0M338.3 652.8h0M358.7 644.6h0M365.3 677.6h0M331.4 670.0h0M327.6 673.5h0M368.2 652.3h0M324.3 651.9h0M353.3 688.7h0M338.8 684.5h0M346.1 655.8h0" stroke-width="1.4" stroke-opacity="0.45"/><path d="M361.0 644.2h0M337.6 668.5h0M319.9 653.2h0M319.2 669.7h0M345.9 680.3h0M355.0 660.9h0M327.2 656.6h0M327.2 648.7h0M331.4 688.1h0M335.4 684.5h0M364.5 680.9h0M326.2 654.8h0M356.8 652.7h0M325.3 667.3h0M326.0 677.3h0M337.9 650.1h0M354.2 659.5h0M353.7 643.0h0M329.7 641.7h0M347.9 640.0h0M346.7 659.4h0M333.8 678.7h0M364.1 647.9h0M321.3 667.3h0M334.7 665.0h0M344.8 647.0h0M317.3 671.6h0M351.4 676.6h0M335.9 683.0h0M318.1 657.3h0M329.9 679.3h0M329.0 681.4h0M318.0 662.1h0M364.7 671.4h0M324.9 684.1h0M325.9 673.9h0M348.3 642.0h0M365.5 678.5h0M340.8 682.6h0M344.0 668.3h0M361.9 655.6h0M334.6 680.1h0M334.2 658.2h0M331.1 665.2h0M370.5 662.5h0M332.7 675.7h0M329.0 683.5h0M334.9 679.2h0M353.3 687.9h0M345.4 663.1h0M352.2 688.8h0M352.1 670.3h0M330.4 673.7h0M355.0 668.8h0M330.7 681.2h0M325.1 680.4h0" stroke-width="1.4" stroke-opacity="0.7"/><path d="M362.8 643.5h0M327.3 665.5h0M355.4 668.9h0M342.9 644.0h0M357.2 683.6h0M347.4 648.6h0M350.9 686.9h0M353.8 657.9h0M362.6 659.3h0M345.8 644.8h0M323.8 679.2h0M333.8 664.6h0M333.9 673.5h0M371.0 659.3h0M324.8 683.3h0M354.7 651.1h0M321.4 652.1h0M369.4 667.5h0M368.9 665.9h0M359.9 681.8h0M369.3 663.9h0M355.0 675.2h0M346.9 661.3h0M343.4 645.7h0M343.2 683.2h0M328.6 662.8h0M350.3 638.0h0M343.3 644.1h0M355.1 662.9h0M331.9 650.6h0M371.6 664.1h0M352.0 665.8h0M335.9 665.0h0M355.2 668.3h0M326.6 658.2h0M321.8 660.1h0M319.3 667.6h0M343.4 688.6h0M355.9 675.9h0M330.2 685.7h0M351.5 644.8h0" stroke-width="1.4" stroke-opacity="0.95"/><path d="M356.2 688.1h0M369.7 656.9h0M333.8 648.9h0M356.4 679.7h0" stroke-width="1.9" stroke-opacity="0.45"/><path d="M332.6 664.5h0M337.0 680.3h0M361.6 686.1h0M329.1 661.9h0M366.3 662.9h0M318.2 662.0h0M347.3 648.0h0M349.5 650.8h0M358.3 646.9h0M321.5 658.5h0M352.0 672.3h0M339.7 691.2h0M341.6 690.3h0M343.4 637.2h0M341.9 636.7h0M323.2 676.2h0" stroke-width="1.9" stroke-opacity="0.7"/><path d="M355.5 642.1h0M327.8 672.2h0M360.7 686.8h0M330.6 643.1h0M333.8 663.7h0M324.3 679.2h0M346.2 679.1h0M363.2 644.9h0M346.9 654.0h0M360.8 663.5h0M323.4 673.9h0M366.9 660.0h0M335.8 656.4h0M339.9 653.1h0" stroke-width="1.9" stroke-opacity="0.95"/><path d="M345.8 674.7h0M337.7 672.5h0" stroke-width="2.5" stroke-opacity="0.7"/><path d="M352.5 658.5h0M335.1 689.8h0M330.6 669.8h0M347.3 681.3h0M352.7 652.5h0M361.9 675.9h0M365.9 678.0h0M325.1 666.5h0M343.6 655.9h0M335.3 691.1h0M350.7 668.7h0" stroke-width="2.5" stroke-opacity="0.95"/><path d="M339.9 655.4h0" stroke-width="3.2" stroke-opacity="0.7"/><path d="M367.7 651.0h0M354.7 667.5h0M361.7 654.6h0M365.9 648.9h0M324.9 655.1h0M343.8 685.0h0M333.2 660.7h0" stroke-width="3.2" stroke-opacity="0.95"/><path d="M334.8 655.2h0M335.0 638.5h0M357.6 658.4h0" stroke-width="4" stroke-opacity="0.7"/><path d="M332.8 681.5h0M346.6 641.2h0M334.0 678.5h0M353.7 658.4h0M341.1 686.3h0M332.6 677.5h0M342.6 687.9h0M337.4 639.9h0M345.2 675.8h0" stroke-width="4" stroke-opacity="0.95"/><path d="M353.1 651.1h0" stroke-width="5" stroke-opacity="0.7"/></g>
<circle cx="410.7" cy="664.7" r="29.9" fill="#b9b9b7" stroke="#8a8a8a" stroke-width="0.8"/>
<circle cx="410.7" cy="664.7" r="28.8" fill="none" stroke="#000" stroke-opacity="0.06" stroke-width="1.2"/>
<g stroke="#30309a" stroke-linecap="round" fill="none"><path d="M395.6 651.8h0M414.2 672.4h0M434.5 657.4h0M417.7 687.7h0M404.1 645.3h0" stroke-width="0.7" stroke-opacity="0.45"/><path d="M405.3 666.1h0M391.0 664.4h0M419.0 642.2h0M409.9 647.5h0M423.2 665.0h0" stroke-width="0.7" stroke-opacity="0.7"/><path d="M404.3 682.7h0M388.2 672.9h0M406.9 663.8h0M408.5 668.3h0M435.7 657.4h0M424.5 652.2h0" stroke-width="0.7" stroke-opacity="0.95"/><path d="M426.1 665.7h0M411.9 673.5h0M401.5 653.9h0M384.1 660.4h0M414.6 682.4h0M386.8 678.4h0M409.6 690.2h0M383.1 665.5h0M433.3 652.5h0M412.9 651.8h0M415.6 672.2h0M427.1 677.6h0" stroke-width="1" stroke-opacity="0.45"/><path d="M415.8 645.0h0M412.7 682.5h0M401.1 649.7h0M423.9 651.7h0M407.0 666.6h0M399.0 643.8h0M421.9 685.6h0M433.2 658.4h0M416.7 645.5h0M423.5 660.4h0M402.4 670.0h0M421.8 679.4h0M422.9 643.4h0M417.9 664.9h0M398.7 654.9h0M414.9 647.5h0M428.2 683.5h0M394.6 647.1h0M416.9 686.1h0M413.3 691.7h0M431.6 652.8h0M431.9 671.8h0M393.9 653.0h0M413.8 668.8h0M411.9 642.2h0M423.7 657.3h0M411.9 646.2h0M397.6 646.4h0M405.2 689.8h0M400.0 674.6h0M399.0 647.1h0M419.7 668.2h0M423.8 664.8h0M423.6 648.1h0M425.6 676.8h0M426.8 682.7h0M424.3 666.4h0" stroke-width="1" stroke-opacity="0.7"/><path d="M413.2 680.1h0M387.1 675.1h0M389.5 676.8h0M434.7 677.9h0M437.7 672.3h0M399.3 654.4h0M422.0 655.8h0M414.6 664.7h0M405.0 658.4h0M433.1 650.6h0M408.7 667.5h0M401.1 680.4h0M405.4 658.0h0M414.2 675.4h0M404.5 684.1h0M398.6 683.0h0M420.2 688.0h0M386.3 664.4h0M392.7 680.0h0M405.9 648.8h0M416.5 657.1h0M410.8 676.1h0M412.8 644.4h0M420.8 661.0h0M416.9 687.5h0" stroke-width="1" stroke-opacity="0.95"/><path d="M397.3 641.3h0M413.8 682.1h0M414.2 662.3h0M419.3 684.9h0M428.4 661.5h0M410.8 670.4h0M413.5 692.0h0M424.9 676.1h0M430.7 673.5h0M394.8 679.7h0M434.8 670.4h0M421.3 669.2h0M406.4 678.7h0M432.5 665.0h0" stroke-width="1.4" stroke-opacity="0.45"/><path d="M429.4 667.9h0M410.3 661.5h0M427.6 655.2h0M400.2 639.6h0M398.0 642.5h0M390.2 664.8h0M413.9 683.4h0M425.4 643.3h0M409.4 637.8h0M395.7 654.7h0M427.8 669.4h0M420.0 656.4h0M402.1 685.0h0M397.5 672.2h0M409.6 673.8h0M395.7 674.6h0M416.7 690.2h0M417.2 669.8h0M399.7 660.2h0M388.8 681.6h0M411.9 680.1h0M411.7 691.7h0M413.2 657.9h0M396.9 686.5h0M403.9 650.2h0M411.7 684.7h0M396.5 679.4h0M411.0 663.9h0M415.9 641.4h0M405.1 690.0h0M387.8 663.3h0M401.1 690.7h0M411.2 644.5h0M394.6 643.5h0M398.0 656.8h0M395.9 682.9h0M413.8 666.3h0M403.7 663.5h0M438.6 663.7h0M419.6 655.9h0" stroke-width="1.4" stroke-opacity="0.7"/><path d="M410.1 649.1h0M410.1 691.3h0M400.2 679.6h0M434.5 657.4h0M406.5 668.3h0M396.8 684.0h0M424.2 683.5h0M427.0 652.7h0M403.9 669.1h0M413.6 640.7h0M424.1 677.0h0M437.8 666.4h0M420.4 640.1h0M387.9 656.9h0M415.3 648.1h0M396.9 663.3h0M408.1 650.9h0M399.7 644.9h0M420.9 660.0h0M396.8 658.1h0M401.9 673.6h0M411.9 692.4h0M405.8 656.1h0M403.7 653.6h0M401.0 656.2h0M401.1 654.8h0M395.1 661.6h0M408.6 670.3h0M387.8 662.4h0M385.9 674.7h0M417.4 642.4h0M394.3 651.2h0M404.2 665.3h0M387.3 659.0h0M395.3 651.6h0M418.5 682.2h0M430.9 645.4h0M405.9 664.1h0M418.4 665.9h0M401.6 689.4h0M386.8 660.2h0M397.4 645.6h0M402.5 642.3h0M434.4 655.5h0M425.4 646.7h0" stroke-width="1.4" stroke-opacity="0.95"/><path d="M432.9 666.0h0M389.9 682.6h0M386.9 661.6h0" stroke-width="1.9" stroke-opacity="0.45"/><path d="M416.2 670.1h0M436.0 664.3h0M420.4 660.3h0M424.3 653.2h0M417.4 653.4h0M437.4 657.4h0M409.3 681.5h0M424.8 681.0h0M426.2 664.4h0M405.2 661.2h0M415.4 691.1h0M410.0 690.8h0M426.8 676.5h0M399.5 655.0h0M415.2 667.2h0M432.8 673.2h0M414.9 650.9h0M392.3 674.0h0" stroke-width="1.9" stroke-opacity="0.7"/><path d="M409.1 670.4h0M414.0 667.4h0M395.6 645.3h0M408.6 673.2h0M402.6 683.1h0M420.3 681.6h0M415.3 677.0h0M420.5 639.3h0M388.1 650.6h0M422.9 664.1h0M418.5 649.2h0M405.2 682.0h0M409.3 660.0h0M400.0 649.7h0M418.8 644.6h0M426.1 647.7h0" stroke-width="1.9" stroke-opacity="0.95"/><path d="M384.9 657.5h0M431.5 665.3h0" stroke-width="2.5" stroke-opacity="0.7"/><path d="M394.9 641.5h0M419.0 661.9h0M402.3 681.3h0M415.5 642.2h0M405.0 685.1h0M407.3 688.6h0M399.0 674.9h0M391.9 644.1h0M402.6 675.2h0" stroke-width="2.5" stroke-opacity="0.95"/><path d="M402.4 652.1h0M402.6 664.5h0" stroke-width="3.2" stroke-opacity="0.7"/><path d="M391.9 658.5h0M384.7 657.1h0" stroke-width="3.2" stroke-opacity="0.95"/><path d="M427.8 643.0h0M429.3 683.3h0M389.7 673.2h0M404.8 659.5h0" stroke-width="4" stroke-opacity="0.7"/><path d="M386.8 663.6h0M403.5 667.1h0M396.8 684.6h0M424.8 673.8h0" stroke-width="4" stroke-opacity="0.95"/><path d="M428.5 668.4h0" stroke-width="5" stroke-opacity="0.95"/></g>
<text x="264.7" y="743.3" font-size="11.8" text-anchor="start" fill="#000">Olaparib</text>
<text x="344.4" y="743.3" font-size="11.8" text-anchor="middle" fill="#000">0</text>
<text x="401.5" y="743.3" font-size="11.8" text-anchor="start" fill="#000">25</text>
<text x="421.3" y="743.3" font-size="12.8" text-anchor="start" fill="#000">μM</text>
<text x="309.8" y="778.6" font-size="11.6" text-anchor="end" fill="#000">pcDNA3.1</text>
<text x="309.6" y="845.2" font-size="11.6" text-anchor="end" fill="#000">SPHK1</text>
<circle cx="342.6" cy="778.2" r="29.9" fill="#d0d0ce" stroke="#8a8a8a" stroke-width="0.8"/>
<circle cx="342.6" cy="778.2" r="28.8" fill="none" stroke="#000" stroke-opacity="0.06" stroke-width="1.2"/>
<g stroke="#30309a" stroke-linecap="round" fill="none"><path d="M358.0 757.3h0" stroke-width="0.7" stroke-opacity="0.45"/><path d="M346.8 758.1h0M345.5 787.9h0M352.7 771.1h0M344.8 760.4h0M357.6 772.0h0M343.7 784.7h0M345.8 792.2h0M346.3 770.2h0M344.5 781.4h0M352.0 783.3h0M328.6 761.8h0M341.0 769.7h0" stroke-width="0.7" stroke-opacity="0.7"/><path d="M350.8 801.4h0M342.4 767.9h0M332.3 799.4h0M357.2 760.9h0M348.8 791.8h0" stroke-width="0.7" stroke-opacity="0.95"/><path d="M348.1 783.1h0M348.0 781.0h0M318.1 771.3h0M356.1 791.5h0M341.4 779.9h0M355.3 777.7h0M321.3 781.9h0M315.8 776.0h0M354.2 771.8h0M330.5 758.9h0M343.2 792.9h0" stroke-width="1" stroke-opacity="0.45"/><path d="M359.8 781.1h0M333.4 789.4h0M340.2 762.0h0M337.1 772.6h0M364.2 771.7h0M325.6 767.2h0M330.8 775.2h0M346.4 769.2h0M321.5 761.9h0M355.1 783.7h0M360.9 770.8h0M347.6 768.1h0M326.4 785.1h0M346.1 782.8h0M352.9 785.6h0M360.0 779.1h0M339.6 786.6h0M339.3 785.9h0M359.4 765.0h0M361.5 775.2h0M348.5 788.6h0M336.0 757.9h0M359.6 789.4h0M360.0 777.0h0M326.2 785.3h0M353.6 763.3h0M353.2 772.6h0M344.1 785.8h0M324.9 780.8h0M356.0 801.8h0M340.7 781.2h0" stroke-width="1" stroke-opacity="0.7"/><path d="M332.0 801.8h0M366.0 787.8h0M360.6 771.1h0M354.1 782.4h0M331.1 784.1h0M360.8 770.5h0M361.3 796.5h0M345.0 753.2h0M315.3 782.3h0M339.0 765.6h0M345.6 795.2h0M345.1 792.7h0M356.0 772.6h0M328.9 755.1h0M360.7 782.0h0M332.7 755.0h0M356.9 783.1h0M349.3 773.6h0M332.9 773.1h0M333.4 766.4h0M350.2 765.1h0M341.2 788.7h0M368.5 769.2h0M363.6 767.5h0M356.4 771.6h0M356.6 763.6h0M336.7 767.5h0M347.1 761.6h0" stroke-width="1" stroke-opacity="0.95"/><path d="M341.9 780.2h0M358.1 785.3h0M351.4 777.8h0M342.6 761.8h0M322.8 772.2h0M353.9 765.2h0M342.3 783.9h0M338.6 794.0h0M344.7 775.0h0M331.2 754.5h0M347.1 771.4h0M355.7 770.9h0M343.8 787.6h0M354.1 785.2h0M348.4 802.2h0M348.4 790.6h0" stroke-width="1.4" stroke-opacity="0.45"/><path d="M347.2 791.7h0M346.2 754.9h0M335.6 754.6h0M357.2 762.5h0M324.6 763.3h0M355.6 762.6h0M363.4 762.9h0M356.9 783.4h0M361.0 785.1h0M332.9 759.2h0M353.7 767.5h0M330.7 792.2h0M347.5 768.5h0M344.6 797.1h0M367.4 773.0h0M356.6 783.5h0M364.8 782.8h0M347.7 805.3h0M355.3 770.5h0M334.0 783.2h0M342.5 793.7h0M347.5 779.9h0M358.0 770.0h0M320.3 779.8h0M335.0 769.4h0M321.5 791.6h0M338.6 783.5h0M356.7 775.7h0M356.8 755.8h0M348.5 790.8h0M339.3 787.0h0M358.5 767.6h0M347.2 775.5h0M344.9 786.7h0M339.8 778.1h0M346.6 752.2h0M327.1 796.2h0M336.9 781.6h0M328.6 754.7h0M347.1 753.4h0M361.1 775.4h0M327.1 791.3h0M349.0 766.5h0M318.4 789.7h0M321.8 788.2h0M332.6 796.5h0M360.8 780.6h0" stroke-width="1.4" stroke-opacity="0.7"/><path d="M358.3 770.9h0M356.4 767.9h0M350.9 787.5h0M332.1 784.4h0M336.7 778.2h0M320.6 783.7h0M355.4 787.9h0M332.4 757.4h0M343.3 791.0h0M343.0 773.9h0M336.2 791.1h0M334.4 788.1h0M325.1 782.7h0M335.0 797.5h0M338.3 787.6h0M323.0 762.4h0M354.3 771.0h0M329.9 785.0h0M358.9 773.8h0M327.4 788.3h0M346.0 768.6h0M352.1 766.2h0M338.0 758.7h0M347.4 773.5h0M346.1 782.1h0M321.7 783.0h0M366.2 774.3h0M336.4 754.8h0M348.6 789.1h0M353.5 775.7h0M338.8 786.7h0M324.6 782.4h0M360.2 780.3h0M324.3 796.8h0M360.0 772.0h0M359.5 786.9h0M318.1 768.0h0M358.0 794.2h0M320.5 768.7h0M351.3 783.7h0M328.4 765.8h0M344.1 764.8h0M348.7 774.6h0M356.1 768.3h0M335.3 783.4h0M356.3 772.0h0M346.6 770.6h0M348.9 776.0h0" stroke-width="1.4" stroke-opacity="0.95"/><path d="M355.6 793.4h0M347.5 782.8h0" stroke-width="1.9" stroke-opacity="0.45"/><path d="M347.9 772.2h0M344.5 786.7h0M354.3 753.1h0M336.1 777.4h0M350.9 784.9h0M348.3 788.4h0M319.5 793.6h0M331.8 800.6h0M349.6 800.9h0M364.2 767.2h0M342.4 778.2h0M339.8 785.9h0M334.5 791.0h0M348.3 799.5h0M341.3 784.2h0M344.5 781.9h0M355.3 766.3h0M329.1 784.2h0M364.5 777.7h0M329.0 757.5h0" stroke-width="1.9" stroke-opacity="0.7"/><path d="M356.7 790.6h0M354.9 786.8h0M335.2 775.4h0M344.2 764.3h0M342.9 787.7h0M330.1 772.6h0M349.5 771.6h0M334.8 769.1h0M327.0 797.1h0M352.4 803.9h0M340.8 761.7h0M338.2 780.0h0M334.9 776.2h0M353.9 755.0h0M345.7 764.8h0M343.9 784.1h0M332.4 798.3h0" stroke-width="1.9" stroke-opacity="0.95"/><path d="M346.7 789.4h0" stroke-width="2.5" stroke-opacity="0.7"/><path d="M344.6 780.1h0M351.4 788.4h0M350.7 782.6h0M355.0 765.4h0M348.7 796.4h0" stroke-width="2.5" stroke-opacity="0.95"/><path d="M369.5 778.8h0" stroke-width="3.2" stroke-opacity="0.7"/><path d="M338.0 800.7h0M341.6 774.9h0" stroke-width="3.2" stroke-opacity="0.95"/><path d="M351.8 783.4h0M343.5 768.4h0" stroke-width="4" stroke-opacity="0.7"/><path d="M358.1 794.8h0M359.1 778.2h0M353.5 775.9h0" stroke-width="4" stroke-opacity="0.95"/><path d="M347.6 753.3h0" stroke-width="5" stroke-opacity="0.7"/><path d="M342.6 788.7h0M359.1 771.5h0" stroke-width="5" stroke-opacity="0.95"/></g>
<circle cx="408.9" cy="778.2" r="30.4" fill="#d0d0ce" stroke="#8a8a8a" stroke-width="0.8"/>
<circle cx="408.9" cy="778.2" r="29.3" fill="none" stroke="#000" stroke-opacity="0.06" stroke-width="1.2"/>
<g stroke="#30309a" stroke-linecap="round" fill="none"><path d="M399.8 795.2h0M398.9 783.6h0" stroke-width="0.7" stroke-opacity="0.45"/><path d="M434.0 776.5h0M425.6 795.8h0M385.2 774.3h0M403.5 775.0h0M412.9 778.4h0M392.8 784.0h0M399.7 770.7h0M402.6 761.7h0M397.6 795.1h0M426.2 760.3h0" stroke-width="0.7" stroke-opacity="0.7"/><path d="M409.1 780.7h0M402.1 766.3h0M395.4 762.6h0M402.2 795.9h0M400.6 766.8h0" stroke-width="0.7" stroke-opacity="0.95"/><path d="M411.0 766.9h0M417.3 774.1h0M409.0 781.8h0M399.7 770.9h0M421.0 762.1h0M421.8 780.4h0M421.3 779.1h0" stroke-width="1" stroke-opacity="0.45"/><path d="M415.1 752.3h0M419.8 752.6h0M417.1 789.6h0M412.0 803.0h0M403.3 775.7h0M387.4 760.4h0M407.1 788.2h0M406.4 768.4h0M406.3 779.4h0M397.4 766.4h0M407.8 779.1h0M407.3 777.9h0M431.2 767.1h0M407.7 804.5h0M411.1 765.2h0M420.0 752.4h0M433.1 782.3h0M433.1 787.4h0M421.2 782.1h0M386.1 770.9h0" stroke-width="1" stroke-opacity="0.7"/><path d="M407.6 792.5h0M406.4 773.0h0M411.0 775.1h0M399.4 759.1h0M403.2 780.8h0M397.9 786.6h0M396.0 782.3h0M427.1 770.7h0M404.0 787.7h0M429.9 789.4h0M437.0 778.4h0M408.1 782.9h0M394.9 782.7h0M406.2 764.5h0M423.6 793.2h0M405.0 768.4h0M412.1 777.2h0M412.4 781.8h0M400.0 790.5h0M426.8 796.5h0M395.6 767.5h0M416.0 778.1h0M392.9 782.9h0M404.5 769.8h0" stroke-width="1" stroke-opacity="0.95"/><path d="M391.8 791.7h0M403.9 771.4h0M408.6 768.2h0M430.1 779.4h0M419.0 791.4h0M390.4 760.1h0M431.5 767.4h0M431.2 792.8h0M414.5 779.4h0M399.2 785.8h0M400.7 791.6h0" stroke-width="1.4" stroke-opacity="0.45"/><path d="M413.4 802.2h0M397.9 789.0h0M398.1 761.8h0M410.6 776.8h0M406.2 796.8h0M421.8 786.3h0M409.6 772.2h0M410.4 785.9h0M408.7 764.9h0M416.2 755.6h0M408.9 786.5h0M410.1 784.6h0M396.4 791.8h0M400.3 790.8h0M415.3 760.8h0M404.7 769.1h0M409.9 799.6h0M407.0 768.0h0M436.3 781.0h0M389.7 796.1h0M434.4 777.7h0M414.0 767.4h0M413.7 784.9h0M385.6 778.8h0M425.2 759.3h0M423.9 785.1h0M397.7 754.4h0M405.6 788.9h0M415.5 781.0h0M424.1 787.4h0M413.0 773.6h0M404.3 795.9h0M405.2 785.7h0M424.1 759.8h0M422.8 759.1h0M401.1 798.9h0M403.6 805.1h0M406.8 801.1h0M397.5 777.3h0M396.8 791.6h0M416.3 761.6h0M427.5 796.0h0M408.1 765.7h0M404.9 770.1h0M402.5 765.5h0M426.7 781.5h0" stroke-width="1.4" stroke-opacity="0.7"/><path d="M412.0 781.0h0M413.3 792.1h0M388.0 760.6h0M423.9 767.1h0M402.4 777.7h0M421.8 753.8h0M410.5 772.7h0M398.4 775.1h0M411.6 781.4h0M402.7 794.8h0M396.4 778.9h0M416.9 768.2h0M404.8 779.3h0M406.7 776.4h0M420.6 781.7h0M387.7 783.4h0M413.9 794.5h0M414.0 779.0h0M395.9 760.5h0M435.2 769.8h0M424.3 775.6h0M400.1 782.3h0M406.6 793.4h0M395.7 778.1h0M413.9 755.7h0M430.5 778.5h0M417.6 752.9h0M396.6 768.4h0M397.6 788.4h0M407.6 775.6h0M422.2 782.2h0M383.9 784.9h0M397.6 778.0h0M382.2 779.0h0M430.1 777.8h0M390.0 762.8h0" stroke-width="1.4" stroke-opacity="0.95"/><path d="M384.4 769.1h0M395.9 767.2h0" stroke-width="1.9" stroke-opacity="0.45"/><path d="M402.2 788.3h0M411.7 776.0h0M414.2 778.9h0M426.0 761.3h0M418.8 791.7h0M394.9 794.4h0M415.6 789.9h0M410.0 778.3h0M410.6 771.3h0M402.5 753.9h0M436.0 785.7h0M398.2 779.4h0M424.5 786.5h0M428.2 798.5h0" stroke-width="1.9" stroke-opacity="0.7"/><path d="M408.9 786.9h0M402.2 759.5h0M404.1 786.8h0M415.4 801.7h0M403.8 792.2h0M404.9 750.1h0M381.2 771.9h0M391.5 783.9h0M423.1 761.0h0M418.9 793.4h0M402.8 762.6h0M400.0 778.0h0M427.3 762.3h0M424.2 757.2h0M399.3 764.2h0" stroke-width="1.9" stroke-opacity="0.95"/><path d="M380.7 782.9h0M390.2 799.6h0M392.2 782.5h0M431.9 770.9h0" stroke-width="2.5" stroke-opacity="0.7"/><path d="M402.1 784.1h0M392.5 775.5h0M399.1 764.9h0M397.8 764.5h0M398.4 767.1h0M407.3 750.4h0" stroke-width="2.5" stroke-opacity="0.95"/><path d="M409.3 775.5h0" stroke-width="3.2" stroke-opacity="0.7"/><path d="M402.7 781.0h0M406.0 770.7h0M414.7 799.2h0" stroke-width="3.2" stroke-opacity="0.95"/><path d="M411.1 779.0h0M392.1 777.8h0M396.6 773.4h0M400.9 790.1h0" stroke-width="4" stroke-opacity="0.95"/></g>
<circle cx="342.6" cy="842.6" r="30.4" fill="#c7c7c5" stroke="#8a8a8a" stroke-width="0.8"/>
<circle cx="342.6" cy="842.6" r="29.3" fill="none" stroke="#000" stroke-opacity="0.06" stroke-width="1.2"/>
<g stroke="#30309a" stroke-linecap="round" fill="none"><path d="M338.3 833.9h0M324.2 846.1h0" stroke-width="0.7" stroke-opacity="0.45"/><path d="M354.4 864.5h0M350.3 842.1h0M346.7 835.4h0M341.5 841.9h0M348.0 846.1h0M332.9 831.9h0M335.1 820.7h0M339.3 856.8h0" stroke-width="0.7" stroke-opacity="0.7"/><path d="M326.1 853.6h0M345.5 814.5h0M344.5 832.1h0M367.9 846.5h0" stroke-width="0.7" stroke-opacity="0.95"/><path d="M344.3 850.3h0M330.7 830.7h0M355.6 823.2h0M351.3 841.5h0M340.1 859.0h0M347.2 860.4h0M360.6 837.3h0M340.1 842.4h0M360.0 822.8h0M336.9 851.1h0M357.2 858.3h0M342.6 817.0h0M335.6 828.5h0M349.0 857.0h0" stroke-width="1" stroke-opacity="0.45"/><path d="M322.8 824.5h0M361.9 843.4h0M335.4 834.5h0M338.9 838.3h0M337.5 855.3h0M341.3 862.1h0M352.4 835.2h0M327.1 831.8h0M327.2 843.8h0M353.0 836.5h0M340.4 868.5h0M315.9 839.2h0M335.8 842.6h0M354.4 835.0h0M329.1 859.3h0M341.9 821.2h0M330.4 856.3h0M320.7 827.0h0M338.5 844.6h0M354.2 867.9h0M340.8 840.0h0M337.6 820.0h0M344.2 854.5h0M347.8 852.2h0M344.7 841.7h0M347.8 854.3h0M345.6 814.9h0M339.8 831.0h0M347.3 827.1h0M343.6 844.0h0M340.7 822.7h0M344.8 833.7h0M357.5 829.2h0M329.3 840.1h0" stroke-width="1" stroke-opacity="0.7"/><path d="M334.4 849.4h0M342.7 847.2h0M317.9 851.5h0M333.6 850.8h0M365.2 849.4h0M345.8 864.1h0M346.5 848.2h0M335.7 843.6h0M327.9 856.2h0M346.3 845.7h0M335.7 822.8h0M352.9 849.3h0M356.1 844.3h0M342.9 826.7h0M333.0 854.3h0M362.2 859.7h0M319.5 844.2h0M352.0 863.8h0M344.3 817.5h0M357.1 850.4h0M346.6 833.3h0M331.1 832.4h0M336.9 845.5h0M347.4 847.9h0M329.5 830.6h0M338.8 864.1h0M340.4 869.5h0M358.4 863.5h0M353.2 840.9h0" stroke-width="1" stroke-opacity="0.95"/><path d="M322.0 847.0h0M327.3 819.3h0M344.4 814.4h0M348.7 836.6h0M320.9 856.1h0M354.7 853.6h0M358.3 822.4h0M345.4 847.2h0M342.5 851.0h0M353.6 832.9h0M325.0 821.9h0M338.8 853.8h0M349.4 863.3h0" stroke-width="1.4" stroke-opacity="0.45"/><path d="M354.1 855.7h0M348.3 861.3h0M353.2 838.9h0M332.5 855.1h0M319.9 834.5h0M322.8 840.0h0M345.0 861.8h0M337.4 828.4h0M357.2 825.4h0M343.0 826.5h0M351.3 854.8h0M328.1 862.2h0M334.1 856.6h0M361.3 829.6h0M320.4 855.1h0M357.3 824.0h0M359.0 863.3h0M365.1 842.4h0M365.0 841.0h0M335.0 845.8h0M319.7 828.0h0M341.6 860.6h0M340.0 855.1h0M346.7 841.0h0M341.2 846.5h0M331.8 836.2h0M346.0 850.5h0M338.2 862.3h0M358.9 859.2h0M352.7 834.9h0M337.4 826.4h0M338.3 828.1h0M347.2 856.0h0M337.8 862.4h0M356.8 849.4h0M323.8 853.1h0M338.4 833.9h0M350.6 852.6h0M358.1 854.6h0M343.9 859.3h0M347.5 864.4h0M357.9 841.0h0M369.6 836.1h0M366.3 842.9h0M342.0 848.2h0M324.4 864.0h0M331.2 865.6h0M345.4 821.8h0M349.0 840.9h0M346.4 843.7h0M365.0 851.0h0M343.1 862.6h0M347.6 845.9h0M359.6 851.7h0M333.7 835.9h0M337.8 832.2h0M351.4 818.7h0M336.2 855.0h0M330.8 817.5h0" stroke-width="1.4" stroke-opacity="0.7"/><path d="M334.1 829.5h0M355.8 838.7h0M325.2 842.6h0M337.5 832.8h0M351.5 854.9h0M342.1 821.8h0M337.8 854.1h0M343.4 860.7h0M347.0 845.8h0M344.3 838.4h0M341.3 858.4h0M359.5 829.4h0M333.3 829.9h0M353.0 843.5h0M360.3 852.2h0M329.8 845.6h0M326.3 836.9h0M362.6 859.4h0M345.6 855.0h0M342.7 861.5h0M336.1 824.4h0M335.9 859.1h0M336.2 842.7h0M356.6 846.4h0M329.5 831.0h0M351.2 829.5h0M340.1 835.5h0M357.8 841.7h0M348.0 839.7h0M355.8 839.1h0M348.9 841.1h0M335.1 845.8h0M333.6 836.9h0M337.8 854.0h0M338.9 867.3h0M350.4 828.1h0M355.8 827.9h0M332.8 854.6h0M342.6 836.5h0M359.1 832.8h0M338.2 843.8h0M316.0 849.0h0M321.6 833.4h0M347.1 821.0h0M349.5 849.8h0M350.1 815.2h0M338.8 844.8h0M331.9 833.1h0M348.2 826.1h0M367.7 850.4h0M337.3 854.0h0M325.5 828.6h0M345.3 843.4h0M339.5 835.1h0M353.9 829.0h0M344.5 852.1h0M342.7 836.8h0M335.1 828.4h0M333.4 838.8h0" stroke-width="1.4" stroke-opacity="0.95"/><path d="M343.4 851.0h0M324.7 855.3h0M343.9 834.2h0M336.7 840.7h0M356.6 818.5h0" stroke-width="1.9" stroke-opacity="0.45"/><path d="M352.0 831.3h0M322.6 832.1h0M359.8 853.8h0M328.5 864.9h0M341.9 855.7h0M340.7 836.1h0M341.9 815.5h0M366.0 830.0h0M345.9 837.4h0M354.0 857.4h0M366.3 839.0h0M317.9 835.2h0M350.4 841.6h0M340.3 840.2h0" stroke-width="1.9" stroke-opacity="0.7"/><path d="M328.5 858.4h0M336.5 830.8h0M329.1 867.3h0M332.8 829.5h0M349.9 850.0h0M340.9 860.8h0M348.3 832.7h0M325.7 833.3h0M343.9 824.6h0M345.8 839.2h0M352.4 845.7h0M348.8 830.6h0M353.1 854.1h0M363.0 855.9h0M367.8 840.0h0M351.0 849.0h0M342.2 861.8h0M352.2 842.5h0M339.8 841.2h0M335.9 836.7h0" stroke-width="1.9" stroke-opacity="0.95"/><path d="M330.0 823.8h0M350.9 851.3h0M342.2 848.2h0M369.5 839.4h0" stroke-width="2.5" stroke-opacity="0.7"/><path d="M341.5 863.9h0M324.6 845.0h0M330.9 827.7h0M353.0 829.3h0M345.6 837.5h0" stroke-width="2.5" stroke-opacity="0.95"/><path d="M345.8 853.1h0" stroke-width="3.2" stroke-opacity="0.7"/><path d="M335.0 867.3h0M344.3 854.5h0M343.8 861.9h0M353.0 825.9h0M359.7 854.0h0M344.4 851.8h0" stroke-width="3.2" stroke-opacity="0.95"/><path d="M356.6 859.4h0" stroke-width="4" stroke-opacity="0.7"/><path d="M349.6 841.3h0M331.1 839.8h0M343.9 848.0h0M342.2 858.6h0M345.2 850.9h0M336.9 851.0h0M316.1 833.4h0" stroke-width="4" stroke-opacity="0.95"/><path d="M343.2 828.0h0M348.8 818.5h0M356.4 860.2h0M342.2 845.8h0M352.3 841.9h0" stroke-width="5" stroke-opacity="0.95"/></g>
<circle cx="408.9" cy="842.6" r="30.4" fill="#c5c5c3" stroke="#8a8a8a" stroke-width="0.8"/>
<circle cx="408.9" cy="842.6" r="29.3" fill="none" stroke="#000" stroke-opacity="0.06" stroke-width="1.2"/>
<g stroke="#30309a" stroke-linecap="round" fill="none"><path d="M400.7 843.0h0M408.6 841.2h0M391.6 849.3h0M418.1 848.0h0" stroke-width="0.7" stroke-opacity="0.45"/><path d="M433.1 827.6h0M409.7 839.0h0M408.4 865.7h0M391.4 844.5h0M390.8 851.3h0" stroke-width="0.7" stroke-opacity="0.7"/><path d="M402.7 848.8h0M429.1 851.5h0M398.8 821.4h0M412.6 864.9h0M407.7 838.3h0M418.1 853.2h0" stroke-width="0.7" stroke-opacity="0.95"/><path d="M420.4 867.9h0M402.4 861.0h0M404.6 861.7h0M400.1 859.8h0M384.1 849.1h0M392.6 854.0h0M413.4 817.8h0M400.6 863.4h0M425.0 848.0h0M383.2 842.9h0M406.0 849.7h0M387.9 834.1h0M392.1 852.2h0M387.7 856.6h0M424.7 859.7h0M417.6 824.2h0M425.9 848.2h0" stroke-width="1" stroke-opacity="0.45"/><path d="M397.2 867.9h0M409.4 836.0h0M405.0 849.3h0M422.0 851.3h0M432.8 848.9h0M413.9 846.1h0M415.8 845.8h0M417.6 862.4h0M389.0 836.0h0M424.8 823.0h0M412.9 843.4h0M404.6 846.0h0M396.6 842.5h0M406.3 825.5h0M428.0 859.1h0M412.2 836.2h0M407.5 818.8h0M401.4 850.6h0M431.8 859.5h0M416.7 850.0h0M413.5 833.4h0M415.7 830.8h0M417.8 862.2h0M392.5 842.4h0M417.4 844.5h0M391.2 857.0h0" stroke-width="1" stroke-opacity="0.7"/><path d="M423.3 842.2h0M426.7 860.5h0M423.0 848.4h0M415.6 856.6h0M429.2 859.2h0M390.7 825.3h0M390.8 850.3h0M433.7 839.4h0M415.8 842.2h0M424.5 857.2h0M412.8 859.1h0M418.1 834.1h0M403.7 842.8h0M421.0 854.5h0M433.8 855.1h0M403.0 853.9h0M424.8 855.5h0M429.0 835.1h0M421.1 854.7h0M411.2 843.3h0M401.5 817.6h0M399.0 838.0h0M413.0 870.7h0M418.2 857.7h0M402.9 864.0h0" stroke-width="1" stroke-opacity="0.95"/><path d="M414.5 832.8h0M418.3 853.1h0M383.6 833.5h0M403.2 870.3h0M407.5 832.0h0M397.9 853.2h0M416.9 860.7h0M409.5 822.9h0M401.8 867.1h0M415.3 848.3h0M412.5 838.6h0M430.0 839.6h0M415.0 851.0h0M416.2 830.0h0M390.0 828.0h0" stroke-width="1.4" stroke-opacity="0.45"/><path d="M392.1 861.1h0M387.7 834.0h0M409.3 817.9h0M415.3 858.0h0M415.9 848.5h0M409.3 849.2h0M418.1 853.2h0M406.4 822.3h0M415.5 833.4h0M422.4 860.9h0M408.9 838.2h0M416.1 838.4h0M404.2 835.9h0M385.2 833.3h0M428.2 849.0h0M414.2 830.2h0M402.8 852.6h0M403.0 847.9h0M388.1 840.5h0M416.8 849.0h0M387.7 826.4h0M386.2 836.7h0M397.6 868.4h0M432.4 832.5h0M398.2 837.1h0M423.5 851.7h0M420.5 850.9h0M418.1 852.4h0M427.7 845.6h0M397.6 831.0h0M419.2 827.1h0M392.7 854.7h0M400.8 822.3h0M419.5 856.3h0M427.4 852.1h0M419.2 850.3h0M418.8 858.5h0M424.4 828.3h0M397.8 852.1h0M393.4 837.5h0M422.2 853.8h0M411.6 837.8h0M431.1 855.5h0M415.8 832.6h0M419.0 849.5h0" stroke-width="1.4" stroke-opacity="0.7"/><path d="M422.8 833.6h0M422.1 845.4h0M417.5 863.7h0M422.3 846.0h0M423.6 819.7h0M418.8 851.5h0M418.0 859.3h0M420.0 855.1h0M427.9 858.4h0M436.0 837.5h0M425.8 857.5h0M392.8 847.6h0M405.9 828.8h0M381.7 842.7h0M424.9 852.1h0M401.8 844.2h0M401.9 854.9h0M416.5 868.4h0M394.2 854.1h0M421.8 848.1h0M398.4 841.3h0M414.7 849.4h0M423.7 853.0h0M423.8 857.1h0M406.8 847.0h0M410.1 853.7h0M400.1 850.6h0M421.8 847.7h0M381.1 848.7h0M418.3 852.1h0M395.6 862.1h0M418.9 857.7h0M400.0 844.7h0M416.4 851.3h0M405.0 835.3h0M398.9 818.0h0M423.5 853.3h0M404.4 870.8h0M413.1 827.1h0M409.1 859.0h0M386.1 839.2h0M397.2 854.4h0M413.2 861.2h0M420.6 836.5h0M419.0 860.2h0" stroke-width="1.4" stroke-opacity="0.95"/><path d="M398.3 837.4h0M401.0 834.4h0M402.4 847.7h0M435.7 845.8h0M419.0 845.7h0" stroke-width="1.9" stroke-opacity="0.45"/><path d="M396.4 863.4h0M399.6 829.5h0M411.0 863.0h0M431.4 847.1h0M393.8 828.9h0M409.3 830.2h0M397.3 847.1h0M397.3 839.2h0M419.0 840.1h0M422.4 858.1h0M397.1 841.2h0M388.3 854.0h0M418.9 845.3h0M423.1 818.7h0M417.5 850.5h0" stroke-width="1.9" stroke-opacity="0.7"/><path d="M424.1 865.5h0M426.5 845.6h0M414.1 852.1h0M391.4 850.5h0M406.1 845.9h0M418.1 840.4h0M422.3 853.3h0M425.2 847.7h0M407.1 870.0h0M403.5 850.3h0M430.0 840.4h0M422.5 865.1h0M406.8 842.4h0M405.9 863.2h0" stroke-width="1.9" stroke-opacity="0.95"/><path d="M425.2 845.0h0M418.0 822.5h0M411.4 846.9h0" stroke-width="2.5" stroke-opacity="0.7"/><path d="M385.1 854.4h0M427.6 851.9h0M417.4 857.3h0M394.9 834.3h0M402.0 847.5h0M415.4 863.0h0M418.6 854.6h0M425.8 854.3h0M395.6 849.0h0" stroke-width="2.5" stroke-opacity="0.95"/><path d="M409.2 823.7h0M427.2 858.5h0" stroke-width="3.2" stroke-opacity="0.7"/><path d="M425.2 865.8h0M398.0 818.3h0M417.8 857.6h0M405.3 842.1h0" stroke-width="3.2" stroke-opacity="0.95"/><path d="M398.5 856.9h0M419.3 834.9h0" stroke-width="4" stroke-opacity="0.7"/><path d="M411.5 855.7h0M396.2 818.3h0M427.4 852.4h0M414.8 837.6h0M397.8 848.8h0M421.7 867.6h0" stroke-width="4" stroke-opacity="0.95"/><path d="M409.1 816.9h0" stroke-width="5" stroke-opacity="0.7"/><path d="M394.1 818.4h0" stroke-width="5" stroke-opacity="0.95"/></g>
<rect x="260.1" y="80.1" width="87.9" height="26.7" fill="#e2e2ef"/>
<rect x="273.3" y="91.4" width="16.7" height="5.8" rx="2.9" fill="#05050f" fill-opacity="1" filter="url(#bl)"/>
<rect x="274.8" y="82.6" width="14.4" height="4.4" rx="2.2" fill="#05050f" fill-opacity="0.3" filter="url(#bl)"/>
<rect x="275.3" y="87.1" width="13.4" height="3.8" rx="1.9" fill="#05050f" fill-opacity="0.15" filter="url(#bl)"/>
<rect x="297.4" y="91.6" width="13.8" height="4.8" rx="2.4" fill="#05050f" fill-opacity="0.42" filter="url(#bl)"/>
<rect x="320" y="89.8" width="13" height="4.3" rx="2.15" fill="#05050f" fill-opacity="0.32" filter="url(#bl)"/>
<rect x="297.8" y="83.1" width="12.4" height="2.3" rx="1.15" fill="#05050f" fill-opacity="0.08" filter="url(#bl)"/>
<rect x="260.1" y="80.7" width="4.9" height="1.6" fill="#6c9be0" opacity="0.6" filter="url(#bl2)"/>
<rect x="260.1" y="93.6" width="4.9" height="1.8" fill="#6c9be0" opacity="0.5" filter="url(#bl2)"/>
<rect x="343.5" y="80.7" width="4.5" height="1.6" fill="#6c9be0" opacity="0.5" filter="url(#bl2)"/>
<rect x="343.5" y="93.6" width="4.5" height="1.8" fill="#6c9be0" opacity="0.5" filter="url(#bl2)"/>
<rect x="260.1" y="111.5" width="87.9" height="27.7" fill="#e2e2ef"/>
<rect x="268.9" y="122.8" width="20.1" height="5.8" rx="2.9" fill="#05050f" fill-opacity="1" filter="url(#bl)"/>
<rect x="292.1" y="122.8" width="20" height="5.8" rx="2.9" fill="#05050f" fill-opacity="1" filter="url(#bl)"/>
<rect x="316.2" y="122.6" width="22.2" height="6.2" rx="3.1" fill="#05050f" fill-opacity="1" filter="url(#bl)"/>
<rect x="260.1" y="124.5" width="5.9" height="2" fill="#6c9be0" opacity="0.6" filter="url(#bl2)"/>
<rect x="343" y="124.5" width="5" height="2" fill="#6c9be0" opacity="0.6" filter="url(#bl2)"/>
<rect x="260.1" y="137.3" width="3.9" height="1.4" fill="#6c9be0" opacity="0.4" filter="url(#bl2)"/>
<rect x="344" y="137.3" width="4" height="1.4" fill="#6c9be0" opacity="0.4" filter="url(#bl2)"/>
<rect x="260.4" y="111.7" width="7" height="1.4" fill="#e03050" opacity="0.8" filter="url(#bl2)"/>
<rect x="343.7" y="111.7" width="4" height="1.4" fill="#e03050" opacity="0.8" filter="url(#bl2)"/>
<rect x="353" y="80.1" width="84" height="26.7" fill="#e2e2ef"/>
<rect x="364.6" y="91.2" width="16.8" height="6.8" rx="3.4" fill="#05050f" fill-opacity="1" filter="url(#bl)"/>
<rect x="365.3" y="82.4" width="15.4" height="5.6" rx="2.8" fill="#05050f" fill-opacity="0.38" filter="url(#bl)"/>
<rect x="365.8" y="87.1" width="14.4" height="4.3" rx="2.15" fill="#05050f" fill-opacity="0.2" filter="url(#bl)"/>
<rect x="388.8" y="92.1" width="16.9" height="3.8" rx="1.9" fill="#05050f" fill-opacity="0.18" filter="url(#bl)"/>
<rect x="411.2" y="92.1" width="16.8" height="3.8" rx="1.9" fill="#05050f" fill-opacity="0.14" filter="url(#bl)"/>
<rect x="388.8" y="83.6" width="16.9" height="2.8" rx="1.4" fill="#05050f" fill-opacity="0.06" filter="url(#bl)"/>
<rect x="411.2" y="83.6" width="16.8" height="2.8" rx="1.4" fill="#05050f" fill-opacity="0.05" filter="url(#bl)"/>
<rect x="353" y="80.7" width="5" height="1.6" fill="#6c9be0" opacity="0.6" filter="url(#bl2)"/>
<rect x="353" y="93.8" width="5" height="1.8" fill="#6c9be0" opacity="0.5" filter="url(#bl2)"/>
<rect x="433" y="80.7" width="4" height="1.6" fill="#6c9be0" opacity="0.5" filter="url(#bl2)"/>
<rect x="433" y="94.1" width="4" height="1.8" fill="#6c9be0" opacity="0.5" filter="url(#bl2)"/>
<rect x="353" y="112.3" width="84" height="26.4" fill="#e2e2ef"/>
<rect x="365.3" y="122.4" width="18.7" height="5.4" rx="2.7" fill="#05050f" fill-opacity="0.97" filter="url(#bl)"/>
<rect x="388.8" y="122.2" width="16.9" height="5.4" rx="2.7" fill="#05050f" fill-opacity="0.95" filter="url(#bl)"/>
<rect x="411.2" y="122.2" width="18.2" height="5.6" rx="2.8" fill="#05050f" fill-opacity="0.97" filter="url(#bl)"/>
<rect x="353" y="123.2" width="9" height="2.2" fill="#6c9be0" opacity="0.6" filter="url(#bl2)"/>
<rect x="433" y="123.7" width="4" height="2.2" fill="#6c9be0" opacity="0.6" filter="url(#bl2)"/>
<rect x="353.3" y="112.5" width="7" height="1.4" fill="#e03050" opacity="0.8" filter="url(#bl2)"/>
<rect x="432.7" y="112.5" width="4" height="1.4" fill="#e03050" opacity="0.8" filter="url(#bl2)"/>
</svg>
</body></html>
